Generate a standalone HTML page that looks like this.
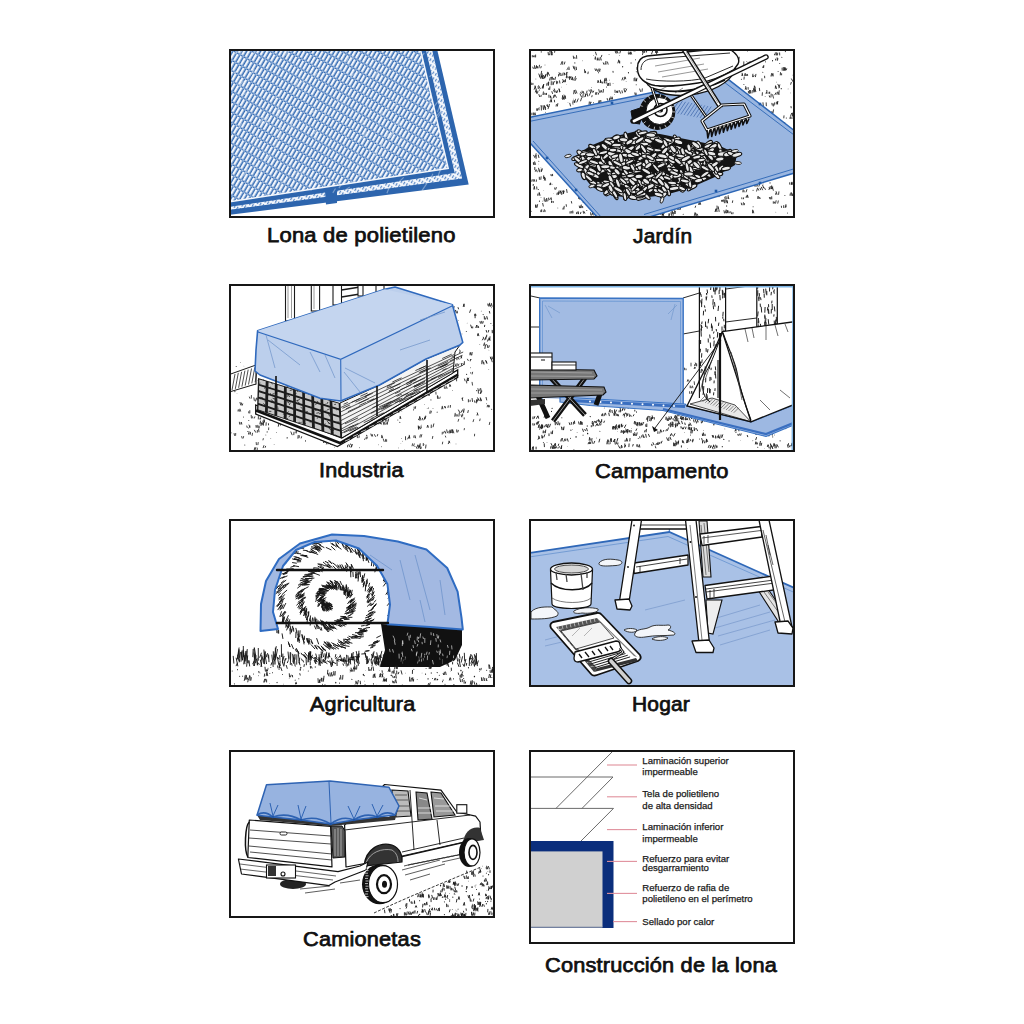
<!DOCTYPE html>
<html><head><meta charset="utf-8">
<style>
html,body{margin:0;padding:0;background:#fff;width:1024px;height:1024px;overflow:hidden;position:relative}
.lbl{position:absolute;font-family:"Liberation Sans",sans-serif;font-weight:normal;font-size:20.5px;color:#101010;white-space:nowrap;line-height:21px;transform-origin:0 0;-webkit-text-stroke:0.75px #101010;letter-spacing:0.2px}
.dt{position:absolute;font-family:"Liberation Sans",sans-serif;font-size:9.6px;color:#1a1a1a;white-space:nowrap;line-height:9.6px;-webkit-text-stroke:0.25px #1a1a1a}
svg{position:absolute;left:0;top:0}
</style></head><body>
<svg width="1024" height="1024" viewBox="0 0 1024 1024">
<defs>
<pattern id="tex1" width="4" height="9" patternUnits="userSpaceOnUse" patternTransform="rotate(30)">
<rect width="4" height="9" fill="#3169b2"/>
<rect x="0" y="0" width="2.45" height="7.7" fill="#f0f4fb"/>
<rect x="2.45" y="7.7" width="1.55" height="1.3" fill="#b5cbe8"/>
</pattern>
<pattern id="tex1b" width="3" height="5" patternUnits="userSpaceOnUse" patternTransform="rotate(30)">
<rect width="3" height="5" fill="#f4f7fc"/>
<rect x="0" y="0" width="1.2" height="3" fill="#5b89c6"/>
</pattern>

<clipPath id="c1"><rect x="230" y="50" width="264" height="167"/></clipPath>
<clipPath id="c2"><rect x="530" y="50" width="264" height="167"/></clipPath>
<clipPath id="c3"><rect x="230" y="285" width="264" height="166"/></clipPath>
<clipPath id="c4"><rect x="530" y="285" width="264" height="166"/></clipPath>
<clipPath id="c5"><rect x="230" y="520" width="264" height="166"/></clipPath>
<clipPath id="c6"><rect x="530" y="520" width="264" height="166"/></clipPath>
<clipPath id="c7"><rect x="230" y="751" width="264" height="166"/></clipPath>
<clipPath id="c8"><rect x="530" y="751" width="264" height="192"/></clipPath>
</defs>
<g clip-path="url(#c1)">
<path d="M220,40 L434.9,40 L468.7,184.5 L220,216.1 Z" fill="#2d65ae"/>
<path d="M220,40 L429.8,40 L462.1,178.4 L220,211.2 Z" fill="url(#tex1b)"/>
<path d="M220,40 L423.6,40 L454.7,173.1 L220,208.3 Z" fill="#2d65ae"/>
<path d="M220,40 L419.0,40 L449.1,169.0 L220,203.9 Z" fill="#f4f7fc"/>
<path d="M220,40 L417.5,40 L447.3,167.8 L220,202.4 Z" fill="url(#tex1)"/>
<polygon points="325,191 337,190 337,203 326,204.5" fill="#2d65ae"/>
<path d="M259.9,173.2l4.3,-6.7M335.1,116.3l4.0,-4.1M251.5,56.1l4.5,-5.8M390.6,52.3l3.3,-4.4M279.6,187.2l4.7,-7.8M237.3,129.4l4.8,-6.1M277.1,112.4l2.1,-6.9M323.1,122.9l2.7,-6.8M277.5,117.7l2.9,-7.9M406.2,131.6l3.9,-7.1M438.4,175.0l2.4,-6.3M382.1,153.7l4.8,-5.9M404.6,147.9l2.9,-5.1M415.6,173.0l3.5,-5.1M239.2,86.7l4.4,-5.9M268.0,130.5l4.1,-4.6M309.9,114.8l3.5,-4.1M340.4,108.2l3.5,-7.9M241.0,152.6l4.9,-5.0M313.9,76.4l3.5,-3.1M392.3,129.2l4.6,-6.8M338.9,188.2l3.7,-5.7M288.0,130.4l4.9,-8.0M395.0,169.3l4.7,-4.3M400.3,126.2l3.7,-5.9M243.7,176.4l3.7,-7.0M337.0,121.3l3.1,-6.3M344.0,141.2l3.8,-5.7M237.8,84.8l2.5,-5.1M411.1,166.2l4.4,-3.9M285.1,172.4l4.0,-7.6M235.5,54.1l4.3,-6.8M254.8,141.3l3.0,-7.7M265.2,127.4l2.5,-6.6M380.0,117.0l3.0,-5.6M236.9,107.3l3.3,-7.1M254.6,180.7l3.5,-7.0M358.0,168.8l2.1,-7.9M262.5,154.8l2.5,-4.5M373.1,129.9l2.7,-3.1M397.9,125.9l2.7,-4.8M314.1,134.3l3.0,-4.8M244.2,94.7l4.9,-3.6M295.7,174.8l2.9,-3.3M386.7,111.5l2.8,-8.0M414.8,57.4l4.5,-3.2M350.6,76.5l4.6,-3.1M378.4,124.8l3.1,-6.3M274.8,148.4l3.3,-7.0M253.7,147.2l2.9,-5.5M299.7,176.6l4.7,-7.9M273.8,98.9l5.0,-4.1M302.5,82.5l4.0,-3.8M425.9,101.2l4.6,-4.6M332.8,192.9l2.7,-4.4M249.6,76.3l4.7,-6.9M389.9,137.8l4.5,-6.2M302.8,93.6l4.6,-5.0M430.5,178.9l2.4,-5.2M253.7,57.6l2.2,-3.7M395.9,170.5l3.0,-4.9M394.6,106.1l3.7,-6.9M249.0,90.1l4.7,-5.2M424.4,117.5l2.8,-4.1M404.2,53.8l4.0,-7.5M255.9,178.6l2.1,-6.8M437.5,112.2l2.3,-7.2M282.2,158.4l2.3,-3.4M310.7,190.7l4.7,-6.5M284.7,120.2l2.3,-4.7M240.2,53.5l4.9,-6.5M356.1,116.3l2.9,-7.7M422.0,190.7l4.9,-7.4M276.8,140.3l4.9,-5.3M375.1,146.6l2.8,-5.3M295.9,87.2l2.2,-6.6M436.5,116.1l4.0,-4.8M427.7,107.8l2.9,-6.4M297.9,173.1l4.7,-6.5M301.5,129.8l3.7,-5.0M283.0,54.9l2.7,-7.6M346.7,62.1l2.2,-4.8M292.5,165.3l3.5,-3.7M264.1,123.7l4.4,-7.6M429.4,76.8l4.3,-3.1M402.9,97.7l2.3,-5.4M423.2,94.0l4.7,-7.3M421.4,56.5l2.9,-3.5M399.2,181.7l4.5,-4.3M375.4,77.5l3.3,-7.2M380.7,147.5l2.8,-7.7M432.4,167.6l3.6,-5.3M409.1,116.8l3.2,-6.3M285.7,55.5l3.9,-5.9M350.7,60.9l3.1,-7.3M258.0,89.1l4.5,-6.0M315.4,139.6l2.7,-8.0M342.0,123.6l3.9,-5.8M374.8,156.6l2.7,-5.5M331.6,84.2l3.2,-5.2M420.6,183.2l2.8,-4.8M242.0,62.2l3.5,-3.6M265.2,161.5l4.6,-6.4M376.1,173.4l3.1,-4.5M385.2,137.0l4.6,-3.5M431.7,133.7l2.5,-6.7M277.3,133.4l4.3,-7.7M373.8,154.6l3.0,-5.4M266.3,156.4l2.1,-3.1M400.1,141.9l2.8,-3.4M431.6,71.9l4.3,-3.8M369.2,152.2l3.3,-3.4M434.0,106.7l4.4,-5.8M266.3,98.5l2.4,-3.5M431.6,69.0l3.8,-6.0M256.6,94.3l2.7,-4.3M232.8,79.1l3.3,-7.9M362.5,138.6l4.5,-7.0M291.2,129.6l2.8,-5.1M284.2,149.7l4.4,-4.0M434.5,130.0l3.5,-3.7M392.0,133.6l3.1,-6.6M254.5,167.5l2.4,-4.3M345.4,190.0l4.3,-3.1M260.4,123.6l3.7,-6.4M336.6,103.0l3.6,-8.0M324.0,116.3l2.9,-6.0M394.9,149.7l3.5,-4.8M310.5,81.2l2.0,-6.6M356.4,178.1l4.5,-5.4M437.3,118.0l4.5,-6.0M386.9,193.2l2.9,-7.1M361.0,127.9l3.1,-8.0M312.9,112.9l3.2,-3.7M353.6,156.9l4.7,-4.3M334.5,158.6l3.9,-4.8M363.0,110.2l3.9,-4.8M426.9,163.9l4.5,-4.2M401.6,138.6l3.0,-6.7M379.3,177.0l3.6,-7.2" stroke="#ffffff" stroke-opacity="0.35" stroke-width="1.2" fill="none"/>
</g>
<g clip-path="url(#c2)">
<path d="M781.5,207.4l-0.1,-1.2M742.9,191.9l0.2,-2.2M744.1,191.9l-0.1,-1.3M746.1,191.9l0.8,-2.3M601.3,56.9l0.5,-1.6M574.1,80.3l-0.1,-1.0M575.4,80.3l0.7,-1.9M578.6,198.4l0.7,-2.4M580.2,198.4l-0.3,-2.6M581.4,198.4l-0.7,-2.8M582.3,198.4l-0.1,-2.4M589.1,104.6l0.2,-2.7M590.6,104.6l-0.3,-1.9M533.2,185.5l0.1,-1.1M754.7,91.4l-0.9,-2.8M755.8,91.4l-0.8,-2.4M596.4,54.9l-0.9,-2.8M536.5,93.2l0.0,-2.5M537.5,93.2l0.4,-2.1M785.4,51.7l-0.0,-1.6M543.0,94.6l0.4,-2.7M544.0,94.6l0.2,-1.4M546.0,94.6l-0.0,-1.2M546.3,94.6l0.1,-1.3M665.9,74.7l0.1,-1.5M666.8,74.7l0.0,-1.0M667.7,74.7l-0.4,-1.1M664.2,213.3l-0.6,-2.9M532.3,56.9l0.0,-1.3M533.7,56.9l-0.4,-1.1M534.9,56.9l-0.4,-1.1M535.6,56.9l0.0,-1.9M642.5,54.5l0.8,-2.6M656.7,54.2l-0.3,-2.2M628.5,54.1l-0.2,-1.2M629.7,54.1l-0.8,-2.2M630.5,54.1l-0.0,-1.8M631.6,54.1l-0.6,-2.1M551.1,175.6l-0.1,-1.2M552.6,175.6l-0.1,-1.3M597.6,71.3l0.7,-2.2M599.0,71.3l0.1,-1.0M599.8,71.3l-0.0,-2.4M741.7,204.8l-0.4,-1.7M743.1,204.8l0.3,-2.1M744.3,204.8l0.2,-1.2M549.6,80.1l0.7,-2.5M551.1,80.1l0.4,-2.8M540.8,211.7l0.2,-1.5M541.7,211.7l0.0,-1.9M543.7,211.7l0.6,-2.0M545.0,211.7l0.0,-1.2M762.0,80.8l-0.1,-2.0M754.2,88.1l0.2,-1.8M755.4,88.1l-0.8,-2.1M717.4,196.7l-0.9,-2.5M719.0,196.7l0.2,-2.5M762.8,67.6l0.5,-1.5M763.6,67.6l0.2,-2.0M665.5,79.6l0.5,-2.9M666.9,79.6l0.1,-2.8M773.3,203.2l0.0,-1.5M774.3,203.2l0.2,-1.1M775.6,203.2l0.5,-2.5M777.8,203.2l0.5,-2.3M566.3,77.8l0.4,-3.0M567.1,77.8l-0.0,-1.6M568.8,77.8l0.3,-1.0M569.9,77.8l0.2,-1.4M598.6,102.7l0.5,-2.2M599.5,102.7l0.4,-1.7M601.0,102.7l-0.2,-2.3M591.8,96.8l0.3,-1.2M698.6,204.4l0.4,-1.3M699.5,204.4l0.6,-2.4M700.6,204.4l-0.3,-1.2M550.0,101.9l0.4,-1.3M551.0,101.9l0.5,-1.9M551.7,101.9l-0.8,-2.8M554.6,101.9l-0.2,-1.7M698.1,75.8l-0.0,-1.4M699.0,75.8l-0.3,-2.5M700.0,75.8l-0.5,-1.7M543.3,206.1l-0.6,-2.7M717.2,209.0l-0.2,-3.0M718.6,209.0l-0.3,-2.2M672.1,213.5l-0.1,-2.7M673.0,213.5l-0.6,-1.9M675.2,213.5l-0.8,-2.9M674.7,213.5l0.7,-2.3M533.3,68.5l-0.5,-1.4M534.8,68.5l-0.3,-2.9M535.7,68.5l0.5,-1.9M547.9,74.0l0.0,-1.3M583.3,202.6l0.6,-2.3M584.2,202.6l-0.5,-1.9M585.0,202.6l-0.2,-1.2M573.7,68.4l-0.5,-2.2M574.8,68.4l-0.1,-1.6M731.5,213.8l-0.5,-1.8M732.9,213.8l0.1,-1.2M541.2,73.8l0.4,-2.5M543.5,178.4l0.2,-2.7M544.8,178.4l-0.4,-1.3M673.6,81.8l0.8,-2.8M607.5,85.5l-0.4,-2.4M608.6,85.5l-0.1,-2.1M610.1,85.5l-0.1,-2.4M597.7,82.5l0.3,-1.9M598.8,82.5l-0.5,-1.6M600.5,82.5l-0.0,-2.3M600.4,82.5l0.1,-2.3M775.7,194.4l0.2,-1.2M777.0,194.4l-0.9,-2.8M778.6,194.4l0.3,-2.6M681.4,86.0l-0.2,-2.2M682.8,86.0l0.6,-2.1M771.0,76.0l0.7,-2.6M772.0,76.0l0.7,-2.1M773.2,76.0l-0.2,-2.2M599.5,92.2l-0.7,-2.6M600.5,92.2l0.6,-1.7M601.9,92.2l-0.5,-1.4M603.2,92.2l0.2,-2.8M531.9,114.9l0.0,-1.8M533.4,114.9l0.0,-2.0M534.7,114.9l0.3,-2.1M535.5,114.9l-0.5,-1.4M564.9,74.4l-0.5,-1.4M566.2,74.4l0.3,-1.6M566.7,74.4l0.3,-2.1M716.3,56.6l0.6,-1.9M717.6,56.6l0.5,-1.6M718.5,56.6l0.2,-1.2M741.9,198.8l-0.1,-1.0M743.5,198.8l0.1,-1.0M573.6,58.4l-0.3,-2.3M575.0,58.4l-0.2,-1.1M576.7,58.4l-0.2,-2.8M548.7,89.5l0.2,-1.2M549.7,89.5l0.2,-2.7M668.7,215.4l0.4,-1.8M669.5,215.4l0.2,-1.2M671.6,215.4l-0.6,-2.8M673.1,215.4l0.2,-2.9M660.8,214.5l-0.2,-1.3M662.2,214.5l-0.1,-1.3M662.7,214.5l-0.1,-3.0M775.0,55.0l0.3,-2.1M776.5,55.0l-0.2,-2.4M777.5,55.0l0.2,-1.9M779.7,55.0l-0.1,-2.1M782.2,70.3l-0.1,-2.2M783.5,70.3l-0.2,-2.9M784.4,70.3l0.3,-2.5M785.0,70.3l-0.3,-2.6M789.8,184.3l-0.2,-1.5M791.4,184.3l0.2,-1.6M791.5,184.3l-0.2,-1.5M792.5,184.3l-0.4,-2.1M533.8,189.1l0.4,-2.2M534.7,189.1l-0.3,-2.6M536.9,189.1l-0.2,-2.2M647.5,66.6l-0.2,-1.7M716.3,52.6l0.5,-1.9M717.5,52.6l0.3,-2.7M718.1,52.6l0.1,-1.4M720.0,52.6l0.4,-1.6M752.5,212.9l0.1,-2.8M753.7,212.9l-0.5,-2.2M635.3,94.9l-0.5,-2.0M636.2,94.9l-0.2,-1.9M773.3,190.3l-0.7,-2.5M715.4,51.2l0.2,-1.9M536.7,110.3l0.1,-1.6M562.9,209.1l0.3,-1.2M563.9,209.1l0.3,-2.8M769.9,198.9l-0.5,-1.5M770.8,198.9l-0.1,-1.4M771.8,198.9l-0.1,-2.2M541.3,106.7l-0.2,-1.3M571.7,203.1l-0.3,-1.6M549.8,184.7l0.5,-1.6M550.6,184.7l0.1,-1.4M535.6,156.4l0.5,-2.7M724.4,212.9l-0.3,-1.9M725.2,212.9l0.7,-2.1M726.5,212.9l0.7,-2.5M752.6,76.7l0.3,-2.5M753.6,76.7l0.4,-1.2M755.5,76.7l0.4,-2.4M790.1,195.4l0.1,-1.4M791.3,195.4l-0.1,-2.9M792.5,195.4l0.6,-2.0M792.8,195.4l0.3,-1.2M780.3,74.9l0.2,-2.3M781.6,74.9l0.0,-1.2M693.2,83.8l-0.3,-2.1M637.4,68.6l-0.3,-1.1M638.5,68.6l0.3,-1.2M542.4,78.6l0.7,-2.8M543.4,78.6l-0.4,-1.3M642.7,52.2l-0.3,-1.0M644.2,52.2l-0.4,-1.8M644.6,52.2l0.6,-2.6M646.4,52.2l0.6,-2.6M783.8,207.2l-0.1,-1.6M785.4,207.2l0.5,-2.6M785.9,207.2l0.3,-1.3M549.9,52.3l-0.1,-2.8M551.0,52.3l0.0,-2.7M551.8,52.3l-0.5,-2.2M554.6,52.3l0.4,-2.6M764.7,77.8l-0.1,-1.6M579.7,199.2l-0.6,-1.8M583.5,213.2l-0.3,-2.0M584.8,213.2l-0.5,-1.4M544.4,180.2l0.6,-2.0M545.5,180.2l-0.9,-2.7M648.1,85.3l-0.1,-2.9M649.1,85.3l-0.9,-2.6M650.3,85.3l-0.3,-1.8M709.6,73.2l0.4,-1.1M710.4,73.2l0.3,-1.1M711.2,73.2l-0.5,-2.0M551.2,54.8l-0.2,-1.3M699.5,54.3l-0.8,-2.7M700.7,54.3l0.3,-2.3M702.6,54.3l0.4,-1.4M539.6,96.6l-0.7,-2.1M540.9,96.6l0.3,-1.4M744.0,79.2l0.2,-2.2M584.8,72.7l-0.3,-3.0M585.6,72.7l-0.1,-1.4M590.9,215.0l-0.3,-2.3M591.8,215.0l1.0,-2.7M593.3,215.0l-0.5,-1.6M694.4,215.4l0.6,-2.7M696.0,215.4l0.1,-1.4M696.2,215.4l-0.7,-2.2M697.7,215.4l-0.4,-1.2M566.4,206.3l-0.2,-1.7M616.3,51.3l-0.2,-1.0M589.3,91.0l-0.3,-1.0M695.2,207.4l0.4,-1.3M748.0,64.3l0.1,-2.0M749.4,64.3l0.5,-2.5M749.8,64.3l0.3,-1.6M709.3,56.0l0.7,-2.2M651.6,53.9l0.9,-2.5M617.9,62.9l0.8,-2.4M619.5,62.9l-0.8,-2.8M619.7,62.9l-0.0,-1.6M687.1,75.1l0.1,-1.7M688.3,75.1l-0.1,-2.7M690.0,75.1l-0.3,-2.3M562.2,98.5l0.5,-2.9M563.5,98.5l-0.6,-2.6M564.2,98.5l0.5,-2.7M565.6,98.5l-0.2,-2.4M546.6,85.2l0.5,-2.0M548.0,85.2l0.4,-3.0M548.5,85.2l0.2,-3.0M640.5,91.4l-0.8,-2.4M642.0,91.4l0.3,-2.6M730.2,53.7l0.0,-1.8M731.0,53.7l0.5,-2.0M732.0,53.7l0.4,-1.9M563.6,81.8l-0.8,-2.3M564.6,81.8l0.3,-1.5M565.4,81.8l0.1,-2.2M680.1,74.2l-0.7,-2.3M681.1,74.2l0.1,-1.4M682.5,74.2l0.2,-1.1M595.5,94.3l0.3,-1.7M596.5,94.3l0.4,-1.9M598.3,94.3l0.2,-1.0M724.4,202.8l-0.2,-2.9M726.0,202.8l-0.1,-2.1M727.6,202.8l-0.3,-1.0M727.4,202.8l-0.2,-2.2M746.1,197.4l0.4,-1.5M747.1,197.4l0.3,-1.7M748.1,197.4l-0.6,-2.2M743.8,64.8l0.0,-3.0M709.7,64.3l0.1,-1.8M710.9,64.3l1.0,-2.7M711.9,64.3l0.5,-2.0M713.6,64.3l0.3,-1.8M552.8,79.5l-0.4,-2.4M553.8,79.5l-0.1,-1.1M555.0,79.5l0.5,-2.3M633.8,51.1l-0.9,-2.6M635.1,51.1l0.3,-1.3M536.7,67.9l-0.2,-2.3M537.5,67.9l-0.1,-1.4M538.9,67.9l0.6,-2.7M540.8,67.9l0.4,-1.4M769.5,189.1l-0.3,-1.5M697.2,59.3l0.8,-2.6M695.8,68.0l-0.2,-2.0M696.8,68.0l-0.5,-2.7M698.4,68.0l-0.0,-2.0M669.8,81.2l0.0,-2.2M671.1,81.2l-0.2,-1.3M539.4,179.4l-0.1,-2.2M540.8,179.4l0.3,-2.6M721.6,201.3l0.0,-1.0M722.5,201.3l0.1,-1.1M723.7,201.3l0.1,-1.4M726.3,201.3l-0.4,-1.8M732.4,202.5l0.3,-1.7M595.5,70.5l-0.5,-1.6M596.9,70.5l-0.4,-1.5M587.9,73.7l0.3,-1.7M604.4,80.8l0.5,-2.0M605.4,80.8l-0.3,-2.1M606.7,80.8l-0.5,-2.6M644.7,73.8l-0.1,-2.3M645.7,73.8l-0.5,-1.9M647.8,73.8l0.1,-2.0M715.1,211.5l1.0,-2.8M715.9,211.5l-0.0,-2.0M717.1,211.5l-0.5,-2.3M719.1,211.5l-0.2,-1.7M615.1,92.4l-0.1,-2.2M616.4,92.4l0.3,-1.2M617.7,92.4l0.2,-1.4M617.6,92.4l-0.4,-1.1M613.1,72.3l-0.1,-1.0M568.0,69.5l-0.3,-1.4M569.2,69.5l-0.3,-2.5M570.0,213.1l0.1,-1.5M571.2,213.1l0.2,-1.5M572.8,213.1l-0.1,-2.1M667.4,56.3l-0.4,-1.1M668.4,56.3l-0.0,-1.0M665.7,88.3l0.4,-1.9M548.4,54.8l-0.3,-2.5M549.4,54.8l0.1,-1.0M551.6,54.8l0.5,-2.2M552.3,54.8l-0.7,-2.5M746.6,75.5l0.3,-1.0M747.6,75.5l-0.4,-1.2M651.2,78.6l-0.5,-2.5M579.6,207.7l-0.3,-1.7M580.5,207.7l0.7,-2.7M581.2,207.7l-0.0,-1.7M582.7,207.7l-0.1,-1.3M655.5,52.5l0.2,-2.4M656.9,52.5l-0.7,-2.7M657.7,52.5l-0.7,-2.6M727.2,212.8l0.6,-1.7M728.2,212.8l-0.3,-2.0M729.8,212.8l0.2,-1.1M754.7,186.2l-0.8,-2.4M755.9,186.2l-0.0,-1.0M757.1,186.2l0.2,-1.0M758.9,186.2l0.8,-2.3M741.9,75.6l0.4,-1.4M742.7,75.6l-0.6,-2.4M744.9,75.6l0.1,-1.5M745.2,75.6l0.0,-2.1M597.3,60.1l0.3,-1.0M598.2,60.1l0.1,-1.2M599.7,60.1l0.6,-2.7M601.2,60.1l-0.2,-1.3M551.6,202.6l-0.1,-1.6M553.2,202.6l0.1,-1.1M762.2,95.4l0.2,-2.7M721.5,68.2l0.2,-2.4M722.6,68.2l0.8,-2.4M723.8,68.2l-0.3,-1.4M725.0,68.2l0.3,-2.1M783.8,117.9l0.2,-2.1M615.8,53.0l-0.7,-2.2M616.8,53.0l0.4,-2.1M617.9,53.0l-0.3,-1.0M619.9,53.0l0.5,-1.7M672.4,61.3l-0.1,-2.8M601.9,83.0l-0.3,-1.1M602.7,83.0l0.1,-1.0M604.4,83.0l0.3,-2.2M606.0,83.0l0.3,-1.1M790.7,84.3l0.6,-1.9M678.0,72.2l0.8,-2.3M679.6,72.2l0.4,-1.7M785.5,69.9l-0.1,-1.9M786.3,69.9l0.4,-1.2M668.4,83.2l-0.6,-2.8M669.4,83.2l0.4,-2.5M671.1,83.2l0.5,-2.0M775.6,60.1l-0.1,-1.0M777.2,60.1l-0.1,-2.3M777.6,60.1l0.2,-1.7M695.0,70.5l0.3,-1.8M696.0,70.5l-0.0,-2.8M698.1,70.5l0.1,-2.5M697.7,70.5l-0.3,-1.0M531.6,84.5l-0.7,-1.9M532.9,84.5l-0.0,-1.2M693.6,60.3l-0.1,-1.5M695.1,60.3l-0.6,-2.5M695.7,60.3l-0.0,-1.8M576.5,213.7l0.3,-1.4M578.1,213.7l-0.0,-2.1M578.4,213.7l-0.2,-1.2M580.5,213.7l0.4,-1.4M757.8,198.6l0.0,-2.0M759.0,198.6l-0.4,-1.9M760.1,198.6l-0.4,-1.2M749.1,64.4l0.9,-2.5M750.0,64.4l0.3,-1.6M570.5,106.0l-0.7,-2.7M634.1,80.8l0.0,-2.3M635.3,80.8l-0.4,-3.0M636.4,80.8l0.5,-2.5M636.6,80.8l-0.2,-1.5M766.1,93.4l0.3,-1.0M767.0,93.4l-0.2,-3.0M769.0,93.4l0.1,-1.2M769.7,93.4l0.0,-1.2M562.7,99.5l0.2,-1.2M564.1,99.5l-0.4,-1.8M773.3,106.1l-0.1,-2.2M769.8,188.7l0.4,-2.2M771.0,188.7l0.6,-2.9M771.4,188.7l0.7,-2.1M772.3,188.7l0.4,-1.5M595.1,59.2l-0.1,-1.2M595.9,59.2l-0.5,-2.4M597.5,59.2l0.3,-1.4M791.2,107.8l-0.2,-1.3M790.0,118.6l0.2,-1.4M791.1,118.6l-0.1,-1.6M793.1,118.6l0.1,-2.4M793.7,118.6l0.4,-2.2M531.8,181.3l0.3,-1.6M533.3,181.3l-0.1,-1.4M534.7,181.3l-0.6,-1.9M536.4,181.3l-0.0,-1.4M535.4,92.0l0.8,-2.6M590.8,92.1l0.1,-2.4M592.3,92.1l-0.7,-2.1M593.3,92.1l0.3,-1.0M681.7,60.7l0.5,-2.2M682.6,60.7l0.5,-2.1M684.5,60.7l0.4,-1.7M745.3,89.3l0.3,-1.4M746.4,89.3l-0.7,-2.8M748.2,89.3l-0.1,-1.8M677.8,209.6l0.2,-1.4M679.0,209.6l-0.4,-2.0M680.1,209.6l0.5,-1.4M763.6,187.9l-1.0,-2.8M554.9,189.2l-0.2,-1.3M555.8,189.2l0.5,-1.7M737.9,59.1l-0.7,-2.1M738.9,59.1l0.3,-1.9M662.2,215.8l0.4,-1.9M663.7,215.8l-0.5,-2.6M654.8,67.7l0.4,-1.2M556.1,106.1l0.3,-1.6M557.4,106.1l0.4,-2.5M651.8,88.2l0.5,-2.0M603.7,64.2l-0.4,-1.4M605.0,64.2l0.2,-1.2M606.0,64.2l-0.1,-2.8M608.1,64.2l-0.6,-2.2M549.0,97.4l-0.1,-2.3M550.6,97.4l-0.2,-1.4M537.7,195.3l0.2,-1.4M539.1,195.3l0.1,-2.8M540.0,195.3l-0.5,-1.9M533.5,164.4l-0.1,-1.7M534.3,164.4l-0.3,-1.8M535.5,164.4l-0.8,-2.6M697.3,58.2l-0.2,-1.2M698.1,58.2l0.2,-2.5M699.2,58.2l-0.7,-2.2M641.6,70.0l-0.8,-2.6M642.6,70.0l0.4,-1.2M658.5,68.4l0.3,-1.7M659.3,68.4l-0.1,-3.0M660.4,68.4l0.5,-1.9M663.0,68.4l0.1,-1.9M534.8,169.7l-0.0,-2.3M725.1,198.7l-0.3,-1.5M726.3,198.7l-0.4,-2.3M728.0,198.7l0.2,-3.0M728.8,198.7l-0.4,-1.2M535.5,207.3l0.0,-2.2M536.4,207.3l-0.4,-2.3M537.1,207.3l0.5,-2.7" stroke="#1a1a1a" stroke-width="0.85" fill="none" stroke-linecap="round"/>
<path d="M790.6,116.1l1.0,-2.8M792.5,115.9l-0.0,-2.8M581.3,93.6l-0.6,-1.4M582.4,92.8l-0.3,-1.7M583.9,93.8l-0.5,-2.2M586.7,92.6l0.3,-1.6M551.2,98.3l-0.6,-2.0M553.1,98.0l1.4,-2.7M554.1,97.0l-0.1,-1.6M556.3,97.3l-1.3,-2.5M557.0,194.7l0.1,-1.5M558.4,194.6l0.6,-2.5M561.4,194.4l-0.8,-3.0M562.9,193.9l1.2,-2.6M756.6,191.1l0.9,-3.0M758.7,190.2l-0.7,-1.5M760.5,189.7l-0.4,-1.5M762.5,189.8l-1.1,-2.6M765.4,189.5l-0.9,-1.6M774.9,94.7l0.9,-1.8M776.9,94.3l0.5,-2.2M778.3,94.3l-0.1,-1.7M778.9,93.3l0.3,-2.6M540.6,78.4l-1.1,-2.4M541.9,78.0l-0.7,-2.3M544.7,78.1l1.0,-2.5M544.5,77.7l-0.9,-2.2M544.7,77.5l0.9,-2.6M535.4,171.3l0.4,-1.2M537.2,171.8l-0.6,-1.8M539.1,171.1l-0.5,-2.9M541.5,171.2l0.5,-1.7M539.7,171.8l0.1,-2.0M541.4,171.4l0.7,-2.9M560.9,64.5l1.1,-2.9M562.7,64.3l0.0,-2.4M564.4,64.0l0.5,-2.0M544.3,201.0l-0.1,-3.2M545.4,201.5l1.1,-2.0M546.6,201.3l-0.8,-1.6M547.8,200.9l0.7,-2.9M551.4,199.6l-0.2,-1.8M549.7,199.7l0.7,-1.5M769.6,97.0l-0.3,-1.2M770.9,97.1l0.3,-3.0M773.2,97.1l-0.5,-2.4M575.1,70.1l-0.5,-1.4M576.5,69.6l-0.3,-2.5M535.0,157.8l-1.3,-2.5M536.2,158.3l-0.1,-2.8M538.9,157.6l-0.6,-2.6M558.5,193.8l0.6,-2.9M559.8,193.1l1.0,-2.4M561.3,193.3l1.1,-2.3M563.7,192.8l-0.0,-2.2M563.4,193.5l-0.2,-2.3M567.1,192.5l-0.5,-3.0" stroke="#1a1a1a" stroke-width="0.85" fill="none" stroke-linecap="round"/>
<path d="M682.7,214.2a0.5,0.5 0 1,0 1.0,0a0.5,0.5 0 1,0 -1.0,0M725.7,210.1a0.5,0.5 0 1,0 0.9,0a0.5,0.5 0 1,0 -0.9,0M787.1,213.0a0.5,0.5 0 1,0 1.0,0a0.5,0.5 0 1,0 -1.0,0M746.9,51.6a0.4,0.4 0 1,0 0.8,0a0.4,0.4 0 1,0 -0.8,0M652.6,90.2a0.5,0.5 0 1,0 1.1,0a0.5,0.5 0 1,0 -1.1,0M537.8,189.5a0.5,0.5 0 1,0 1.1,0a0.5,0.5 0 1,0 -1.1,0M619.1,55.4a0.4,0.4 0 1,0 0.8,0a0.4,0.4 0 1,0 -0.8,0M557.4,208.0a0.4,0.4 0 1,0 0.9,0a0.4,0.4 0 1,0 -0.9,0M586.3,210.4a0.5,0.5 0 1,0 1.0,0a0.5,0.5 0 1,0 -1.0,0M762.8,187.2a0.5,0.5 0 1,0 1.1,0a0.5,0.5 0 1,0 -1.1,0M635.7,84.8a0.5,0.5 0 1,0 1.0,0a0.5,0.5 0 1,0 -1.0,0M624.5,88.5a0.5,0.5 0 1,0 1.1,0a0.5,0.5 0 1,0 -1.1,0M787.7,88.9a0.4,0.4 0 1,0 0.8,0a0.4,0.4 0 1,0 -0.8,0M666.2,69.6a0.5,0.5 0 1,0 0.9,0a0.5,0.5 0 1,0 -0.9,0M777.6,71.5a0.5,0.5 0 1,0 1.0,0a0.5,0.5 0 1,0 -1.0,0M790.4,92.9a0.3,0.3 0 1,0 0.7,0a0.3,0.3 0 1,0 -0.7,0M682.4,54.8a0.3,0.3 0 1,0 0.6,0a0.3,0.3 0 1,0 -0.6,0M553.5,193.7a0.3,0.3 0 1,0 0.6,0a0.3,0.3 0 1,0 -0.6,0M628.0,72.7a0.5,0.5 0 1,0 0.9,0a0.5,0.5 0 1,0 -0.9,0M784.2,122.6a0.5,0.5 0 1,0 1.0,0a0.5,0.5 0 1,0 -1.0,0M772.1,60.7a0.5,0.5 0 1,0 0.9,0a0.5,0.5 0 1,0 -0.9,0M775.5,212.2a0.3,0.3 0 1,0 0.7,0a0.3,0.3 0 1,0 -0.7,0M563.6,94.7a0.3,0.3 0 1,0 0.7,0a0.3,0.3 0 1,0 -0.7,0M572.5,104.1a0.5,0.5 0 1,0 1.0,0a0.5,0.5 0 1,0 -1.0,0M778.8,94.1a0.4,0.4 0 1,0 0.7,0a0.4,0.4 0 1,0 -0.7,0M582.1,60.8a0.4,0.4 0 1,0 0.8,0a0.4,0.4 0 1,0 -0.8,0M635.8,71.8a0.5,0.5 0 1,0 1.0,0a0.5,0.5 0 1,0 -1.0,0M600.2,69.4a0.4,0.4 0 1,0 0.8,0a0.4,0.4 0 1,0 -0.8,0M612.6,83.6a0.4,0.4 0 1,0 0.9,0a0.4,0.4 0 1,0 -0.9,0M752.7,190.3a0.4,0.4 0 1,0 0.7,0a0.4,0.4 0 1,0 -0.7,0M698.8,61.7a0.5,0.5 0 1,0 1.0,0a0.5,0.5 0 1,0 -1.0,0M762.3,72.2a0.5,0.5 0 1,0 1.0,0a0.5,0.5 0 1,0 -1.0,0M780.8,88.6a0.5,0.5 0 1,0 0.9,0a0.5,0.5 0 1,0 -0.9,0M757.8,58.0a0.5,0.5 0 1,0 0.9,0a0.5,0.5 0 1,0 -0.9,0M764.7,96.5a0.4,0.4 0 1,0 0.8,0a0.4,0.4 0 1,0 -0.8,0M790.7,193.6a0.5,0.5 0 1,0 0.9,0a0.5,0.5 0 1,0 -0.9,0M538.9,90.0a0.5,0.5 0 1,0 1.1,0a0.5,0.5 0 1,0 -1.1,0M608.6,54.5a0.4,0.4 0 1,0 0.9,0a0.4,0.4 0 1,0 -0.9,0M551.6,184.2a0.4,0.4 0 1,0 0.9,0a0.4,0.4 0 1,0 -0.9,0M561.2,87.1a0.3,0.3 0 1,0 0.6,0a0.3,0.3 0 1,0 -0.6,0M573.1,99.1a0.4,0.4 0 1,0 0.8,0a0.4,0.4 0 1,0 -0.8,0M635.0,59.8a0.5,0.5 0 1,0 1.1,0a0.5,0.5 0 1,0 -1.1,0M715.4,79.4a0.5,0.5 0 1,0 1.0,0a0.5,0.5 0 1,0 -1.0,0M773.1,97.9a0.4,0.4 0 1,0 0.7,0a0.4,0.4 0 1,0 -0.7,0M534.4,164.2a0.3,0.3 0 1,0 0.6,0a0.3,0.3 0 1,0 -0.6,0M535.5,79.0a0.4,0.4 0 1,0 0.8,0a0.4,0.4 0 1,0 -0.8,0M785.8,118.0a0.5,0.5 0 1,0 1.1,0a0.5,0.5 0 1,0 -1.1,0M690.1,51.6a0.3,0.3 0 1,0 0.6,0a0.3,0.3 0 1,0 -0.6,0M573.0,212.0a0.3,0.3 0 1,0 0.7,0a0.3,0.3 0 1,0 -0.7,0M538.8,107.3a0.4,0.4 0 1,0 0.8,0a0.4,0.4 0 1,0 -0.8,0M567.5,72.3a0.3,0.3 0 1,0 0.7,0a0.3,0.3 0 1,0 -0.7,0M530.9,211.2a0.4,0.4 0 1,0 0.9,0a0.4,0.4 0 1,0 -0.9,0M792.1,75.1a0.3,0.3 0 1,0 0.6,0a0.3,0.3 0 1,0 -0.6,0M598.6,92.8a0.4,0.4 0 1,0 0.8,0a0.4,0.4 0 1,0 -0.8,0M591.0,87.4a0.4,0.4 0 1,0 0.8,0a0.4,0.4 0 1,0 -0.8,0M593.0,55.4a0.3,0.3 0 1,0 0.7,0a0.3,0.3 0 1,0 -0.7,0M590.5,102.3a0.5,0.5 0 1,0 0.9,0a0.5,0.5 0 1,0 -0.9,0M678.1,72.9a0.4,0.4 0 1,0 0.8,0a0.4,0.4 0 1,0 -0.8,0M625.7,81.3a0.4,0.4 0 1,0 0.8,0a0.4,0.4 0 1,0 -0.8,0M768.1,189.4a0.4,0.4 0 1,0 0.9,0a0.4,0.4 0 1,0 -0.9,0M657.5,87.7a0.4,0.4 0 1,0 0.7,0a0.4,0.4 0 1,0 -0.7,0M636.2,69.0a0.4,0.4 0 1,0 0.9,0a0.4,0.4 0 1,0 -0.9,0M539.0,201.1a0.5,0.5 0 1,0 0.9,0a0.5,0.5 0 1,0 -0.9,0M775.9,82.1a0.4,0.4 0 1,0 0.8,0a0.4,0.4 0 1,0 -0.8,0M551.4,201.2a0.5,0.5 0 1,0 1.1,0a0.5,0.5 0 1,0 -1.1,0M713.1,66.2a0.4,0.4 0 1,0 0.7,0a0.4,0.4 0 1,0 -0.7,0M756.6,62.5a0.3,0.3 0 1,0 0.6,0a0.3,0.3 0 1,0 -0.6,0M546.2,198.6a0.5,0.5 0 1,0 0.9,0a0.5,0.5 0 1,0 -0.9,0M743.4,84.5a0.5,0.5 0 1,0 1.0,0a0.5,0.5 0 1,0 -1.0,0M564.0,95.6a0.4,0.4 0 1,0 0.8,0a0.4,0.4 0 1,0 -0.8,0M545.0,112.3a0.4,0.4 0 1,0 0.9,0a0.4,0.4 0 1,0 -0.9,0M741.1,67.3a0.4,0.4 0 1,0 0.8,0a0.4,0.4 0 1,0 -0.8,0M765.2,61.8a0.4,0.4 0 1,0 0.7,0a0.4,0.4 0 1,0 -0.7,0M681.9,83.3a0.4,0.4 0 1,0 0.9,0a0.4,0.4 0 1,0 -0.9,0M657.1,63.8a0.5,0.5 0 1,0 1.0,0a0.5,0.5 0 1,0 -1.0,0M779.4,63.5a0.4,0.4 0 1,0 0.7,0a0.4,0.4 0 1,0 -0.7,0M697.7,81.1a0.4,0.4 0 1,0 0.8,0a0.4,0.4 0 1,0 -0.8,0M538.3,161.3a0.5,0.5 0 1,0 1.0,0a0.5,0.5 0 1,0 -1.0,0M774.0,54.5a0.5,0.5 0 1,0 1.0,0a0.5,0.5 0 1,0 -1.0,0M543.4,190.3a0.3,0.3 0 1,0 0.6,0a0.3,0.3 0 1,0 -0.6,0M679.4,74.9a0.4,0.4 0 1,0 0.9,0a0.4,0.4 0 1,0 -0.9,0M609.2,80.1a0.4,0.4 0 1,0 0.9,0a0.4,0.4 0 1,0 -0.9,0M630.6,63.0a0.5,0.5 0 1,0 0.9,0a0.5,0.5 0 1,0 -0.9,0M566.4,69.7a0.4,0.4 0 1,0 0.9,0a0.4,0.4 0 1,0 -0.9,0M726.2,206.0a0.5,0.5 0 1,0 0.9,0a0.5,0.5 0 1,0 -0.9,0M540.5,167.8a0.4,0.4 0 1,0 0.8,0a0.4,0.4 0 1,0 -0.8,0M538.4,164.0a0.3,0.3 0 1,0 0.6,0a0.3,0.3 0 1,0 -0.6,0M766.9,55.4a0.5,0.5 0 1,0 1.1,0a0.5,0.5 0 1,0 -1.1,0M540.6,197.7a0.4,0.4 0 1,0 0.8,0a0.4,0.4 0 1,0 -0.8,0M723.5,210.6a0.3,0.3 0 1,0 0.7,0a0.3,0.3 0 1,0 -0.7,0M671.3,75.1a0.5,0.5 0 1,0 1.0,0a0.5,0.5 0 1,0 -1.0,0M546.6,105.4a0.4,0.4 0 1,0 0.7,0a0.4,0.4 0 1,0 -0.7,0M763.1,183.9a0.3,0.3 0 1,0 0.7,0a0.3,0.3 0 1,0 -0.7,0M784.4,195.4a0.5,0.5 0 1,0 1.0,0a0.5,0.5 0 1,0 -1.0,0M592.9,102.8a0.5,0.5 0 1,0 1.1,0a0.5,0.5 0 1,0 -1.1,0M741.0,79.3a0.4,0.4 0 1,0 0.7,0a0.4,0.4 0 1,0 -0.7,0M598.1,72.7a0.4,0.4 0 1,0 0.7,0a0.4,0.4 0 1,0 -0.7,0M614.3,94.4a0.4,0.4 0 1,0 0.8,0a0.4,0.4 0 1,0 -0.8,0M574.3,62.9a0.5,0.5 0 1,0 1.1,0a0.5,0.5 0 1,0 -1.1,0M622.2,66.7a0.5,0.5 0 1,0 0.9,0a0.5,0.5 0 1,0 -0.9,0M683.5,57.6a0.5,0.5 0 1,0 0.9,0a0.5,0.5 0 1,0 -0.9,0M770.9,111.7a0.4,0.4 0 1,0 0.8,0a0.4,0.4 0 1,0 -0.8,0M575.2,99.3a0.4,0.4 0 1,0 0.7,0a0.4,0.4 0 1,0 -0.7,0M551.6,175.7a0.4,0.4 0 1,0 0.7,0a0.4,0.4 0 1,0 -0.7,0M746.4,61.5a0.4,0.4 0 1,0 0.8,0a0.4,0.4 0 1,0 -0.8,0M557.5,193.0a0.5,0.5 0 1,0 0.9,0a0.5,0.5 0 1,0 -0.9,0M752.6,206.7a0.5,0.5 0 1,0 1.0,0a0.5,0.5 0 1,0 -1.0,0M542.1,201.1a0.4,0.4 0 1,0 0.8,0a0.4,0.4 0 1,0 -0.8,0M699.2,66.2a0.5,0.5 0 1,0 1.1,0a0.5,0.5 0 1,0 -1.1,0M567.7,102.6a0.3,0.3 0 1,0 0.6,0a0.3,0.3 0 1,0 -0.6,0M783.4,207.2a0.4,0.4 0 1,0 0.7,0a0.4,0.4 0 1,0 -0.7,0M544.6,65.0a0.4,0.4 0 1,0 0.8,0a0.4,0.4 0 1,0 -0.8,0M769.5,182.9a0.5,0.5 0 1,0 1.1,0a0.5,0.5 0 1,0 -1.1,0M605.9,87.0a0.5,0.5 0 1,0 1.0,0a0.5,0.5 0 1,0 -1.0,0M781.3,57.2a0.5,0.5 0 1,0 1.1,0a0.5,0.5 0 1,0 -1.1,0M565.9,84.8a0.3,0.3 0 1,0 0.6,0a0.3,0.3 0 1,0 -0.6,0M663.2,61.5a0.5,0.5 0 1,0 1.0,0a0.5,0.5 0 1,0 -1.0,0M667.3,54.6a0.3,0.3 0 1,0 0.7,0a0.3,0.3 0 1,0 -0.7,0M693.3,82.9a0.5,0.5 0 1,0 1.0,0a0.5,0.5 0 1,0 -1.0,0M540.8,51.9a0.5,0.5 0 1,0 0.9,0a0.5,0.5 0 1,0 -0.9,0" fill="#222"/>
<polygon points="529.0,117.5 726.0,77.6 800.0,135.0 800.0,171.3 646.0,218.0 598.0,218.0 529.0,141.8" fill="#9ab6e0"/>
<path d="M572.8,103.1l0.4,-2.4M574.3,102.5l0.4,-1.7M574.8,102.4l0.3,-2.0M576.9,102.0l1.3,-3.1M580.6,100.9l1.0,-3.0M792.9,81.5l-1.4,-2.6M795.1,81.1l0.2,-2.2M797.1,81.0l0.9,-1.7M620.6,93.3l-1.3,-2.8M622.4,92.8l-0.4,-2.0M624.8,92.0l-0.8,-3.0M625.5,91.6l1.1,-2.5M537.4,110.4l0.4,-1.7M539.0,109.9l-0.1,-1.7M541.4,110.1l-0.1,-3.2M543.4,109.3l-0.4,-3.5M545.6,109.6l-0.4,-2.7M543.8,109.4l0.5,-3.2M548.1,108.7l0.5,-2.1M569.7,79.6l-0.4,-2.6M571.7,79.7l-1.2,-2.4M572.5,79.2l-0.7,-2.4M572.8,79.9l-0.2,-2.4M574.9,78.5l0.6,-1.9M772.2,113.3l-0.1,-1.5M772.9,113.2l0.6,-3.4M622.0,80.0l0.8,-2.3M623.9,80.0l0.9,-2.6M625.7,78.8l-0.6,-1.8M558.5,76.1l0.1,-1.6M560.1,75.5l-1.0,-2.8M561.2,75.6l-0.5,-2.3M564.2,75.1l0.3,-1.6M562.7,75.2l0.4,-2.2M607.5,100.1l-0.3,-1.6M609.3,99.9l0.5,-1.9M609.6,100.3l0.8,-1.8M612.6,98.9l-0.4,-1.9M611.8,99.3l-1.0,-2.3M545.3,107.8l-1.1,-2.4M547.5,106.6l-0.2,-1.9M548.9,106.8l0.5,-2.4M551.2,84.8l0.1,-3.2M553.0,84.1l1.4,-2.6M553.2,84.7l-0.2,-2.9M556.7,83.8l-0.4,-2.7M557.6,83.1l0.0,-1.5M559.9,83.1l-0.4,-2.3M562.5,82.7l0.9,-1.8M775.3,88.3l0.2,-2.3M776.5,88.5l-0.7,-2.3M778.9,87.9l0.9,-3.1M779.3,87.2l-1.4,-2.9M540.2,77.1l-1.4,-3.1M541.6,76.8l-0.6,-2.5M542.6,76.9l-0.6,-3.3M545.3,75.9l0.9,-1.7M547.4,76.2l-0.0,-3.3M549.4,75.3l-1.5,-3.1M581.5,96.9l-1.4,-2.9M582.9,97.2l0.2,-2.7M585.2,96.4l0.5,-2.5M584.9,96.8l1.3,-2.6M587.7,96.1l-0.6,-2.6M589.3,95.4l1.4,-3.2M772.2,105.1l-0.3,-1.8M774.1,105.2l0.4,-2.4M776.2,104.0l0.2,-1.8M777.3,103.9l0.6,-2.4M777.6,104.0l-0.2,-2.3M763.3,106.2l-0.3,-3.5M766.3,105.8l-0.1,-3.0M795.0,107.3l-1.2,-2.4M796.7,107.3l0.9,-2.0M798.1,107.0l1.3,-2.8M798.6,106.6l0.7,-3.4M794.7,115.1l1.1,-3.0M796.0,115.3l-0.4,-3.4M796.9,114.9l0.7,-2.0M534.2,89.3l1.1,-3.1M536.0,89.0l-1.0,-3.0M538.3,88.6l-0.2,-2.0M540.2,88.6l-1.5,-2.9M542.9,87.7l0.8,-3.3M542.2,87.9l1.2,-3.0M543.0,88.4l0.6,-3.4M573.7,93.8l0.4,-3.2M575.5,93.5l-1.1,-3.0M576.9,93.1l-1.2,-3.0M552.5,93.5l-0.6,-1.9M554.5,92.1l-1.0,-2.0M555.3,91.9l-0.9,-3.0M556.9,92.5l0.3,-1.6M556.6,92.6l0.6,-1.7M559.5,91.9l-0.3,-2.9M560.0,91.5l-1.1,-2.4M748.4,93.0l0.0,-1.7M749.7,93.4l-0.2,-2.9M750.4,93.0l-0.0,-2.6M752.0,93.0l0.3,-2.5M755.0,91.8l-0.2,-3.2M753.8,92.1l-0.2,-3.1M759.7,90.7l-0.3,-2.4" stroke="#1a1a1a" stroke-width="0.85" fill="none" stroke-linecap="round"/>
<g stroke="#2d67b6" fill="none" stroke-width="1.5">
<path d="M529,117.5 L726,77.6 L800,135"/>
<path d="M529,121.5 L724,82 L800,139.5" stroke-width="0.9"/>
<path d="M529,141.8 L598,218"/>
<path d="M533,141 L602,218" stroke-width="0.9"/>
<path d="M800,171.3 L646,218"/>
<path d="M800,167 L644,214.5" stroke-width="0.9"/>
</g>
<g fill="#1f5aa8"><rect x="545.7" y="156.7" width="2.6" height="2.6"/><rect x="574.7" y="188.7" width="2.6" height="2.6"/><rect x="714.7" y="189.7" width="2.6" height="2.6"/><rect x="758.7" y="181.7" width="2.6" height="2.6"/><rect x="610.7" y="101.7" width="2.6" height="2.6"/><rect x="658.7" y="91.7" width="2.6" height="2.6"/><rect x="758.7" y="102.7" width="2.6" height="2.6"/></g>
<polygon points="574.0,157.0 590.0,146.0 612.0,137.0 635.0,131.5 660.0,134.0 690.0,140.0 720.0,146.0 737.0,154.0 735.0,165.0 715.0,177.0 690.0,188.0 665.0,195.0 640.0,198.0 613.0,196.0 592.0,187.0 580.0,172.0" fill="#141414"/>
<g fill="#e8e8e8"><ellipse cx="666.2" cy="146.1" rx="4.4" ry="1.6" transform="rotate(9 666.2 146.1)" stroke="#111" stroke-width="1.1"/><ellipse cx="636.8" cy="154.5" rx="4.5" ry="2.0" transform="rotate(-38 636.8 154.5)" stroke="#111" stroke-width="1.1"/><ellipse cx="614.8" cy="193.0" rx="4.2" ry="2.1" transform="rotate(74 614.8 193.0)" stroke="#111" stroke-width="1.1"/><ellipse cx="682.1" cy="158.8" rx="4.3" ry="1.6" transform="rotate(6 682.1 158.8)" stroke="#111" stroke-width="1.1"/><ellipse cx="672.6" cy="153.2" rx="4.6" ry="1.9" transform="rotate(36 672.6 153.2)" stroke="#111" stroke-width="1.1"/><ellipse cx="591.3" cy="168.8" rx="4.0" ry="1.9" transform="rotate(36 591.3 168.8)" stroke="#111" stroke-width="1.1"/><ellipse cx="680.7" cy="188.0" rx="4.9" ry="2.2" transform="rotate(53 680.7 188.0)" stroke="#111" stroke-width="1.1"/><ellipse cx="647.8" cy="151.0" rx="4.0" ry="2.1" transform="rotate(-12 647.8 151.0)" stroke="#111" stroke-width="1.1"/><ellipse cx="598.6" cy="172.9" rx="3.8" ry="2.2" transform="rotate(-40 598.6 172.9)" stroke="#111" stroke-width="1.1"/><ellipse cx="625.2" cy="176.1" rx="4.2" ry="2.1" transform="rotate(-34 625.2 176.1)" stroke="#111" stroke-width="1.1"/><ellipse cx="602.2" cy="163.1" rx="4.5" ry="1.9" transform="rotate(10 602.2 163.1)" stroke="#111" stroke-width="1.1"/><ellipse cx="702.3" cy="178.9" rx="4.6" ry="1.8" transform="rotate(-8 702.3 178.9)" stroke="#111" stroke-width="1.1"/><ellipse cx="592.4" cy="164.7" rx="4.6" ry="2.0" transform="rotate(18 592.4 164.7)" stroke="#111" stroke-width="1.1"/><ellipse cx="648.1" cy="151.1" rx="3.9" ry="1.8" transform="rotate(73 648.1 151.1)" stroke="#111" stroke-width="1.1"/><ellipse cx="652.3" cy="188.7" rx="5.2" ry="1.9" transform="rotate(-41 652.3 188.7)" stroke="#111" stroke-width="1.1"/><ellipse cx="653.1" cy="186.5" rx="4.7" ry="1.7" transform="rotate(-5 653.1 186.5)" stroke="#111" stroke-width="1.1"/><ellipse cx="651.0" cy="164.0" rx="3.9" ry="1.6" transform="rotate(-39 651.0 164.0)" stroke="#111" stroke-width="1.1"/><ellipse cx="589.9" cy="159.7" rx="4.8" ry="1.9" transform="rotate(77 589.9 159.7)" stroke="#111" stroke-width="1.1"/><ellipse cx="678.1" cy="186.5" rx="3.8" ry="2.0" transform="rotate(68 678.1 186.5)" stroke="#111" stroke-width="1.1"/><ellipse cx="610.5" cy="175.0" rx="5.0" ry="2.1" transform="rotate(49 610.5 175.0)" stroke="#111" stroke-width="1.1"/><ellipse cx="691.3" cy="153.9" rx="4.4" ry="1.7" transform="rotate(-19 691.3 153.9)" stroke="#111" stroke-width="1.1"/><ellipse cx="587.5" cy="169.5" rx="4.9" ry="1.7" transform="rotate(-22 587.5 169.5)" stroke="#111" stroke-width="1.1"/><ellipse cx="583.6" cy="175.8" rx="3.9" ry="2.1" transform="rotate(70 583.6 175.8)" stroke="#111" stroke-width="1.1"/><ellipse cx="655.6" cy="176.3" rx="3.9" ry="1.6" transform="rotate(58 655.6 176.3)" stroke="#111" stroke-width="1.1"/><ellipse cx="682.7" cy="157.5" rx="3.9" ry="1.8" transform="rotate(-27 682.7 157.5)" stroke="#111" stroke-width="1.1"/><ellipse cx="644.8" cy="137.6" rx="4.8" ry="1.6" transform="rotate(20 644.8 137.6)" stroke="#111" stroke-width="1.1"/><ellipse cx="622.1" cy="181.3" rx="4.8" ry="1.9" transform="rotate(61 622.1 181.3)" stroke="#111" stroke-width="1.1"/><ellipse cx="650.0" cy="157.2" rx="4.2" ry="2.2" transform="rotate(-31 650.0 157.2)" stroke="#111" stroke-width="1.1"/><ellipse cx="678.2" cy="147.4" rx="4.2" ry="1.6" transform="rotate(18 678.2 147.4)" stroke="#111" stroke-width="1.1"/><ellipse cx="668.3" cy="186.9" rx="4.0" ry="1.7" transform="rotate(63 668.3 186.9)" stroke="#111" stroke-width="1.1"/><ellipse cx="657.5" cy="159.7" rx="3.9" ry="2.1" transform="rotate(52 657.5 159.7)" stroke="#111" stroke-width="1.1"/><ellipse cx="625.4" cy="174.0" rx="4.1" ry="1.7" transform="rotate(3 625.4 174.0)" stroke="#111" stroke-width="1.1"/><ellipse cx="623.6" cy="149.7" rx="4.6" ry="1.9" transform="rotate(29 623.6 149.7)" stroke="#111" stroke-width="1.1"/><ellipse cx="656.3" cy="139.8" rx="5.2" ry="1.8" transform="rotate(39 656.3 139.8)" stroke="#111" stroke-width="1.1"/><ellipse cx="683.6" cy="160.3" rx="4.4" ry="1.8" transform="rotate(-38 683.6 160.3)" stroke="#111" stroke-width="1.1"/><ellipse cx="610.6" cy="156.7" rx="4.3" ry="2.2" transform="rotate(50 610.6 156.7)" stroke="#111" stroke-width="1.1"/><ellipse cx="629.5" cy="190.0" rx="4.0" ry="2.0" transform="rotate(78 629.5 190.0)" stroke="#111" stroke-width="1.1"/><ellipse cx="660.6" cy="185.4" rx="3.9" ry="2.1" transform="rotate(16 660.6 185.4)" stroke="#111" stroke-width="1.1"/><ellipse cx="681.3" cy="180.2" rx="5.2" ry="1.7" transform="rotate(-38 681.3 180.2)" stroke="#111" stroke-width="1.1"/><ellipse cx="618.0" cy="162.9" rx="4.3" ry="2.1" transform="rotate(15 618.0 162.9)" stroke="#111" stroke-width="1.1"/><ellipse cx="636.4" cy="185.3" rx="4.2" ry="1.7" transform="rotate(61 636.4 185.3)" stroke="#111" stroke-width="1.1"/><ellipse cx="650.8" cy="147.6" rx="4.5" ry="1.7" transform="rotate(51 650.8 147.6)" stroke="#111" stroke-width="1.1"/><ellipse cx="583.7" cy="156.5" rx="4.9" ry="2.1" transform="rotate(36 583.7 156.5)" stroke="#111" stroke-width="1.1"/><ellipse cx="638.3" cy="135.0" rx="4.6" ry="1.6" transform="rotate(56 638.3 135.0)" stroke="#111" stroke-width="1.1"/><ellipse cx="640.8" cy="184.7" rx="4.7" ry="2.2" transform="rotate(33 640.8 184.7)" stroke="#111" stroke-width="1.1"/><ellipse cx="648.6" cy="180.6" rx="5.1" ry="2.1" transform="rotate(36 648.6 180.6)" stroke="#111" stroke-width="1.1"/><ellipse cx="711.3" cy="145.5" rx="4.4" ry="2.0" transform="rotate(-15 711.3 145.5)" stroke="#111" stroke-width="1.1"/><ellipse cx="692.7" cy="164.5" rx="5.2" ry="2.0" transform="rotate(-34 692.7 164.5)" stroke="#111" stroke-width="1.1"/><ellipse cx="733.5" cy="154.3" rx="4.2" ry="2.1" transform="rotate(40 733.5 154.3)" stroke="#111" stroke-width="1.1"/><ellipse cx="637.1" cy="170.8" rx="4.9" ry="2.1" transform="rotate(-8 637.1 170.8)" stroke="#111" stroke-width="1.1"/><ellipse cx="646.4" cy="164.5" rx="4.6" ry="1.9" transform="rotate(24 646.4 164.5)" stroke="#111" stroke-width="1.1"/><ellipse cx="660.5" cy="157.0" rx="4.0" ry="2.2" transform="rotate(3 660.5 157.0)" stroke="#111" stroke-width="1.1"/><ellipse cx="638.9" cy="176.3" rx="4.1" ry="2.2" transform="rotate(-2 638.9 176.3)" stroke="#111" stroke-width="1.1"/><ellipse cx="681.7" cy="188.4" rx="4.1" ry="1.7" transform="rotate(24 681.7 188.4)" stroke="#111" stroke-width="1.1"/><ellipse cx="710.2" cy="164.5" rx="4.4" ry="2.1" transform="rotate(-6 710.2 164.5)" stroke="#111" stroke-width="1.1"/><ellipse cx="728.9" cy="153.1" rx="4.3" ry="2.0" transform="rotate(35 728.9 153.1)" stroke="#111" stroke-width="1.1"/><ellipse cx="623.4" cy="192.1" rx="4.5" ry="1.8" transform="rotate(-44 623.4 192.1)" stroke="#111" stroke-width="1.1"/><ellipse cx="585.9" cy="159.6" rx="3.9" ry="1.9" transform="rotate(41 585.9 159.6)" stroke="#111" stroke-width="1.1"/><ellipse cx="632.4" cy="181.8" rx="4.0" ry="2.1" transform="rotate(76 632.4 181.8)" stroke="#111" stroke-width="1.1"/><ellipse cx="661.3" cy="180.0" rx="4.1" ry="2.1" transform="rotate(-20 661.3 180.0)" stroke="#111" stroke-width="1.1"/><ellipse cx="668.0" cy="191.3" rx="4.7" ry="1.8" transform="rotate(69 668.0 191.3)" stroke="#111" stroke-width="1.1"/><ellipse cx="671.4" cy="167.0" rx="4.1" ry="1.8" transform="rotate(15 671.4 167.0)" stroke="#111" stroke-width="1.1"/><ellipse cx="719.5" cy="146.8" rx="4.8" ry="1.7" transform="rotate(65 719.5 146.8)" stroke="#111" stroke-width="1.1"/><ellipse cx="663.1" cy="162.3" rx="5.1" ry="1.7" transform="rotate(26 663.1 162.3)" stroke="#111" stroke-width="1.1"/><ellipse cx="622.8" cy="147.7" rx="4.4" ry="2.2" transform="rotate(14 622.8 147.7)" stroke="#111" stroke-width="1.1"/><ellipse cx="689.8" cy="176.1" rx="5.1" ry="1.9" transform="rotate(66 689.8 176.1)" stroke="#111" stroke-width="1.1"/><ellipse cx="630.1" cy="160.1" rx="4.8" ry="1.6" transform="rotate(-18 630.1 160.1)" stroke="#111" stroke-width="1.1"/><ellipse cx="681.7" cy="173.4" rx="4.1" ry="1.7" transform="rotate(73 681.7 173.4)" stroke="#111" stroke-width="1.1"/><ellipse cx="637.4" cy="154.0" rx="4.7" ry="1.9" transform="rotate(-0 637.4 154.0)" stroke="#111" stroke-width="1.1"/><ellipse cx="674.3" cy="151.3" rx="4.4" ry="1.6" transform="rotate(26 674.3 151.3)" stroke="#111" stroke-width="1.1"/><ellipse cx="626.2" cy="136.9" rx="4.9" ry="1.7" transform="rotate(75 626.2 136.9)" stroke="#111" stroke-width="1.1"/><ellipse cx="608.2" cy="192.8" rx="4.0" ry="2.2" transform="rotate(-33 608.2 192.8)" stroke="#111" stroke-width="1.1"/><ellipse cx="639.1" cy="140.0" rx="5.2" ry="1.7" transform="rotate(35 639.1 140.0)" stroke="#111" stroke-width="1.1"/><ellipse cx="640.4" cy="182.9" rx="4.2" ry="1.7" transform="rotate(59 640.4 182.9)" stroke="#111" stroke-width="1.1"/><ellipse cx="708.3" cy="147.4" rx="4.9" ry="2.0" transform="rotate(42 708.3 147.4)" stroke="#111" stroke-width="1.1"/><ellipse cx="602.7" cy="159.7" rx="4.2" ry="1.6" transform="rotate(64 602.7 159.7)" stroke="#111" stroke-width="1.1"/><ellipse cx="616.3" cy="181.4" rx="5.0" ry="2.1" transform="rotate(-3 616.3 181.4)" stroke="#111" stroke-width="1.1"/><ellipse cx="691.0" cy="147.4" rx="4.8" ry="1.9" transform="rotate(58 691.0 147.4)" stroke="#111" stroke-width="1.1"/><ellipse cx="634.8" cy="191.5" rx="4.3" ry="2.0" transform="rotate(26 634.8 191.5)" stroke="#111" stroke-width="1.1"/><ellipse cx="605.4" cy="183.4" rx="4.5" ry="2.0" transform="rotate(11 605.4 183.4)" stroke="#111" stroke-width="1.1"/><ellipse cx="672.7" cy="185.0" rx="4.9" ry="1.8" transform="rotate(31 672.7 185.0)" stroke="#111" stroke-width="1.1"/><ellipse cx="627.1" cy="196.5" rx="4.2" ry="1.6" transform="rotate(-39 627.1 196.5)" stroke="#111" stroke-width="1.1"/><ellipse cx="696.5" cy="176.7" rx="4.5" ry="2.2" transform="rotate(15 696.5 176.7)" stroke="#111" stroke-width="1.1"/><ellipse cx="684.1" cy="152.9" rx="4.9" ry="1.9" transform="rotate(63 684.1 152.9)" stroke="#111" stroke-width="1.1"/><ellipse cx="631.6" cy="173.8" rx="4.3" ry="1.8" transform="rotate(23 631.6 173.8)" stroke="#111" stroke-width="1.1"/><ellipse cx="597.5" cy="151.7" rx="5.0" ry="1.7" transform="rotate(34 597.5 151.7)" stroke="#111" stroke-width="1.1"/><ellipse cx="691.7" cy="168.9" rx="4.1" ry="1.7" transform="rotate(29 691.7 168.9)" stroke="#111" stroke-width="1.1"/><ellipse cx="608.9" cy="139.7" rx="4.0" ry="1.7" transform="rotate(0 608.9 139.7)" stroke="#111" stroke-width="1.1"/><ellipse cx="683.3" cy="151.4" rx="5.0" ry="1.9" transform="rotate(-12 683.3 151.4)" stroke="#111" stroke-width="1.1"/><ellipse cx="674.9" cy="153.6" rx="4.0" ry="1.6" transform="rotate(-49 674.9 153.6)" stroke="#111" stroke-width="1.1"/><ellipse cx="667.7" cy="155.7" rx="3.9" ry="1.9" transform="rotate(69 667.7 155.7)" stroke="#111" stroke-width="1.1"/><ellipse cx="629.4" cy="194.0" rx="4.9" ry="2.2" transform="rotate(52 629.4 194.0)" stroke="#111" stroke-width="1.1"/><ellipse cx="702.6" cy="161.0" rx="5.1" ry="1.6" transform="rotate(-33 702.6 161.0)" stroke="#111" stroke-width="1.1"/><ellipse cx="606.4" cy="155.8" rx="4.6" ry="1.8" transform="rotate(-44 606.4 155.8)" stroke="#111" stroke-width="1.1"/><ellipse cx="615.2" cy="195.1" rx="4.9" ry="1.8" transform="rotate(63 615.2 195.1)" stroke="#111" stroke-width="1.1"/><ellipse cx="657.3" cy="178.3" rx="4.6" ry="1.7" transform="rotate(69 657.3 178.3)" stroke="#111" stroke-width="1.1"/><ellipse cx="604.0" cy="170.2" rx="4.7" ry="1.8" transform="rotate(-29 604.0 170.2)" stroke="#111" stroke-width="1.1"/><ellipse cx="727.0" cy="152.7" rx="5.1" ry="2.1" transform="rotate(-30 727.0 152.7)" stroke="#111" stroke-width="1.1"/><ellipse cx="630.7" cy="160.4" rx="4.6" ry="1.8" transform="rotate(-0 630.7 160.4)" stroke="#111" stroke-width="1.1"/><ellipse cx="626.4" cy="172.9" rx="4.5" ry="1.7" transform="rotate(51 626.4 172.9)" stroke="#111" stroke-width="1.1"/><ellipse cx="658.5" cy="183.3" rx="4.7" ry="2.2" transform="rotate(-32 658.5 183.3)" stroke="#111" stroke-width="1.1"/><ellipse cx="603.4" cy="152.6" rx="4.6" ry="1.7" transform="rotate(-12 603.4 152.6)" stroke="#111" stroke-width="1.1"/><ellipse cx="712.9" cy="154.2" rx="4.6" ry="2.1" transform="rotate(48 712.9 154.2)" stroke="#111" stroke-width="1.1"/><ellipse cx="641.3" cy="193.6" rx="4.7" ry="1.8" transform="rotate(47 641.3 193.6)" stroke="#111" stroke-width="1.1"/><ellipse cx="648.3" cy="156.1" rx="3.9" ry="1.7" transform="rotate(69 648.3 156.1)" stroke="#111" stroke-width="1.1"/><ellipse cx="675.9" cy="139.9" rx="5.1" ry="2.0" transform="rotate(70 675.9 139.9)" stroke="#111" stroke-width="1.1"/><ellipse cx="688.8" cy="162.6" rx="4.1" ry="2.1" transform="rotate(-35 688.8 162.6)" stroke="#111" stroke-width="1.1"/><ellipse cx="581.6" cy="169.4" rx="5.1" ry="1.9" transform="rotate(-17 581.6 169.4)" stroke="#111" stroke-width="1.1"/><ellipse cx="719.8" cy="168.8" rx="5.2" ry="1.7" transform="rotate(-42 719.8 168.8)" stroke="#111" stroke-width="1.1"/><ellipse cx="642.5" cy="196.4" rx="3.8" ry="2.2" transform="rotate(-2 642.5 196.4)" stroke="#111" stroke-width="1.1"/><ellipse cx="615.7" cy="173.8" rx="4.3" ry="2.1" transform="rotate(-3 615.7 173.8)" stroke="#111" stroke-width="1.1"/><ellipse cx="691.1" cy="170.1" rx="4.5" ry="1.9" transform="rotate(68 691.1 170.1)" stroke="#111" stroke-width="1.1"/><ellipse cx="665.2" cy="186.5" rx="4.5" ry="2.0" transform="rotate(18 665.2 186.5)" stroke="#111" stroke-width="1.1"/><ellipse cx="604.8" cy="146.9" rx="4.5" ry="2.0" transform="rotate(42 604.8 146.9)" stroke="#111" stroke-width="1.1"/><ellipse cx="598.8" cy="167.9" rx="4.1" ry="2.0" transform="rotate(71 598.8 167.9)" stroke="#111" stroke-width="1.1"/><ellipse cx="693.9" cy="178.0" rx="4.5" ry="2.0" transform="rotate(60 693.9 178.0)" stroke="#111" stroke-width="1.1"/><ellipse cx="669.5" cy="179.3" rx="4.2" ry="1.9" transform="rotate(61 669.5 179.3)" stroke="#111" stroke-width="1.1"/><ellipse cx="699.1" cy="148.6" rx="4.9" ry="1.9" transform="rotate(17 699.1 148.6)" stroke="#111" stroke-width="1.1"/><ellipse cx="710.2" cy="168.2" rx="4.7" ry="2.1" transform="rotate(43 710.2 168.2)" stroke="#111" stroke-width="1.1"/><ellipse cx="673.1" cy="149.5" rx="4.6" ry="1.7" transform="rotate(-22 673.1 149.5)" stroke="#111" stroke-width="1.1"/><ellipse cx="664.7" cy="190.3" rx="4.9" ry="1.9" transform="rotate(58 664.7 190.3)" stroke="#111" stroke-width="1.1"/><ellipse cx="643.4" cy="155.9" rx="3.9" ry="1.7" transform="rotate(-25 643.4 155.9)" stroke="#111" stroke-width="1.1"/><ellipse cx="719.9" cy="159.7" rx="4.5" ry="2.2" transform="rotate(-44 719.9 159.7)" stroke="#111" stroke-width="1.1"/><ellipse cx="617.1" cy="171.7" rx="3.9" ry="2.1" transform="rotate(49 617.1 171.7)" stroke="#111" stroke-width="1.1"/><ellipse cx="630.9" cy="180.8" rx="4.6" ry="1.7" transform="rotate(62 630.9 180.8)" stroke="#111" stroke-width="1.1"/><ellipse cx="699.8" cy="156.0" rx="4.8" ry="2.1" transform="rotate(44 699.8 156.0)" stroke="#111" stroke-width="1.1"/><ellipse cx="638.9" cy="192.1" rx="5.1" ry="1.9" transform="rotate(-2 638.9 192.1)" stroke="#111" stroke-width="1.1"/><ellipse cx="630.2" cy="149.1" rx="4.9" ry="2.1" transform="rotate(-36 630.2 149.1)" stroke="#111" stroke-width="1.1"/><ellipse cx="671.1" cy="150.4" rx="4.7" ry="2.2" transform="rotate(44 671.1 150.4)" stroke="#111" stroke-width="1.1"/><ellipse cx="582.7" cy="160.0" rx="4.3" ry="1.6" transform="rotate(34 582.7 160.0)" stroke="#111" stroke-width="1.1"/><ellipse cx="635.4" cy="188.0" rx="5.1" ry="2.1" transform="rotate(28 635.4 188.0)" stroke="#111" stroke-width="1.1"/><ellipse cx="641.1" cy="158.0" rx="3.8" ry="1.7" transform="rotate(-34 641.1 158.0)" stroke="#111" stroke-width="1.1"/><ellipse cx="606.8" cy="181.9" rx="4.1" ry="1.7" transform="rotate(14 606.8 181.9)" stroke="#111" stroke-width="1.1"/><ellipse cx="606.3" cy="168.7" rx="4.0" ry="2.2" transform="rotate(37 606.3 168.7)" stroke="#111" stroke-width="1.1"/><ellipse cx="657.3" cy="173.6" rx="4.2" ry="1.6" transform="rotate(-21 657.3 173.6)" stroke="#111" stroke-width="1.1"/><ellipse cx="587.7" cy="167.7" rx="4.7" ry="2.2" transform="rotate(69 587.7 167.7)" stroke="#111" stroke-width="1.1"/><ellipse cx="670.2" cy="165.4" rx="4.0" ry="2.1" transform="rotate(-35 670.2 165.4)" stroke="#111" stroke-width="1.1"/><ellipse cx="689.5" cy="185.0" rx="4.6" ry="2.0" transform="rotate(17 689.5 185.0)" stroke="#111" stroke-width="1.1"/><ellipse cx="585.8" cy="168.2" rx="4.6" ry="2.0" transform="rotate(-45 585.8 168.2)" stroke="#111" stroke-width="1.1"/><ellipse cx="726.5" cy="152.4" rx="4.1" ry="1.6" transform="rotate(-1 726.5 152.4)" stroke="#111" stroke-width="1.1"/><ellipse cx="645.6" cy="166.1" rx="5.1" ry="2.1" transform="rotate(40 645.6 166.1)" stroke="#111" stroke-width="1.1"/><ellipse cx="670.8" cy="162.1" rx="4.3" ry="1.7" transform="rotate(69 670.8 162.1)" stroke="#111" stroke-width="1.1"/><ellipse cx="611.2" cy="145.5" rx="4.2" ry="1.7" transform="rotate(-14 611.2 145.5)" stroke="#111" stroke-width="1.1"/><ellipse cx="664.4" cy="159.8" rx="4.1" ry="2.1" transform="rotate(9 664.4 159.8)" stroke="#111" stroke-width="1.1"/><ellipse cx="709.6" cy="169.6" rx="4.4" ry="1.8" transform="rotate(0 709.6 169.6)" stroke="#111" stroke-width="1.1"/><ellipse cx="682.9" cy="175.7" rx="3.9" ry="1.9" transform="rotate(31 682.9 175.7)" stroke="#111" stroke-width="1.1"/><ellipse cx="697.1" cy="168.2" rx="4.8" ry="1.7" transform="rotate(4 697.1 168.2)" stroke="#111" stroke-width="1.1"/><ellipse cx="677.5" cy="159.7" rx="5.0" ry="2.0" transform="rotate(25 677.5 159.7)" stroke="#111" stroke-width="1.1"/><ellipse cx="614.8" cy="158.9" rx="4.4" ry="1.9" transform="rotate(-45 614.8 158.9)" stroke="#111" stroke-width="1.1"/><ellipse cx="633.1" cy="197.3" rx="4.2" ry="2.1" transform="rotate(10 633.1 197.3)" stroke="#111" stroke-width="1.1"/><ellipse cx="710.0" cy="156.4" rx="4.8" ry="2.0" transform="rotate(52 710.0 156.4)" stroke="#111" stroke-width="1.1"/><ellipse cx="596.2" cy="147.9" rx="4.8" ry="2.0" transform="rotate(-29 596.2 147.9)" stroke="#111" stroke-width="1.1"/><ellipse cx="645.1" cy="169.5" rx="3.9" ry="1.7" transform="rotate(42 645.1 169.5)" stroke="#111" stroke-width="1.1"/><ellipse cx="620.7" cy="156.1" rx="4.5" ry="2.0" transform="rotate(75 620.7 156.1)" stroke="#111" stroke-width="1.1"/><ellipse cx="619.2" cy="167.9" rx="4.0" ry="1.8" transform="rotate(41 619.2 167.9)" stroke="#111" stroke-width="1.1"/><ellipse cx="619.3" cy="138.0" rx="4.6" ry="2.0" transform="rotate(28 619.3 138.0)" stroke="#111" stroke-width="1.1"/><ellipse cx="592.3" cy="146.8" rx="3.9" ry="1.8" transform="rotate(24 592.3 146.8)" stroke="#111" stroke-width="1.1"/><ellipse cx="616.3" cy="179.5" rx="4.0" ry="2.2" transform="rotate(55 616.3 179.5)" stroke="#111" stroke-width="1.1"/><ellipse cx="718.5" cy="174.0" rx="4.3" ry="1.9" transform="rotate(-3 718.5 174.0)" stroke="#111" stroke-width="1.1"/><ellipse cx="672.1" cy="183.0" rx="4.5" ry="1.7" transform="rotate(6 672.1 183.0)" stroke="#111" stroke-width="1.1"/><ellipse cx="679.2" cy="152.7" rx="4.1" ry="1.6" transform="rotate(70 679.2 152.7)" stroke="#111" stroke-width="1.1"/><ellipse cx="726.0" cy="168.4" rx="4.5" ry="2.0" transform="rotate(-11 726.0 168.4)" stroke="#111" stroke-width="1.1"/><ellipse cx="592.9" cy="182.4" rx="4.0" ry="1.9" transform="rotate(25 592.9 182.4)" stroke="#111" stroke-width="1.1"/><ellipse cx="676.1" cy="139.2" rx="4.4" ry="1.7" transform="rotate(-16 676.1 139.2)" stroke="#111" stroke-width="1.1"/><ellipse cx="633.0" cy="189.2" rx="5.1" ry="1.6" transform="rotate(-40 633.0 189.2)" stroke="#111" stroke-width="1.1"/><ellipse cx="652.0" cy="133.7" rx="4.7" ry="2.0" transform="rotate(-15 652.0 133.7)" stroke="#111" stroke-width="1.1"/><ellipse cx="653.4" cy="186.7" rx="4.1" ry="1.6" transform="rotate(16 653.4 186.7)" stroke="#111" stroke-width="1.1"/><ellipse cx="621.6" cy="183.4" rx="4.2" ry="1.9" transform="rotate(-31 621.6 183.4)" stroke="#111" stroke-width="1.1"/><ellipse cx="607.1" cy="191.6" rx="4.1" ry="1.9" transform="rotate(-43 607.1 191.6)" stroke="#111" stroke-width="1.1"/><ellipse cx="672.2" cy="149.3" rx="4.3" ry="2.1" transform="rotate(-47 672.2 149.3)" stroke="#111" stroke-width="1.1"/><ellipse cx="660.2" cy="176.9" rx="5.2" ry="1.7" transform="rotate(77 660.2 176.9)" stroke="#111" stroke-width="1.1"/><ellipse cx="629.3" cy="176.5" rx="3.8" ry="2.1" transform="rotate(-42 629.3 176.5)" stroke="#111" stroke-width="1.1"/><ellipse cx="643.8" cy="139.1" rx="3.8" ry="2.2" transform="rotate(31 643.8 139.1)" stroke="#111" stroke-width="1.1"/><ellipse cx="633.9" cy="139.5" rx="4.7" ry="2.1" transform="rotate(-32 633.9 139.5)" stroke="#111" stroke-width="1.1"/><ellipse cx="620.3" cy="180.4" rx="5.0" ry="1.7" transform="rotate(-37 620.3 180.4)" stroke="#111" stroke-width="1.1"/><ellipse cx="650.2" cy="187.0" rx="4.1" ry="1.6" transform="rotate(5 650.2 187.0)" stroke="#111" stroke-width="1.1"/><ellipse cx="705.0" cy="160.7" rx="4.3" ry="1.7" transform="rotate(7 705.0 160.7)" stroke="#111" stroke-width="1.1"/><ellipse cx="660.7" cy="171.9" rx="4.8" ry="1.8" transform="rotate(9 660.7 171.9)" stroke="#111" stroke-width="1.1"/><ellipse cx="592.7" cy="170.7" rx="4.6" ry="1.9" transform="rotate(30 592.7 170.7)" stroke="#111" stroke-width="1.1"/><ellipse cx="660.2" cy="174.2" rx="4.0" ry="2.2" transform="rotate(28 660.2 174.2)" stroke="#111" stroke-width="1.1"/><ellipse cx="626.4" cy="182.4" rx="5.1" ry="2.0" transform="rotate(-33 626.4 182.4)" stroke="#111" stroke-width="1.1"/><ellipse cx="708.5" cy="143.8" rx="4.6" ry="2.1" transform="rotate(-37 708.5 143.8)" stroke="#111" stroke-width="1.1"/><ellipse cx="708.8" cy="145.7" rx="5.1" ry="1.8" transform="rotate(-20 708.8 145.7)" stroke="#111" stroke-width="1.1"/><ellipse cx="611.7" cy="144.3" rx="5.1" ry="2.1" transform="rotate(-1 611.7 144.3)" stroke="#111" stroke-width="1.1"/><ellipse cx="707.8" cy="174.5" rx="3.9" ry="1.7" transform="rotate(39 707.8 174.5)" stroke="#111" stroke-width="1.1"/><ellipse cx="693.5" cy="153.6" rx="4.0" ry="2.0" transform="rotate(44 693.5 153.6)" stroke="#111" stroke-width="1.1"/><ellipse cx="591.3" cy="162.6" rx="4.9" ry="1.9" transform="rotate(18 591.3 162.6)" stroke="#111" stroke-width="1.1"/><ellipse cx="698.6" cy="154.6" rx="4.3" ry="1.8" transform="rotate(54 698.6 154.6)" stroke="#111" stroke-width="1.1"/><ellipse cx="576.0" cy="158.0" rx="4.5" ry="1.8" transform="rotate(-23 576.0 158.0)" stroke="#111" stroke-width="1.1"/><ellipse cx="704.6" cy="158.3" rx="4.1" ry="1.8" transform="rotate(63 704.6 158.3)" stroke="#111" stroke-width="1.1"/><ellipse cx="701.6" cy="154.5" rx="4.4" ry="1.7" transform="rotate(-19 701.6 154.5)" stroke="#111" stroke-width="1.1"/><ellipse cx="664.8" cy="150.7" rx="4.3" ry="2.0" transform="rotate(-49 664.8 150.7)" stroke="#111" stroke-width="1.1"/><ellipse cx="636.0" cy="166.3" rx="4.6" ry="1.8" transform="rotate(22 636.0 166.3)" stroke="#111" stroke-width="1.1"/><ellipse cx="622.4" cy="151.5" rx="4.1" ry="1.6" transform="rotate(-24 622.4 151.5)" stroke="#111" stroke-width="1.1"/><ellipse cx="613.1" cy="176.8" rx="4.4" ry="2.1" transform="rotate(-10 613.1 176.8)" stroke="#111" stroke-width="1.1"/><ellipse cx="659.1" cy="138.9" rx="4.7" ry="1.9" transform="rotate(44 659.1 138.9)" stroke="#111" stroke-width="1.1"/><ellipse cx="596.5" cy="156.5" rx="4.3" ry="2.0" transform="rotate(10 596.5 156.5)" stroke="#111" stroke-width="1.1"/><ellipse cx="659.7" cy="181.7" rx="4.5" ry="2.2" transform="rotate(-30 659.7 181.7)" stroke="#111" stroke-width="1.1"/><ellipse cx="591.3" cy="154.5" rx="4.8" ry="2.1" transform="rotate(70 591.3 154.5)" stroke="#111" stroke-width="1.1"/><ellipse cx="663.8" cy="194.5" rx="4.0" ry="1.6" transform="rotate(-28 663.8 194.5)" stroke="#111" stroke-width="1.1"/><ellipse cx="620.7" cy="167.2" rx="5.2" ry="1.7" transform="rotate(-2 620.7 167.2)" stroke="#111" stroke-width="1.1"/><ellipse cx="699.0" cy="162.2" rx="4.5" ry="1.6" transform="rotate(-5 699.0 162.2)" stroke="#111" stroke-width="1.1"/><ellipse cx="679.2" cy="177.4" rx="5.1" ry="1.7" transform="rotate(78 679.2 177.4)" stroke="#111" stroke-width="1.1"/><ellipse cx="722.4" cy="155.7" rx="3.9" ry="1.9" transform="rotate(-2 722.4 155.7)" stroke="#111" stroke-width="1.1"/><ellipse cx="667.9" cy="176.5" rx="3.9" ry="1.8" transform="rotate(39 667.9 176.5)" stroke="#111" stroke-width="1.1"/><ellipse cx="679.5" cy="159.2" rx="4.4" ry="1.8" transform="rotate(-5 679.5 159.2)" stroke="#111" stroke-width="1.1"/><ellipse cx="696.2" cy="156.4" rx="4.1" ry="1.9" transform="rotate(27 696.2 156.4)" stroke="#111" stroke-width="1.1"/><ellipse cx="607.9" cy="168.9" rx="4.9" ry="1.7" transform="rotate(52 607.9 168.9)" stroke="#111" stroke-width="1.1"/><ellipse cx="580.5" cy="153.2" rx="4.1" ry="2.2" transform="rotate(38 580.5 153.2)" stroke="#111" stroke-width="1.1"/><ellipse cx="692.4" cy="154.6" rx="3.8" ry="1.7" transform="rotate(-3 692.4 154.6)" stroke="#111" stroke-width="1.1"/><ellipse cx="626.7" cy="179.4" rx="4.7" ry="1.6" transform="rotate(-5 626.7 179.4)" stroke="#111" stroke-width="1.1"/><ellipse cx="657.4" cy="191.5" rx="4.6" ry="1.9" transform="rotate(29 657.4 191.5)" stroke="#111" stroke-width="1.1"/><ellipse cx="655.4" cy="178.5" rx="4.0" ry="1.9" transform="rotate(45 655.4 178.5)" stroke="#111" stroke-width="1.1"/><ellipse cx="632.6" cy="167.6" rx="4.0" ry="1.8" transform="rotate(59 632.6 167.6)" stroke="#111" stroke-width="1.1"/><ellipse cx="626.2" cy="159.8" rx="5.0" ry="1.7" transform="rotate(-14 626.2 159.8)" stroke="#111" stroke-width="1.1"/><ellipse cx="671.8" cy="176.6" rx="5.1" ry="2.0" transform="rotate(-42 671.8 176.6)" stroke="#111" stroke-width="1.1"/><ellipse cx="616.2" cy="190.0" rx="4.8" ry="2.1" transform="rotate(-31 616.2 190.0)" stroke="#111" stroke-width="1.1"/><ellipse cx="634.9" cy="186.2" rx="5.1" ry="2.2" transform="rotate(-21 634.9 186.2)" stroke="#111" stroke-width="1.1"/><ellipse cx="641.4" cy="197.8" rx="5.0" ry="1.9" transform="rotate(-19 641.4 197.8)" stroke="#111" stroke-width="1.1"/><ellipse cx="704.9" cy="174.3" rx="4.9" ry="1.8" transform="rotate(-35 704.9 174.3)" stroke="#111" stroke-width="1.1"/><ellipse cx="622.1" cy="164.6" rx="4.2" ry="2.1" transform="rotate(-29 622.1 164.6)" stroke="#111" stroke-width="1.1"/><ellipse cx="641.9" cy="142.4" rx="3.9" ry="2.1" transform="rotate(-28 641.9 142.4)" stroke="#111" stroke-width="1.1"/><ellipse cx="721.5" cy="152.6" rx="4.0" ry="1.8" transform="rotate(57 721.5 152.6)" stroke="#111" stroke-width="1.1"/><ellipse cx="639.3" cy="139.7" rx="4.2" ry="1.6" transform="rotate(-14 639.3 139.7)" stroke="#111" stroke-width="1.1"/><ellipse cx="619.3" cy="158.3" rx="4.4" ry="1.7" transform="rotate(-36 619.3 158.3)" stroke="#111" stroke-width="1.1"/><ellipse cx="691.3" cy="187.3" rx="5.1" ry="1.6" transform="rotate(-42 691.3 187.3)" stroke="#111" stroke-width="1.1"/><ellipse cx="661.2" cy="172.8" rx="4.7" ry="2.0" transform="rotate(21 661.2 172.8)" stroke="#111" stroke-width="1.1"/><ellipse cx="722.4" cy="154.0" rx="5.1" ry="2.2" transform="rotate(-6 722.4 154.0)" stroke="#111" stroke-width="1.1"/><ellipse cx="635.3" cy="153.6" rx="3.9" ry="2.0" transform="rotate(-42 635.3 153.6)" stroke="#111" stroke-width="1.1"/><ellipse cx="626.4" cy="167.8" rx="4.2" ry="2.2" transform="rotate(6 626.4 167.8)" stroke="#111" stroke-width="1.1"/><ellipse cx="627.7" cy="187.3" rx="4.2" ry="1.7" transform="rotate(36 627.7 187.3)" stroke="#111" stroke-width="1.1"/><ellipse cx="645.9" cy="153.6" rx="4.7" ry="1.8" transform="rotate(12 645.9 153.6)" stroke="#111" stroke-width="1.1"/><ellipse cx="682.3" cy="162.4" rx="4.6" ry="2.1" transform="rotate(31 682.3 162.4)" stroke="#111" stroke-width="1.1"/><ellipse cx="675.3" cy="150.7" rx="4.3" ry="1.8" transform="rotate(46 675.3 150.7)" stroke="#111" stroke-width="1.1"/><ellipse cx="625.3" cy="149.8" rx="4.2" ry="2.0" transform="rotate(66 625.3 149.8)" stroke="#111" stroke-width="1.1"/><ellipse cx="713.9" cy="145.4" rx="5.1" ry="2.0" transform="rotate(-43 713.9 145.4)" stroke="#111" stroke-width="1.1"/><ellipse cx="686.4" cy="177.2" rx="4.0" ry="1.9" transform="rotate(42 686.4 177.2)" stroke="#111" stroke-width="1.1"/><ellipse cx="617.5" cy="163.5" rx="5.1" ry="1.7" transform="rotate(27 617.5 163.5)" stroke="#111" stroke-width="1.1"/><ellipse cx="640.5" cy="132.7" rx="4.0" ry="1.9" transform="rotate(35 640.5 132.7)" stroke="#111" stroke-width="1.1"/><ellipse cx="673.8" cy="170.5" rx="4.9" ry="2.0" transform="rotate(7 673.8 170.5)" stroke="#111" stroke-width="1.1"/><ellipse cx="646.8" cy="196.2" rx="4.4" ry="1.7" transform="rotate(46 646.8 196.2)" stroke="#111" stroke-width="1.1"/><ellipse cx="716.1" cy="174.8" rx="5.0" ry="1.8" transform="rotate(46 716.1 174.8)" stroke="#111" stroke-width="1.1"/><ellipse cx="706.1" cy="152.2" rx="4.7" ry="2.0" transform="rotate(17 706.1 152.2)" stroke="#111" stroke-width="1.1"/><ellipse cx="715.8" cy="170.4" rx="3.9" ry="1.8" transform="rotate(80 715.8 170.4)" stroke="#111" stroke-width="1.1"/><ellipse cx="639.0" cy="144.9" rx="5.2" ry="1.8" transform="rotate(-35 639.0 144.9)" stroke="#111" stroke-width="1.1"/><ellipse cx="612.3" cy="154.4" rx="5.2" ry="2.2" transform="rotate(19 612.3 154.4)" stroke="#111" stroke-width="1.1"/><ellipse cx="670.8" cy="171.0" rx="4.3" ry="1.9" transform="rotate(40 670.8 171.0)" stroke="#111" stroke-width="1.1"/><ellipse cx="639.7" cy="196.0" rx="3.9" ry="1.9" transform="rotate(8 639.7 196.0)" stroke="#111" stroke-width="1.1"/><ellipse cx="716.4" cy="168.1" rx="4.3" ry="1.7" transform="rotate(64 716.4 168.1)" stroke="#111" stroke-width="1.1"/><ellipse cx="631.1" cy="190.7" rx="5.2" ry="2.1" transform="rotate(24 631.1 190.7)" stroke="#111" stroke-width="1.1"/><ellipse cx="600.1" cy="185.1" rx="4.7" ry="1.9" transform="rotate(51 600.1 185.1)" stroke="#111" stroke-width="1.1"/><ellipse cx="600.9" cy="185.5" rx="4.8" ry="1.7" transform="rotate(2 600.9 185.5)" stroke="#111" stroke-width="1.1"/><ellipse cx="627.7" cy="162.4" rx="3.8" ry="1.9" transform="rotate(76 627.7 162.4)" stroke="#111" stroke-width="1.1"/><ellipse cx="644.0" cy="144.2" rx="5.0" ry="1.9" transform="rotate(-7 644.0 144.2)" stroke="#111" stroke-width="1.1"/><ellipse cx="682.9" cy="151.5" rx="3.9" ry="2.0" transform="rotate(75 682.9 151.5)" stroke="#111" stroke-width="1.1"/><ellipse cx="630.7" cy="155.3" rx="3.8" ry="2.0" transform="rotate(-36 630.7 155.3)" stroke="#111" stroke-width="1.1"/><ellipse cx="626.1" cy="155.3" rx="4.9" ry="1.9" transform="rotate(10 626.1 155.3)" stroke="#111" stroke-width="1.1"/><ellipse cx="687.0" cy="173.9" rx="3.8" ry="1.9" transform="rotate(59 687.0 173.9)" stroke="#111" stroke-width="1.1"/><ellipse cx="632.8" cy="179.7" rx="5.1" ry="2.0" transform="rotate(42 632.8 179.7)" stroke="#111" stroke-width="1.1"/><ellipse cx="680.1" cy="163.5" rx="3.9" ry="1.9" transform="rotate(46 680.1 163.5)" stroke="#111" stroke-width="1.1"/><ellipse cx="579.1" cy="165.6" rx="5.1" ry="1.8" transform="rotate(26 579.1 165.6)" stroke="#111" stroke-width="1.1"/><ellipse cx="656.1" cy="181.6" rx="4.5" ry="2.2" transform="rotate(17 656.1 181.6)" stroke="#111" stroke-width="1.1"/><ellipse cx="652.8" cy="149.8" rx="5.1" ry="1.8" transform="rotate(44 652.8 149.8)" stroke="#111" stroke-width="1.1"/><ellipse cx="586.7" cy="152.6" rx="4.9" ry="2.0" transform="rotate(10 586.7 152.6)" stroke="#111" stroke-width="1.1"/><ellipse cx="611.7" cy="179.2" rx="4.0" ry="1.7" transform="rotate(57 611.7 179.2)" stroke="#111" stroke-width="1.1"/><ellipse cx="628.0" cy="191.9" rx="4.1" ry="1.7" transform="rotate(60 628.0 191.9)" stroke="#111" stroke-width="1.1"/><ellipse cx="616.5" cy="148.3" rx="4.0" ry="1.8" transform="rotate(7 616.5 148.3)" stroke="#111" stroke-width="1.1"/><ellipse cx="622.9" cy="141.3" rx="4.8" ry="2.1" transform="rotate(74 622.9 141.3)" stroke="#111" stroke-width="1.1"/><ellipse cx="657.2" cy="150.2" rx="4.1" ry="2.1" transform="rotate(-7 657.2 150.2)" stroke="#111" stroke-width="1.1"/><ellipse cx="713.2" cy="146.5" rx="4.5" ry="2.1" transform="rotate(-32 713.2 146.5)" stroke="#111" stroke-width="1.1"/><ellipse cx="703.3" cy="165.6" rx="5.0" ry="2.0" transform="rotate(72 703.3 165.6)" stroke="#111" stroke-width="1.1"/><ellipse cx="633.4" cy="182.4" rx="3.8" ry="1.8" transform="rotate(42 633.4 182.4)" stroke="#111" stroke-width="1.1"/><ellipse cx="629.1" cy="152.1" rx="5.1" ry="2.2" transform="rotate(34 629.1 152.1)" stroke="#111" stroke-width="1.1"/><ellipse cx="638.5" cy="147.3" rx="4.2" ry="1.9" transform="rotate(-43 638.5 147.3)" stroke="#111" stroke-width="1.1"/><ellipse cx="661.1" cy="191.6" rx="4.4" ry="1.6" transform="rotate(32 661.1 191.6)" stroke="#111" stroke-width="1.1"/><ellipse cx="643.5" cy="148.9" rx="4.8" ry="1.8" transform="rotate(58 643.5 148.9)" stroke="#111" stroke-width="1.1"/><ellipse cx="599.7" cy="189.1" rx="3.8" ry="1.7" transform="rotate(26 599.7 189.1)" stroke="#111" stroke-width="1.1"/><ellipse cx="696.8" cy="157.1" rx="4.3" ry="1.8" transform="rotate(-15 696.8 157.1)" stroke="#111" stroke-width="1.1"/><ellipse cx="703.2" cy="161.0" rx="4.8" ry="1.9" transform="rotate(66 703.2 161.0)" stroke="#111" stroke-width="1.1"/><ellipse cx="699.6" cy="162.1" rx="3.9" ry="1.8" transform="rotate(-6 699.6 162.1)" stroke="#111" stroke-width="1.1"/><ellipse cx="638.9" cy="168.8" rx="3.9" ry="1.8" transform="rotate(1 638.9 168.8)" stroke="#111" stroke-width="1.1"/><ellipse cx="661.1" cy="177.6" rx="3.9" ry="2.0" transform="rotate(32 661.1 177.6)" stroke="#111" stroke-width="1.1"/><ellipse cx="652.0" cy="160.3" rx="4.5" ry="2.1" transform="rotate(-5 652.0 160.3)" stroke="#111" stroke-width="1.1"/><ellipse cx="677.3" cy="175.8" rx="4.6" ry="2.0" transform="rotate(-15 677.3 175.8)" stroke="#111" stroke-width="1.1"/><ellipse cx="610.4" cy="191.4" rx="4.3" ry="1.7" transform="rotate(55 610.4 191.4)" stroke="#111" stroke-width="1.1"/><ellipse cx="586.3" cy="172.1" rx="4.7" ry="1.7" transform="rotate(63 586.3 172.1)" stroke="#111" stroke-width="1.1"/><ellipse cx="593.8" cy="162.2" rx="5.0" ry="1.7" transform="rotate(19 593.8 162.2)" stroke="#111" stroke-width="1.1"/><ellipse cx="650.3" cy="185.0" rx="4.0" ry="2.0" transform="rotate(-29 650.3 185.0)" stroke="#111" stroke-width="1.1"/><ellipse cx="585.5" cy="159.6" rx="4.1" ry="2.0" transform="rotate(38 585.5 159.6)" stroke="#111" stroke-width="1.1"/><ellipse cx="594.7" cy="175.5" rx="4.9" ry="2.0" transform="rotate(26 594.7 175.5)" stroke="#111" stroke-width="1.1"/><ellipse cx="693.3" cy="177.9" rx="4.9" ry="1.6" transform="rotate(19 693.3 177.9)" stroke="#111" stroke-width="1.1"/><ellipse cx="660.6" cy="182.5" rx="4.5" ry="1.8" transform="rotate(11 660.6 182.5)" stroke="#111" stroke-width="1.1"/><ellipse cx="610.7" cy="179.1" rx="4.5" ry="2.0" transform="rotate(67 610.7 179.1)" stroke="#111" stroke-width="1.1"/><ellipse cx="711.0" cy="150.5" rx="3.9" ry="2.0" transform="rotate(-31 711.0 150.5)" stroke="#111" stroke-width="1.1"/><ellipse cx="647.2" cy="162.8" rx="4.0" ry="2.1" transform="rotate(67 647.2 162.8)" stroke="#111" stroke-width="1.1"/><ellipse cx="666.2" cy="185.4" rx="4.7" ry="2.1" transform="rotate(52 666.2 185.4)" stroke="#111" stroke-width="1.1"/><ellipse cx="650.6" cy="173.7" rx="4.7" ry="2.0" transform="rotate(27 650.6 173.7)" stroke="#111" stroke-width="1.1"/><ellipse cx="623.1" cy="140.2" rx="4.5" ry="2.0" transform="rotate(69 623.1 140.2)" stroke="#111" stroke-width="1.1"/><ellipse cx="616.4" cy="137.5" rx="3.9" ry="2.2" transform="rotate(-17 616.4 137.5)" stroke="#111" stroke-width="1.1"/><ellipse cx="654.4" cy="181.1" rx="4.7" ry="1.7" transform="rotate(33 654.4 181.1)" stroke="#111" stroke-width="1.1"/><ellipse cx="589.5" cy="157.8" rx="4.2" ry="2.0" transform="rotate(-40 589.5 157.8)" stroke="#111" stroke-width="1.1"/><ellipse cx="588.8" cy="178.1" rx="4.6" ry="1.6" transform="rotate(42 588.8 178.1)" stroke="#111" stroke-width="1.1"/><ellipse cx="647.8" cy="181.6" rx="4.9" ry="1.8" transform="rotate(-45 647.8 181.6)" stroke="#111" stroke-width="1.1"/><ellipse cx="632.2" cy="182.0" rx="4.5" ry="2.1" transform="rotate(52 632.2 182.0)" stroke="#111" stroke-width="1.1"/><ellipse cx="670.9" cy="142.0" rx="4.8" ry="2.0" transform="rotate(-37 670.9 142.0)" stroke="#111" stroke-width="1.1"/><ellipse cx="621.1" cy="140.2" rx="4.1" ry="2.0" transform="rotate(-11 621.1 140.2)" stroke="#111" stroke-width="1.1"/><ellipse cx="695.6" cy="145.9" rx="3.9" ry="1.8" transform="rotate(-29 695.6 145.9)" stroke="#111" stroke-width="1.1"/><ellipse cx="634.1" cy="187.7" rx="4.3" ry="1.6" transform="rotate(-50 634.1 187.7)" stroke="#111" stroke-width="1.1"/><ellipse cx="656.0" cy="167.9" rx="5.0" ry="1.6" transform="rotate(50 656.0 167.9)" stroke="#111" stroke-width="1.1"/><ellipse cx="671.6" cy="160.7" rx="4.2" ry="2.1" transform="rotate(37 671.6 160.7)" stroke="#111" stroke-width="1.1"/><ellipse cx="649.8" cy="176.2" rx="4.8" ry="1.9" transform="rotate(-20 649.8 176.2)" stroke="#111" stroke-width="1.1"/><ellipse cx="611.7" cy="185.1" rx="3.9" ry="2.2" transform="rotate(56 611.7 185.1)" stroke="#111" stroke-width="1.1"/><ellipse cx="623.6" cy="139.8" rx="4.3" ry="2.1" transform="rotate(8 623.6 139.8)" stroke="#111" stroke-width="1.1"/><ellipse cx="680.3" cy="156.0" rx="4.5" ry="1.7" transform="rotate(11 680.3 156.0)" stroke="#111" stroke-width="1.1"/><ellipse cx="661.2" cy="165.4" rx="4.4" ry="1.7" transform="rotate(-25 661.2 165.4)" stroke="#111" stroke-width="1.1"/><ellipse cx="616.4" cy="145.1" rx="5.1" ry="1.8" transform="rotate(-0 616.4 145.1)" stroke="#111" stroke-width="1.1"/><ellipse cx="634.0" cy="179.1" rx="3.8" ry="1.8" transform="rotate(34 634.0 179.1)" stroke="#111" stroke-width="1.1"/><ellipse cx="657.5" cy="150.2" rx="3.9" ry="1.6" transform="rotate(5 657.5 150.2)" stroke="#111" stroke-width="1.1"/><ellipse cx="664.8" cy="145.0" rx="5.1" ry="2.0" transform="rotate(-44 664.8 145.0)" stroke="#111" stroke-width="1.1"/><ellipse cx="634.8" cy="142.3" rx="5.0" ry="2.2" transform="rotate(-3 634.8 142.3)" stroke="#111" stroke-width="1.1"/><ellipse cx="697.9" cy="164.9" rx="5.2" ry="1.9" transform="rotate(-20 697.9 164.9)" stroke="#111" stroke-width="1.1"/><ellipse cx="610.4" cy="142.8" rx="4.5" ry="2.1" transform="rotate(-23 610.4 142.8)" stroke="#111" stroke-width="1.1"/><ellipse cx="651.1" cy="134.4" rx="5.0" ry="1.7" transform="rotate(2 651.1 134.4)" stroke="#111" stroke-width="1.1"/><ellipse cx="701.2" cy="160.1" rx="4.2" ry="1.6" transform="rotate(-10 701.2 160.1)" stroke="#111" stroke-width="1.1"/><ellipse cx="688.6" cy="173.9" rx="4.8" ry="2.1" transform="rotate(-0 688.6 173.9)" stroke="#111" stroke-width="1.1"/><ellipse cx="631.3" cy="155.5" rx="4.2" ry="2.1" transform="rotate(1 631.3 155.5)" stroke="#111" stroke-width="1.1"/><ellipse cx="649.1" cy="137.7" rx="4.7" ry="2.0" transform="rotate(41 649.1 137.7)" stroke="#111" stroke-width="1.1"/><ellipse cx="693.2" cy="186.5" rx="3.9" ry="2.0" transform="rotate(-25 693.2 186.5)" stroke="#111" stroke-width="1.1"/><ellipse cx="645.9" cy="156.2" rx="4.4" ry="1.9" transform="rotate(4 645.9 156.2)" stroke="#111" stroke-width="1.1"/><ellipse cx="674.0" cy="173.1" rx="4.6" ry="1.7" transform="rotate(20 674.0 173.1)" stroke="#111" stroke-width="1.1"/><ellipse cx="629.4" cy="142.1" rx="3.9" ry="2.0" transform="rotate(-32 629.4 142.1)" stroke="#111" stroke-width="1.1"/><ellipse cx="674.1" cy="188.4" rx="5.0" ry="1.9" transform="rotate(-9 674.1 188.4)" stroke="#111" stroke-width="1.1"/><ellipse cx="639.0" cy="165.3" rx="5.1" ry="2.1" transform="rotate(77 639.0 165.3)" stroke="#111" stroke-width="1.1"/><ellipse cx="608.0" cy="142.5" rx="4.5" ry="1.7" transform="rotate(28 608.0 142.5)" stroke="#111" stroke-width="1.1"/><ellipse cx="630.6" cy="175.7" rx="3.9" ry="1.8" transform="rotate(-6 630.6 175.7)" stroke="#111" stroke-width="1.1"/><ellipse cx="678.6" cy="142.1" rx="4.4" ry="2.2" transform="rotate(16 678.6 142.1)" stroke="#111" stroke-width="1.1"/><ellipse cx="690.4" cy="148.0" rx="4.6" ry="2.0" transform="rotate(-42 690.4 148.0)" stroke="#111" stroke-width="1.1"/><ellipse cx="611.3" cy="149.4" rx="4.4" ry="1.8" transform="rotate(7 611.3 149.4)" stroke="#111" stroke-width="1.1"/><ellipse cx="727.4" cy="154.4" rx="3.9" ry="2.2" transform="rotate(-16 727.4 154.4)" stroke="#111" stroke-width="1.1"/><ellipse cx="689.8" cy="183.2" rx="4.8" ry="1.7" transform="rotate(78 689.8 183.2)" stroke="#111" stroke-width="1.1"/><ellipse cx="706.5" cy="167.8" rx="3.9" ry="1.9" transform="rotate(25 706.5 167.8)" stroke="#111" stroke-width="1.1"/><ellipse cx="687.2" cy="167.1" rx="4.7" ry="1.8" transform="rotate(78 687.2 167.1)" stroke="#111" stroke-width="1.1"/><ellipse cx="644.9" cy="181.2" rx="4.3" ry="2.1" transform="rotate(-37 644.9 181.2)" stroke="#111" stroke-width="1.1"/><ellipse cx="667.7" cy="140.0" rx="4.6" ry="1.7" transform="rotate(20 667.7 140.0)" stroke="#111" stroke-width="1.1"/><ellipse cx="624.7" cy="194.7" rx="4.1" ry="1.6" transform="rotate(71 624.7 194.7)" stroke="#111" stroke-width="1.1"/><ellipse cx="648.3" cy="140.7" rx="4.2" ry="2.1" transform="rotate(21 648.3 140.7)" stroke="#111" stroke-width="1.1"/><ellipse cx="695.4" cy="145.5" rx="4.1" ry="1.7" transform="rotate(-3 695.4 145.5)" stroke="#111" stroke-width="1.1"/><ellipse cx="590.4" cy="173.7" rx="4.0" ry="1.8" transform="rotate(24 590.4 173.7)" stroke="#111" stroke-width="1.1"/><ellipse cx="663.6" cy="195.1" rx="3.9" ry="1.9" transform="rotate(-40 663.6 195.1)" stroke="#111" stroke-width="1.1"/><ellipse cx="699.1" cy="164.9" rx="4.3" ry="1.7" transform="rotate(72 699.1 164.9)" stroke="#111" stroke-width="1.1"/><ellipse cx="638.7" cy="164.2" rx="3.9" ry="1.8" transform="rotate(-24 638.7 164.2)" stroke="#111" stroke-width="1.1"/><ellipse cx="629.7" cy="161.9" rx="4.4" ry="1.6" transform="rotate(-24 629.7 161.9)" stroke="#111" stroke-width="1.1"/><ellipse cx="616.9" cy="150.4" rx="4.8" ry="1.7" transform="rotate(12 616.9 150.4)" stroke="#111" stroke-width="1.1"/><ellipse cx="613.3" cy="191.1" rx="4.2" ry="2.0" transform="rotate(43 613.3 191.1)" stroke="#111" stroke-width="1.1"/><ellipse cx="617.9" cy="183.1" rx="4.7" ry="1.9" transform="rotate(71 617.9 183.1)" stroke="#111" stroke-width="1.1"/><ellipse cx="577.9" cy="160.1" rx="4.9" ry="1.8" transform="rotate(40 577.9 160.1)" stroke="#111" stroke-width="1.1"/><ellipse cx="621.2" cy="193.2" rx="5.0" ry="2.0" transform="rotate(33 621.2 193.2)" stroke="#111" stroke-width="1.1"/><ellipse cx="659.7" cy="159.8" rx="4.4" ry="1.7" transform="rotate(2 659.7 159.8)" stroke="#111" stroke-width="1.1"/><ellipse cx="719.8" cy="159.1" rx="4.3" ry="2.0" transform="rotate(-9 719.8 159.1)" stroke="#111" stroke-width="1.1"/><ellipse cx="610.7" cy="164.7" rx="4.6" ry="2.1" transform="rotate(66 610.7 164.7)" stroke="#111" stroke-width="1.1"/><ellipse cx="653.6" cy="155.6" rx="4.0" ry="2.0" transform="rotate(-43 653.6 155.6)" stroke="#111" stroke-width="1.1"/><ellipse cx="615.0" cy="156.2" rx="4.0" ry="1.8" transform="rotate(-17 615.0 156.2)" stroke="#111" stroke-width="1.1"/><ellipse cx="584.0" cy="160.1" rx="4.7" ry="1.9" transform="rotate(61 584.0 160.1)" stroke="#111" stroke-width="1.1"/><ellipse cx="731.8" cy="154.1" rx="4.9" ry="1.9" transform="rotate(26 731.8 154.1)" stroke="#111" stroke-width="1.1"/><ellipse cx="614.7" cy="193.7" rx="4.9" ry="1.7" transform="rotate(59 614.7 193.7)" stroke="#111" stroke-width="1.1"/><ellipse cx="688.4" cy="152.1" rx="4.7" ry="1.9" transform="rotate(31 688.4 152.1)" stroke="#111" stroke-width="1.1"/><ellipse cx="685.9" cy="158.6" rx="5.1" ry="2.0" transform="rotate(-27 685.9 158.6)" stroke="#111" stroke-width="1.1"/><ellipse cx="714.6" cy="164.5" rx="4.3" ry="1.9" transform="rotate(-32 714.6 164.5)" stroke="#111" stroke-width="1.1"/><ellipse cx="696.5" cy="165.1" rx="4.5" ry="2.1" transform="rotate(44 696.5 165.1)" stroke="#111" stroke-width="1.1"/><ellipse cx="658.6" cy="175.4" rx="4.9" ry="1.6" transform="rotate(-46 658.6 175.4)" stroke="#111" stroke-width="1.1"/><ellipse cx="610.6" cy="188.4" rx="4.1" ry="2.0" transform="rotate(66 610.6 188.4)" stroke="#111" stroke-width="1.1"/><ellipse cx="673.1" cy="148.9" rx="4.3" ry="2.2" transform="rotate(53 673.1 148.9)" stroke="#111" stroke-width="1.1"/><ellipse cx="618.1" cy="189.7" rx="5.0" ry="1.8" transform="rotate(30 618.1 189.7)" stroke="#111" stroke-width="1.1"/><ellipse cx="595.0" cy="152.1" rx="4.1" ry="1.7" transform="rotate(64 595.0 152.1)" stroke="#111" stroke-width="1.1"/><ellipse cx="584.5" cy="153.8" rx="4.5" ry="1.8" transform="rotate(-14 584.5 153.8)" stroke="#111" stroke-width="1.1"/><ellipse cx="648.4" cy="165.7" rx="4.1" ry="2.0" transform="rotate(-39 648.4 165.7)" stroke="#111" stroke-width="1.1"/><ellipse cx="711.4" cy="153.5" rx="4.6" ry="2.1" transform="rotate(13 711.4 153.5)" stroke="#111" stroke-width="1.1"/><ellipse cx="667.3" cy="178.0" rx="4.1" ry="1.7" transform="rotate(22 667.3 178.0)" stroke="#111" stroke-width="1.1"/><ellipse cx="665.4" cy="143.2" rx="4.1" ry="1.9" transform="rotate(62 665.4 143.2)" stroke="#111" stroke-width="1.1"/><ellipse cx="705.9" cy="152.5" rx="3.8" ry="1.6" transform="rotate(63 705.9 152.5)" stroke="#111" stroke-width="1.1"/><ellipse cx="590.1" cy="154.7" rx="4.5" ry="1.9" transform="rotate(4 590.1 154.7)" stroke="#111" stroke-width="1.1"/><ellipse cx="662.4" cy="156.1" rx="5.0" ry="2.1" transform="rotate(14 662.4 156.1)" stroke="#111" stroke-width="1.1"/><ellipse cx="638.7" cy="195.6" rx="3.9" ry="1.6" transform="rotate(3 638.7 195.6)" stroke="#111" stroke-width="1.1"/><ellipse cx="641.2" cy="194.1" rx="4.9" ry="2.0" transform="rotate(-5 641.2 194.1)" stroke="#111" stroke-width="1.1"/><ellipse cx="639.6" cy="140.1" rx="5.1" ry="2.0" transform="rotate(-34 639.6 140.1)" stroke="#111" stroke-width="1.1"/><ellipse cx="613.0" cy="150.1" rx="3.8" ry="1.9" transform="rotate(-0 613.0 150.1)" stroke="#111" stroke-width="1.1"/><ellipse cx="654.3" cy="138.3" rx="4.2" ry="2.0" transform="rotate(-4 654.3 138.3)" stroke="#111" stroke-width="1.1"/><ellipse cx="650.3" cy="186.4" rx="4.3" ry="2.2" transform="rotate(-27 650.3 186.4)" stroke="#111" stroke-width="1.1"/><ellipse cx="736.8" cy="154.8" rx="5.1" ry="2.1" transform="rotate(-16 736.8 154.8)" stroke="#111" stroke-width="1.1"/><ellipse cx="624.9" cy="196.4" rx="4.1" ry="1.7" transform="rotate(80 624.9 196.4)" stroke="#111" stroke-width="1.1"/><ellipse cx="711.0" cy="167.5" rx="4.8" ry="1.9" transform="rotate(50 711.0 167.5)" stroke="#111" stroke-width="1.1"/><ellipse cx="583.1" cy="162.0" rx="4.9" ry="1.6" transform="rotate(-20 583.1 162.0)" stroke="#111" stroke-width="1.1"/><ellipse cx="620.9" cy="158.0" rx="4.9" ry="2.1" transform="rotate(79 620.9 158.0)" stroke="#111" stroke-width="1.1"/><ellipse cx="652.5" cy="133.8" rx="4.3" ry="2.1" transform="rotate(-4 652.5 133.8)" stroke="#111" stroke-width="1.1"/><ellipse cx="660.8" cy="182.1" rx="4.6" ry="2.0" transform="rotate(49 660.8 182.1)" stroke="#111" stroke-width="1.1"/><ellipse cx="650.7" cy="135.1" rx="4.9" ry="2.1" transform="rotate(4 650.7 135.1)" stroke="#111" stroke-width="1.1"/><ellipse cx="611.2" cy="167.4" rx="4.4" ry="1.7" transform="rotate(8 611.2 167.4)" stroke="#111" stroke-width="1.1"/><ellipse cx="605.3" cy="166.7" rx="4.7" ry="2.0" transform="rotate(-2 605.3 166.7)" stroke="#111" stroke-width="1.1"/><ellipse cx="650.1" cy="157.7" rx="4.5" ry="1.8" transform="rotate(29 650.1 157.7)" stroke="#111" stroke-width="1.1"/><ellipse cx="684.8" cy="180.9" rx="4.5" ry="1.8" transform="rotate(11 684.8 180.9)" stroke="#111" stroke-width="1.1"/><ellipse cx="646.2" cy="171.2" rx="5.1" ry="1.9" transform="rotate(32 646.2 171.2)" stroke="#111" stroke-width="1.1"/><ellipse cx="699.1" cy="144.6" rx="3.9" ry="1.8" transform="rotate(62 699.1 144.6)" stroke="#111" stroke-width="1.1"/><ellipse cx="695.8" cy="145.0" rx="4.9" ry="2.1" transform="rotate(39 695.8 145.0)" stroke="#111" stroke-width="1.1"/><ellipse cx="689.0" cy="147.6" rx="3.8" ry="2.0" transform="rotate(77 689.0 147.6)" stroke="#111" stroke-width="1.1"/><ellipse cx="658.9" cy="140.8" rx="4.6" ry="2.0" transform="rotate(21 658.9 140.8)" stroke="#111" stroke-width="1.1"/><ellipse cx="698.6" cy="180.5" rx="4.1" ry="2.0" transform="rotate(-12 698.6 180.5)" stroke="#111" stroke-width="1.1"/><ellipse cx="671.9" cy="157.9" rx="3.9" ry="1.9" transform="rotate(29 671.9 157.9)" stroke="#111" stroke-width="1.1"/><ellipse cx="644.1" cy="189.9" rx="4.7" ry="1.7" transform="rotate(-46 644.1 189.9)" stroke="#111" stroke-width="1.1"/><ellipse cx="705.1" cy="168.3" rx="4.5" ry="1.7" transform="rotate(28 705.1 168.3)" stroke="#111" stroke-width="1.1"/><ellipse cx="605.8" cy="185.1" rx="4.3" ry="1.9" transform="rotate(-25 605.8 185.1)" stroke="#111" stroke-width="1.1"/><ellipse cx="635.2" cy="154.2" rx="4.5" ry="1.8" transform="rotate(17 635.2 154.2)" stroke="#111" stroke-width="1.1"/><ellipse cx="640.0" cy="192.6" rx="4.3" ry="1.6" transform="rotate(-29 640.0 192.6)" stroke="#111" stroke-width="1.1"/><ellipse cx="623.2" cy="181.1" rx="4.6" ry="1.6" transform="rotate(42 623.2 181.1)" stroke="#111" stroke-width="1.1"/><ellipse cx="650.2" cy="149.0" rx="4.1" ry="1.7" transform="rotate(22 650.2 149.0)" stroke="#111" stroke-width="1.1"/><ellipse cx="658.6" cy="194.6" rx="4.6" ry="2.0" transform="rotate(15 658.6 194.6)" stroke="#111" stroke-width="1.1"/><ellipse cx="646.1" cy="181.3" rx="3.9" ry="2.2" transform="rotate(34 646.1 181.3)" stroke="#111" stroke-width="1.1"/><ellipse cx="677.8" cy="161.2" rx="4.3" ry="1.9" transform="rotate(42 677.8 161.2)" stroke="#111" stroke-width="1.1"/><ellipse cx="642.7" cy="132.9" rx="4.7" ry="1.7" transform="rotate(-12 642.7 132.9)" stroke="#111" stroke-width="1.1"/><ellipse cx="568" cy="156" rx="3.4" ry="1.5" transform="rotate(-15 568 156)" stroke="#111" stroke-width="0.8"/><ellipse cx="735" cy="151" rx="3.4" ry="1.5" transform="rotate(-10 735 151)" stroke="#111" stroke-width="0.8"/><ellipse cx="738" cy="163" rx="3.4" ry="1.5" transform="rotate(5 738 163)" stroke="#111" stroke-width="0.8"/><ellipse cx="662" cy="200" rx="3.4" ry="1.5" transform="rotate(-70 662 200)" stroke="#111" stroke-width="0.8"/><ellipse cx="592" cy="186" rx="3.4" ry="1.5" transform="rotate(-20 592 186)" stroke="#111" stroke-width="0.8"/></g>
<g stroke="#3a63a8" stroke-width="0.7">
<line x1="668.0" y1="112.0" x2="676.0" y2="100.0"/>
<line x1="671.2" y1="112.6" x2="679.2" y2="100.6"/>
<line x1="674.4" y1="113.2" x2="682.4" y2="101.2"/>
<line x1="677.6" y1="113.8" x2="685.6" y2="101.8"/>
<line x1="680.8" y1="114.4" x2="688.8" y2="102.4"/>
<line x1="684.0" y1="115.0" x2="692.0" y2="103.0"/>
<line x1="687.2" y1="115.6" x2="695.2" y2="103.6"/>
<line x1="690.4" y1="116.2" x2="698.4" y2="104.2"/>
<line x1="693.6" y1="116.8" x2="701.6" y2="104.8"/>
<line x1="696.8" y1="117.4" x2="704.8" y2="105.4"/>
<line x1="700.0" y1="118.0" x2="708.0" y2="106.0"/>
<line x1="703.2" y1="118.6" x2="711.2" y2="106.6"/>
</g>
<path d="M645,80 C650,92 668,97 690,95 C712,92 728,84 736,70 L734,66 C720,76 690,86 660,86 Z" fill="#fff" stroke="#111" stroke-width="1.4"/>
<path d="M652,88 C670,94 700,92 725,80" stroke="#111" stroke-width="1.8" fill="none"/>
<path d="M660,90 L668,86 M675,93 L683,88 M690,92 L698,87 M705,89 L712,84" stroke="#444" stroke-width="0.6"/>
<path stroke="#111" stroke-width="1.4" fill="#fff" stroke-linejoin="round" d="M637.5,69.5 C637,61 641,57 647,56 L706,50 L731,50 C738,55 740,60 738,64 L734,69.5 C720,78 705,82 698,83 C680,86 664,86.5 655,85.5 C645,84 638,78 637.5,69.5Z"/>
<path d="M641,70 C641,63 645,60 650,59 L730,53 M646,79 C660,82 690,82 705,78 L733,66" stroke="#111" stroke-width="0.9" fill="none"/>
<path d="M655,66 L700,58 M658,72 L704,64 M662,77 L708,69" stroke="#333" stroke-width="0.5" fill="none"/>
<circle cx="657.3" cy="111.9" r="18" fill="#111"/>
<circle cx="659.5" cy="111" r="13.5" fill="#fff" stroke="#111" stroke-width="1"/>
<circle cx="660.5" cy="110" r="6.5" fill="#fff" stroke="#111" stroke-width="1.6"/>
<circle cx="660.5" cy="110" r="2.5" fill="#111"/>
<path d="M675.3,111.9L672.3,111.9M674.2,118.1L671.4,117.0M671.1,123.5L668.8,121.6M666.3,127.5L664.8,124.9M660.4,129.6L659.8,126.7M654.1,129.6L654.6,126.7M648.2,127.4L649.7,124.8M643.4,123.4L645.7,121.5M640.3,117.9L643.2,116.9M639.3,111.7L642.3,111.8M640.4,105.6L643.3,106.6M643.6,100.2L645.9,102.1M648.5,96.2L649.9,98.8M654.4,94.1L654.9,97.1M660.7,94.2L660.1,97.2M666.5,96.4L665.0,99.0M671.3,100.5L668.9,102.4M674.3,106.0L671.5,107.0" stroke="#fff" stroke-width="0.7"/>
<path d="M646,106 L631,111 L633,123 L640,124" fill="#111" stroke="#111" stroke-width="1"/>
<path d="M652,88 L660,112 M691,95 L707,118" stroke="#111" stroke-width="3" fill="none"/>
<path d="M652,88 L660,112 M691,95 L707,118" stroke="#fff" stroke-width="1" fill="none"/>
<path d="M633,121 L766,57" stroke="#111" stroke-width="5.5" stroke-linecap="round"/>
<path d="M634,121 L766,57" stroke="#fff" stroke-width="2.8" stroke-linecap="round"/>
<path d="M683,48 L721,108" stroke="#111" stroke-width="5"/>
<path d="M683,48 L721,108" stroke="#fff" stroke-width="2.2"/>
<path d="M686,52 L718,103" stroke="#555" stroke-width="0.5"/>
<path d="M702,121 L722,105 L744,104 L750,116 L707,130 Z" fill="none" stroke="#111" stroke-width="3.2" stroke-linejoin="round"/>
<path d="M702,121 L722,105 L744,104 L750,116 L707,130 Z" fill="none" stroke="#fff" stroke-width="1.2" stroke-linejoin="round"/>
<path d="M707.0,130.0l0.8,8.0l2.2,-8.0M710.9,128.8l0.8,7.7l2.2,-7.7M714.8,127.7l0.8,7.4l2.2,-7.4M718.7,126.5l0.8,7.1l2.2,-7.1M722.6,125.4l0.8,6.8l2.2,-6.8M726.5,124.2l0.8,6.5l2.2,-6.5M730.4,123.1l0.8,6.2l2.2,-6.2M734.3,122.0l0.8,5.9l2.2,-5.9M738.2,120.8l0.8,5.6l2.2,-5.6M742.1,119.7l0.8,5.3l2.2,-5.3M746.0,118.5l0.8,5.0l2.2,-5.0" stroke="#111" stroke-width="1.6" fill="#fff" stroke-linejoin="round"/>
</g>
<g clip-path="url(#c3)">
<path d="M234.5,435.4l-0.4,-1.9M235.6,435.4l0.1,-2.0M456.6,380.9l0.0,-2.6M429.7,413.2l0.5,-2.3M430.8,413.2l0.6,-2.0M437.5,398.4l-0.1,-2.4M438.4,398.4l-0.7,-2.5M439.8,398.4l0.4,-1.3M384.1,441.4l-0.9,-2.5M385.4,441.4l0.3,-2.1M386.6,441.4l0.0,-1.6M258.3,419.0l0.1,-2.5M259.9,419.0l0.3,-1.1M260.5,419.0l0.2,-1.1M432.4,438.5l0.4,-2.1M472.5,385.1l-0.4,-2.8M242.1,438.1l-0.4,-1.6M243.2,438.1l0.4,-1.6M458.1,421.3l0.6,-2.0M487.2,406.9l0.3,-1.6M488.5,406.9l-0.1,-1.6M489.3,406.9l0.1,-1.2M323.5,442.6l0.4,-2.2M325.0,442.6l0.1,-1.1M326.0,442.6l-0.0,-1.5M238.1,411.2l0.0,-1.2M239.4,411.2l-0.2,-1.5M240.6,411.2l-0.6,-2.1M479.7,420.7l0.4,-1.7M462.8,400.6l-0.8,-2.3M381.6,437.7l0.2,-2.4M382.6,437.7l-0.4,-1.6M472.2,374.0l0.4,-1.8M489.3,424.6l0.5,-2.3M248.8,413.0l-0.2,-1.2M249.8,413.0l0.0,-2.4M462.5,398.7l0.2,-1.0M477.0,415.1l0.4,-1.2M478.0,415.1l-0.7,-2.3M263.0,439.9l0.3,-1.3M442.2,434.1l0.1,-1.9M445.7,437.1l-0.3,-1.0M239.6,424.1l-0.2,-1.9M240.9,424.1l0.2,-1.6M241.8,424.1l-0.4,-1.6M436.0,394.2l-0.1,-2.1M249.8,398.2l-0.4,-1.2M251.3,398.2l0.1,-2.7M262.8,422.1l0.6,-2.1M264.1,422.1l0.4,-2.2M264.4,422.1l0.1,-1.2M268.6,429.7l0.1,-1.9M254.3,449.7l0.3,-1.9M255.1,449.7l0.7,-2.2M257.2,449.7l0.1,-1.6M428.4,395.4l0.6,-2.0M429.4,395.4l-0.2,-2.7M474.5,435.9l0.1,-1.7M473.1,421.7l0.6,-2.1M256.1,427.3l-0.1,-1.9M257.1,427.3l-0.2,-1.3M258.1,427.3l-0.3,-2.0M412.1,445.8l0.5,-2.1M413.6,445.8l0.7,-1.9M357.4,437.7l-0.0,-2.8M358.9,437.7l0.4,-1.8M419.8,437.1l0.6,-2.3M421.1,437.1l0.7,-2.5M464.2,429.8l0.2,-1.3M466.7,383.0l-0.1,-1.6M449.5,386.3l0.3,-1.8M450.6,386.3l-0.1,-1.0M251.4,418.0l-0.2,-2.7M252.8,418.0l-0.2,-1.2M254.5,418.0l0.3,-1.2M256.4,444.7l-0.2,-2.2M257.9,444.7l0.3,-2.2M478.4,390.5l-0.5,-1.9M479.8,390.5l0.2,-1.6M481.1,390.5l-0.4,-2.0M464.2,419.0l0.0,-1.2M400.0,418.5l0.2,-2.0M400.8,418.5l-0.4,-1.5M418.5,427.9l-0.2,-2.0M419.5,427.9l-0.5,-1.4M421.3,427.9l-0.3,-1.8M365.9,438.8l0.4,-1.8M366.8,438.8l0.6,-1.8M385.6,421.3l0.4,-2.4M387.0,421.3l-0.1,-1.3M388.2,421.3l0.4,-2.4M296.5,430.3l-0.1,-2.5M444.4,388.4l-0.0,-1.6M445.7,388.4l0.6,-2.2M447.0,388.4l-0.2,-1.0M259.2,428.0l0.0,-1.9M240.7,405.0l-0.7,-2.6M241.9,405.0l-0.5,-2.1M242.4,405.0l0.3,-1.1M252.1,435.5l0.4,-2.3M442.4,443.9l0.3,-1.8M414.2,408.4l-0.0,-1.4M415.4,408.4l0.2,-1.8" stroke="#1a1a1a" stroke-width="0.8" fill="none" stroke-linecap="round"/>
<path d="M474.8,315.5l-0.0,-1.3M475.9,315.5l-0.3,-1.4M489.8,313.1l-0.4,-1.7M487.6,347.4l0.1,-2.0M488.7,347.4l0.6,-1.6M483.7,345.4l0.8,-2.5M485.0,345.4l-0.1,-1.1M488.0,305.3l-0.1,-1.4M489.5,305.3l0.1,-2.1M480.4,323.2l-0.4,-1.7M481.8,323.2l-0.1,-1.9M482.8,323.2l0.4,-1.6M470.0,354.9l-0.0,-1.8M471.2,354.9l-0.8,-2.3M471.8,354.9l0.3,-2.5M459.7,352.7l0.5,-1.8M488.9,306.3l-0.1,-1.6M490.5,306.3l0.2,-1.4M492.1,306.3l-0.7,-2.8M484.4,319.1l-0.1,-2.6M485.6,319.1l0.2,-1.1M487.5,319.1l-0.7,-2.6M463.3,306.5l0.6,-2.4M464.2,306.5l-0.1,-2.2M477.7,335.7l0.0,-1.4M478.8,335.7l-0.7,-2.3M456.3,312.9l-0.8,-2.6M457.4,312.9l-0.3,-1.8M469.7,312.4l0.9,-2.6M486.6,332.1l-0.4,-1.7M488.2,332.1l0.5,-1.7M484.5,326.6l0.2,-1.3M490.8,358.8l-0.4,-1.7M492.0,358.8l0.0,-1.9M492.9,358.8l0.4,-1.7M475.1,317.8l0.0,-2.9M458.5,308.9l-0.4,-1.3M471.6,327.9l-0.9,-2.8M472.7,327.9l-0.0,-1.0M484.9,348.5l0.5,-2.9M475.9,327.6l0.7,-2.2M477.1,327.6l-0.1,-2.2M478.6,327.6l-0.3,-1.3M492.3,332.8l-0.1,-2.5M493.5,332.8l-0.2,-1.5M453.7,308.4l0.4,-1.8M486.6,336.7l0.1,-1.6" stroke="#1a1a1a" stroke-width="0.9" fill="none" stroke-linecap="round"/>
<path d="M263.3,417.8a0.5,0.5 0 1,0 1.1,0a0.5,0.5 0 1,0 -1.1,0M401.9,441.2a0.4,0.4 0 1,0 0.8,0a0.4,0.4 0 1,0 -0.8,0M239.9,362.6a0.4,0.4 0 1,0 0.8,0a0.4,0.4 0 1,0 -0.8,0M466.0,374.3a0.6,0.6 0 1,0 1.2,0a0.6,0.6 0 1,0 -1.2,0M423.9,404.7a0.3,0.3 0 1,0 0.7,0a0.3,0.3 0 1,0 -0.7,0M450.1,432.1a0.6,0.6 0 1,0 1.2,0a0.6,0.6 0 1,0 -1.2,0M485.9,403.8a0.4,0.4 0 1,0 0.9,0a0.4,0.4 0 1,0 -0.9,0M488.4,369.3a0.4,0.4 0 1,0 0.8,0a0.4,0.4 0 1,0 -0.8,0M476.1,390.6a0.6,0.6 0 1,0 1.2,0a0.6,0.6 0 1,0 -1.2,0M247.3,381.9a0.6,0.6 0 1,0 1.1,0a0.6,0.6 0 1,0 -1.1,0M257.8,427.0a0.4,0.4 0 1,0 0.9,0a0.4,0.4 0 1,0 -0.9,0M454.3,366.4a0.4,0.4 0 1,0 0.8,0a0.4,0.4 0 1,0 -0.8,0M455.6,443.9a0.4,0.4 0 1,0 0.8,0a0.4,0.4 0 1,0 -0.8,0M432.6,408.5a0.4,0.4 0 1,0 0.8,0a0.4,0.4 0 1,0 -0.8,0M486.4,344.6a0.4,0.4 0 1,0 0.7,0a0.4,0.4 0 1,0 -0.7,0M491.4,409.3a0.4,0.4 0 1,0 0.7,0a0.4,0.4 0 1,0 -0.7,0M491.2,307.7a0.4,0.4 0 1,0 0.9,0a0.4,0.4 0 1,0 -0.9,0M250.3,377.1a0.3,0.3 0 1,0 0.6,0a0.3,0.3 0 1,0 -0.6,0M230.7,432.8a0.4,0.4 0 1,0 0.7,0a0.4,0.4 0 1,0 -0.7,0M238.0,410.0a0.4,0.4 0 1,0 0.8,0a0.4,0.4 0 1,0 -0.8,0M419.6,420.1a0.4,0.4 0 1,0 0.7,0a0.4,0.4 0 1,0 -0.7,0M364.1,439.2a0.4,0.4 0 1,0 0.7,0a0.4,0.4 0 1,0 -0.7,0M276.1,432.4a0.4,0.4 0 1,0 0.9,0a0.4,0.4 0 1,0 -0.9,0M359.0,447.8a0.4,0.4 0 1,0 0.9,0a0.4,0.4 0 1,0 -0.9,0M479.4,344.7a0.4,0.4 0 1,0 0.8,0a0.4,0.4 0 1,0 -0.8,0M398.2,411.8a0.6,0.6 0 1,0 1.1,0a0.6,0.6 0 1,0 -1.1,0M247.3,431.6a0.5,0.5 0 1,0 1.0,0a0.5,0.5 0 1,0 -1.0,0M461.6,333.9a0.4,0.4 0 1,0 0.8,0a0.4,0.4 0 1,0 -0.8,0M400.6,443.7a0.3,0.3 0 1,0 0.6,0a0.3,0.3 0 1,0 -0.6,0M366.3,435.4a0.5,0.5 0 1,0 0.9,0a0.5,0.5 0 1,0 -0.9,0M277.6,423.1a0.5,0.5 0 1,0 1.1,0a0.5,0.5 0 1,0 -1.1,0M471.2,359.4a0.4,0.4 0 1,0 0.8,0a0.4,0.4 0 1,0 -0.8,0M350.1,444.1a0.4,0.4 0 1,0 0.7,0a0.4,0.4 0 1,0 -0.7,0M419.5,428.7a0.5,0.5 0 1,0 1.0,0a0.5,0.5 0 1,0 -1.0,0M350.2,439.2a0.5,0.5 0 1,0 0.9,0a0.5,0.5 0 1,0 -0.9,0M295.2,432.0a0.5,0.5 0 1,0 1.0,0a0.5,0.5 0 1,0 -1.0,0M244.3,444.9a0.5,0.5 0 1,0 1.0,0a0.5,0.5 0 1,0 -1.0,0M251.2,380.4a0.4,0.4 0 1,0 0.9,0a0.4,0.4 0 1,0 -0.9,0M270.4,438.3a0.4,0.4 0 1,0 0.8,0a0.4,0.4 0 1,0 -0.8,0M414.4,446.3a0.5,0.5 0 1,0 1.0,0a0.5,0.5 0 1,0 -1.0,0M401.2,438.6a0.4,0.4 0 1,0 0.9,0a0.4,0.4 0 1,0 -0.9,0M280.0,425.1a0.5,0.5 0 1,0 1.0,0a0.5,0.5 0 1,0 -1.0,0M470.3,372.9a0.5,0.5 0 1,0 0.9,0a0.5,0.5 0 1,0 -0.9,0M478.8,400.0a0.4,0.4 0 1,0 0.7,0a0.4,0.4 0 1,0 -0.7,0M458.2,320.3a0.3,0.3 0 1,0 0.7,0a0.3,0.3 0 1,0 -0.7,0M488.6,350.1a0.3,0.3 0 1,0 0.7,0a0.3,0.3 0 1,0 -0.7,0M241.6,373.6a0.6,0.6 0 1,0 1.2,0a0.6,0.6 0 1,0 -1.2,0M265.4,435.0a0.4,0.4 0 1,0 0.9,0a0.4,0.4 0 1,0 -0.9,0M381.0,446.7a0.4,0.4 0 1,0 0.9,0a0.4,0.4 0 1,0 -0.9,0M466.8,323.1a0.3,0.3 0 1,0 0.6,0a0.3,0.3 0 1,0 -0.6,0M378.3,444.8a0.4,0.4 0 1,0 0.8,0a0.4,0.4 0 1,0 -0.8,0M480.8,311.1a0.4,0.4 0 1,0 0.9,0a0.4,0.4 0 1,0 -0.9,0M420.9,425.1a0.4,0.4 0 1,0 0.8,0a0.4,0.4 0 1,0 -0.8,0M233.5,380.3a0.6,0.6 0 1,0 1.2,0a0.6,0.6 0 1,0 -1.2,0M334.3,447.2a0.3,0.3 0 1,0 0.7,0a0.3,0.3 0 1,0 -0.7,0M398.3,447.9a0.4,0.4 0 1,0 0.8,0a0.4,0.4 0 1,0 -0.8,0M465.8,331.4a0.5,0.5 0 1,0 1.0,0a0.5,0.5 0 1,0 -1.0,0M397.5,420.0a0.4,0.4 0 1,0 0.7,0a0.4,0.4 0 1,0 -0.7,0M304.9,440.9a0.6,0.6 0 1,0 1.2,0a0.6,0.6 0 1,0 -1.2,0M248.3,420.4a0.5,0.5 0 1,0 1.0,0a0.5,0.5 0 1,0 -1.0,0M236.7,393.2a0.3,0.3 0 1,0 0.6,0a0.3,0.3 0 1,0 -0.6,0M426.8,408.4a0.3,0.3 0 1,0 0.7,0a0.3,0.3 0 1,0 -0.7,0M273.7,444.3a0.4,0.4 0 1,0 0.8,0a0.4,0.4 0 1,0 -0.8,0M320.6,440.7a0.4,0.4 0 1,0 0.8,0a0.4,0.4 0 1,0 -0.8,0M436.8,412.2a0.4,0.4 0 1,0 0.7,0a0.4,0.4 0 1,0 -0.7,0M427.9,408.0a0.5,0.5 0 1,0 1.0,0a0.5,0.5 0 1,0 -1.0,0M404.5,449.7a0.3,0.3 0 1,0 0.6,0a0.3,0.3 0 1,0 -0.6,0M469.9,367.8a0.4,0.4 0 1,0 0.9,0a0.4,0.4 0 1,0 -0.9,0M266.6,431.9a0.5,0.5 0 1,0 1.1,0a0.5,0.5 0 1,0 -1.1,0M452.0,390.7a0.4,0.4 0 1,0 0.8,0a0.4,0.4 0 1,0 -0.8,0M236.2,385.0a0.5,0.5 0 1,0 1.0,0a0.5,0.5 0 1,0 -1.0,0M482.6,314.6a0.5,0.5 0 1,0 1.1,0a0.5,0.5 0 1,0 -1.1,0M286.7,437.8a0.5,0.5 0 1,0 0.9,0a0.5,0.5 0 1,0 -0.9,0M490.4,323.6a0.5,0.5 0 1,0 1.0,0a0.5,0.5 0 1,0 -1.0,0M238.1,382.5a0.5,0.5 0 1,0 1.0,0a0.5,0.5 0 1,0 -1.0,0M458.9,350.1a0.5,0.5 0 1,0 1.0,0a0.5,0.5 0 1,0 -1.0,0M254.6,383.8a0.5,0.5 0 1,0 1.1,0a0.5,0.5 0 1,0 -1.1,0M399.5,422.4a0.4,0.4 0 1,0 0.7,0a0.4,0.4 0 1,0 -0.7,0M417.9,419.2a0.5,0.5 0 1,0 1.1,0a0.5,0.5 0 1,0 -1.1,0M243.0,416.9a0.5,0.5 0 1,0 1.0,0a0.5,0.5 0 1,0 -1.0,0M248.4,433.8a0.5,0.5 0 1,0 0.9,0a0.5,0.5 0 1,0 -0.9,0M235.7,366.4a0.5,0.5 0 1,0 1.0,0a0.5,0.5 0 1,0 -1.0,0M492.2,325.3a0.3,0.3 0 1,0 0.6,0a0.3,0.3 0 1,0 -0.6,0M413.0,409.8a0.6,0.6 0 1,0 1.2,0a0.6,0.6 0 1,0 -1.2,0M423.7,444.3a0.4,0.4 0 1,0 0.8,0a0.4,0.4 0 1,0 -0.8,0M234.3,391.6a0.6,0.6 0 1,0 1.2,0a0.6,0.6 0 1,0 -1.2,0M401.5,411.2a0.3,0.3 0 1,0 0.7,0a0.3,0.3 0 1,0 -0.7,0M430.6,399.9a0.4,0.4 0 1,0 0.7,0a0.4,0.4 0 1,0 -0.7,0M243.6,366.0a0.3,0.3 0 1,0 0.7,0a0.3,0.3 0 1,0 -0.7,0M463.6,408.5a0.4,0.4 0 1,0 0.8,0a0.4,0.4 0 1,0 -0.8,0" fill="#222"/>
<path d="M347.6,446.9l0.1,-1.6M349.8,446.8l-0.9,-2.2M351.6,446.7l0.4,-2.2M351.1,447.2l1.0,-2.6M326.5,444.0l0.6,-1.6M328.1,443.9l0.7,-2.7M330.5,444.1l0.3,-1.3M454.8,416.3l0.4,-3.0M456.1,416.1l-0.2,-1.4M457.3,416.0l-0.2,-1.4M458.9,416.2l0.4,-3.0M462.6,416.0l0.1,-2.1M461.7,416.9l-0.6,-2.1M255.6,432.2l-1.1,-2.0M257.3,432.3l0.1,-1.8M259.0,431.8l-0.4,-2.7M278.3,426.3l0.5,-2.7M280.3,424.7l-0.2,-1.7M427.1,427.4l0.5,-1.9M428.4,427.2l-0.6,-1.6M431.2,427.7l0.1,-2.7M433.1,426.8l0.7,-2.9M292.1,434.8l-1.2,-2.9M293.8,434.7l0.2,-2.5M296.2,433.1l0.3,-2.8M259.9,423.9l0.6,-2.9M261.5,423.9l-0.5,-1.1M262.5,424.0l0.7,-1.3M385.2,419.5l1.4,-2.6M417.0,448.5l-0.6,-1.6M418.7,448.2l-0.5,-2.6M420.4,448.5l-0.8,-2.3M420.9,448.7l0.3,-1.6M425.6,448.1l0.4,-3.1M478.4,393.2l-0.1,-2.4M480.2,393.6l0.9,-2.7M480.8,393.4l1.0,-2.2M482.4,339.9l0.6,-1.2M484.1,339.2l-0.8,-2.0M484.9,339.9l0.9,-2.4M485.9,339.0l-0.0,-2.0M489.8,339.4l0.2,-2.7M489.1,340.0l0.1,-1.3M417.9,446.8l-0.3,-1.7M419.5,446.9l-0.2,-2.0M420.0,446.8l0.2,-3.1M423.3,445.6l0.0,-2.1M248.9,433.8l0.1,-2.1M250.4,434.2l-0.0,-1.9M456.9,359.8l0.1,-1.9M459.0,359.2l-0.6,-1.4M460.9,358.1l0.6,-1.2M461.6,357.9l-0.4,-2.1M380.0,423.7l-0.6,-2.8M381.4,424.1l-0.6,-1.2M383.6,423.4l-0.8,-2.1M385.2,424.3l-0.5,-2.1M387.0,424.2l-0.3,-1.3M387.3,424.0l0.3,-1.7M297.9,438.2l0.3,-2.8M299.0,437.8l0.4,-2.0M301.2,438.0l0.4,-1.3M257.1,399.9l0.0,-1.8M254.3,400.4l-0.4,-2.6M255.5,401.1l0.9,-2.9M455.3,366.3l0.7,-2.4M456.7,366.3l0.6,-2.4M458.2,365.7l0.7,-1.6M461.6,365.4l-0.3,-2.0M463.5,364.7l-0.6,-1.2M464.3,364.5l0.1,-2.9M324.5,441.5l-0.6,-1.2M450.1,432.9l-0.3,-2.7M451.8,432.6l0.8,-2.8M452.5,432.9l-0.8,-3.0M453.8,432.9l-1.1,-2.9M457.8,432.0l0.5,-1.7M456.8,432.0l-0.1,-2.2M448.3,443.7l1.1,-2.5M449.8,442.8l-0.9,-1.6M468.4,401.9l-0.0,-2.3M470.1,401.5l0.1,-1.3M472.5,401.5l-0.4,-3.1M475.0,402.5l-0.5,-1.7M476.6,402.9l0.2,-2.8M378.7,423.9l0.4,-3.0M380.7,423.7l0.5,-2.2M383.9,424.7l0.0,-1.7M487.5,341.2l0.5,-1.6M488.9,339.9l0.3,-1.7M490.1,340.3l-1.1,-2.2M459.8,412.6l-1.3,-2.6M461.0,412.4l0.9,-1.8M463.3,411.7l-0.5,-2.0M463.6,412.5l0.5,-3.1M467.8,412.6l0.5,-2.1M443.5,433.1l0.9,-1.9M445.6,433.2l-0.3,-1.4M447.4,432.7l-0.7,-2.9M449.0,433.0l0.0,-1.7M450.6,432.3l0.3,-2.2M481.8,363.8l0.1,-3.0M483.3,363.2l-0.6,-2.6M484.0,364.2l-0.3,-1.8M486.6,363.0l-1.0,-2.5M486.9,363.2l-0.6,-2.1M492.2,361.8l-0.9,-2.9M465.1,380.9l-0.6,-1.9M467.0,380.7l0.3,-1.9M467.3,380.8l1.4,-2.7M468.5,380.6l-1.0,-2.6M419.1,419.7l0.7,-3.0M421.0,419.8l-1.3,-2.9M423.0,420.0l-0.6,-1.7M424.9,418.8l0.2,-1.6M424.5,419.3l1.3,-2.5M424.5,418.7l1.0,-2.7M418.5,429.2l-0.1,-2.3M420.4,428.5l-0.7,-1.4M270.1,420.3l-0.0,-2.3M441.8,408.9l0.5,-2.6M442.9,408.8l-0.4,-1.7M445.5,407.7l-0.5,-1.3M445.1,407.9l-0.5,-1.3M450.3,407.3l0.1,-1.9M448.0,407.5l0.3,-1.6M247.2,427.5l-0.4,-1.5M248.8,428.1l1.1,-2.0M250.0,427.1l-1.0,-2.1M260.9,425.4l0.4,-2.6M262.0,425.1l0.3,-1.3M263.5,425.2l-0.1,-3.2M266.0,425.3l0.2,-2.6M268.5,424.9l-0.0,-1.2M371.5,436.0l-0.6,-2.0M372.6,436.1l-0.4,-1.6M375.4,436.4l-0.9,-1.8M377.3,435.9l0.4,-1.4M468.2,360.5l-0.7,-1.3M470.3,360.9l0.2,-1.5M476.3,401.4l0.3,-1.6M477.3,401.3l0.7,-2.2M479.1,400.6l-1.5,-2.8M480.8,400.9l-0.5,-3.1M481.5,400.5l-0.7,-1.8M486.7,400.0l-0.6,-2.6M405.6,439.8l-0.1,-3.1M407.7,438.9l0.9,-1.9M409.1,438.2l0.1,-1.5M409.8,438.1l-0.5,-2.8M414.0,437.6l-0.1,-1.6M415.6,437.9l-0.6,-2.3M263.2,447.7l0.7,-2.1M265.2,447.4l0.4,-1.1" stroke="#1a1a1a" stroke-width="0.85" fill="none" stroke-linecap="round"/>
<rect x="285.5" y="280" width="9" height="41" fill="#fff" stroke="#1a1a1a" stroke-width="1.1"/>
<path d="M288,282 L288,318 M291.5,282 L291.5,318" stroke="#555" stroke-width="0.6"/>
<rect x="311.3" y="280" width="8.3" height="31" fill="#fff" stroke="#1a1a1a" stroke-width="1.1"/>
<path d="M314,282 L314,309" stroke="#555" stroke-width="0.6"/>
<rect x="333" y="280" width="8.5" height="25" fill="#fff" stroke="#1a1a1a" stroke-width="1.1"/>
<path d="M341.5,290 L360,287 M341.5,297 L360,294" stroke="#1a1a1a" stroke-width="1.6"/>
<rect x="358" y="280" width="5" height="16" fill="#fff" stroke="#1a1a1a" stroke-width="1.1"/>
<rect x="376" y="280" width="8" height="12" fill="#fff" stroke="#1a1a1a" stroke-width="1.1"/>
<polygon points="229,374.6 256,365 256,384 229,392" fill="#fff" stroke="#1a1a1a" stroke-width="1.1"/>
<path d="M232.0,390.0l3,-16M235.3,388.9l3,-16M238.6,387.8l3,-16M241.9,386.7l3,-16M245.2,385.6l3,-16M248.5,384.5l3,-16M251.8,383.4l3,-16M255.1,382.3l3,-16" stroke="#222" stroke-width="0.8"/>
<polygon points="255.7,405.0 341.7,438.0 457.7,370.0 457.7,377.3 337.4,446.5 255.7,414.0" fill="#fff" stroke="#111" stroke-width="1.3"/>
<path d="M256,410.5 L340,443 L458,374.5" stroke="#111" stroke-width="2.6" fill="none"/>
<path d="M345.0,441.0l5,-2M353.0,436.4l5,-2M361.0,431.8l5,-2M369.0,427.2l5,-2M377.0,422.6l5,-2M385.0,418.0l5,-2M393.0,413.4l5,-2M401.0,408.8l5,-2M409.0,404.2l5,-2M417.0,399.6l5,-2M425.0,395.0l5,-2M433.0,390.4l5,-2M441.0,385.8l5,-2M449.0,381.2l5,-2" stroke="#ddd" stroke-width="0.8"/>
<polygon points="258.0,378.0 340.0,403.0 341.7,438.0 257.0,410.0" fill="#1c1c1c"/>
<g fill="#c8c8c8"><polygon points="259.3,379.4 265.7,381.3 265.6,385.8 259.2,383.9"/><polygon points="259.1,385.8 265.6,387.8 265.5,392.3 259.0,390.3"/><polygon points="259.0,392.2 265.4,394.2 265.3,398.8 258.8,396.7"/><polygon points="258.8,398.6 265.3,400.7 265.2,405.2 258.6,403.1"/><polygon points="258.6,405.0 265.1,407.2 265.0,411.7 258.4,409.5"/><polygon points="268.5,382.2 274.8,384.1 274.8,388.7 268.4,386.7"/><polygon points="268.3,388.6 274.8,390.6 274.7,395.2 268.2,393.2"/><polygon points="268.2,395.1 274.7,397.2 274.6,401.7 268.1,399.7"/><polygon points="268.1,401.6 274.6,403.7 274.5,408.3 268.0,406.1"/><polygon points="267.9,408.1 274.5,410.2 274.4,414.8 267.8,412.6"/><polygon points="277.6,385.0 284.0,386.9 283.9,391.5 277.5,389.5"/><polygon points="277.5,391.5 283.9,393.5 283.9,398.1 277.5,396.1"/><polygon points="277.4,398.0 283.9,400.1 283.9,404.7 277.4,402.6"/><polygon points="277.4,404.6 283.9,406.7 283.9,411.3 277.3,409.2"/><polygon points="277.3,411.1 283.8,413.3 283.8,417.9 277.2,415.7"/><polygon points="286.7,387.7 293.1,389.7 293.1,394.4 286.7,392.4"/><polygon points="286.7,394.4 293.1,396.3 293.1,401.0 286.7,399.0"/><polygon points="286.7,401.0 293.1,403.0 293.2,407.7 286.7,405.6"/><polygon points="286.7,407.6 293.2,409.7 293.2,414.3 286.7,412.2"/><polygon points="286.7,414.2 293.2,416.3 293.2,421.0 286.6,418.8"/><polygon points="295.8,390.5 302.2,392.5 302.3,397.2 295.9,395.2"/><polygon points="295.9,397.2 302.3,399.2 302.4,403.9 295.9,401.9"/><polygon points="295.9,403.9 302.4,405.9 302.4,410.6 296.0,408.6"/><polygon points="296.0,410.6 302.5,412.7 302.5,417.4 296.0,415.2"/><polygon points="296.0,417.2 302.6,419.4 302.6,424.1 296.0,421.9"/><polygon points="304.9,393.3 311.3,395.3 311.4,400.0 305.0,398.0"/><polygon points="305.0,400.1 311.5,402.1 311.6,406.8 305.1,404.8"/><polygon points="305.2,406.8 311.6,408.8 311.7,413.6 305.2,411.5"/><polygon points="305.3,413.5 311.8,415.6 311.9,420.4 305.3,418.3"/><polygon points="305.4,420.3 311.9,422.4 312.0,427.2 305.5,425.0"/><polygon points="314.1,396.1 320.4,398.1 320.6,402.9 314.2,400.9"/><polygon points="314.2,402.9 320.7,404.9 320.8,409.7 314.3,407.7"/><polygon points="314.4,409.7 320.9,411.8 321.0,416.6 314.5,414.5"/><polygon points="314.6,416.5 321.1,418.6 321.2,423.4 314.7,421.3"/><polygon points="314.7,423.3 321.3,425.5 321.4,430.3 314.9,428.1"/><polygon points="323.2,398.9 329.6,400.8 329.8,405.7 323.3,403.7"/><polygon points="323.4,405.8 329.8,407.8 330.0,412.6 323.6,410.6"/><polygon points="323.6,412.6 330.1,414.7 330.3,419.5 323.8,417.5"/><polygon points="323.9,419.5 330.4,421.6 330.6,426.5 324.0,424.3"/><polygon points="324.1,426.4 330.6,428.5 330.8,433.4 324.3,431.2"/><polygon points="332.3,401.7 338.7,403.6 338.9,408.5 332.5,406.5"/><polygon points="332.6,408.6 339.0,410.6 339.2,415.5 332.8,413.5"/><polygon points="332.9,415.6 339.3,417.6 339.6,422.5 333.1,420.4"/><polygon points="333.2,422.5 339.7,424.6 339.9,429.5 333.4,427.4"/><polygon points="333.5,429.5 340.0,431.6 340.2,436.5 333.7,434.3"/></g>
<path d="M328.9,409.6l1.1,-1.2M320.4,409.1l1.0,1.7M293.6,391.1l2.5,0.0M328.6,428.0l2.6,1.9M289.5,414.4l2.0,0.8M275.5,403.8l1.1,1.8M272.3,401.0l2.7,1.6M328.7,414.1l1.1,2.4M282.9,414.1l1.8,-0.3M302.7,409.9l2.6,0.4M271.4,399.5l1.2,1.8M272.2,394.3l2.2,-0.8M332.5,427.9l1.7,-0.4M319.0,413.9l2.3,-0.8M305.0,412.2l2.8,-0.7M323.9,405.4l1.6,-1.3M334.3,404.5l1.6,-0.2M316.8,418.3l1.2,-0.5M317.2,400.9l1.2,1.6M257.9,380.6l1.4,1.7M286.5,400.9l2.1,2.0M261.2,385.2l1.8,0.7M268.6,395.4l2.1,-2.2M285.2,388.3l2.8,-2.4M270.7,401.9l1.5,0.4M285.9,419.2l2.1,-0.7M272.6,398.2l2.5,1.1M316.3,413.2l2.9,-0.5M303.3,423.8l2.6,-0.1M324.1,424.4l1.6,-0.5M320.5,409.7l1.7,0.2M264.0,388.3l3.0,-1.3M324.2,398.4l1.6,0.1M283.5,416.9l2.9,-1.0M268.7,411.3l2.6,0.1M262.8,379.8l2.4,0.9M296.3,400.8l1.6,-0.6M292.4,408.8l1.8,-0.8M276.2,405.2l2.9,-1.6M322.0,419.5l1.5,-1.8M326.8,404.0l1.2,-2.0M325.2,411.4l1.0,-1.1M300.7,406.9l1.3,1.7M315.3,404.7l1.6,-1.2M259.2,398.1l1.5,0.8M327.1,410.0l1.6,-0.7M297.0,391.5l1.8,-0.9M266.5,407.7l2.4,-0.1M263.4,403.3l1.8,1.9M311.2,402.3l2.5,0.5M287.0,413.2l1.7,-1.8M261.0,398.8l1.5,-1.7M261.2,404.1l1.6,1.8M332.4,428.7l1.4,2.2M309.7,422.2l2.8,-0.9M288.8,417.1l1.6,-2.0M260.6,396.8l1.6,2.2M258.5,391.0l2.4,0.5M327.1,421.3l2.7,2.3M329.5,420.4l1.8,0.2M275.9,391.8l2.0,-0.3M289.8,390.5l3.0,-0.8M297.5,401.7l2.1,1.4M335.9,422.5l2.9,-0.7M296.9,401.1l2.9,-1.9M276.1,408.7l1.5,-2.2M288.2,402.6l1.9,-1.3M286.5,396.2l1.4,0.0M276.6,390.0l2.9,1.9M289.2,405.0l1.2,-2.4M300.4,422.5l1.2,-0.2M323.1,398.2l2.2,-1.2M320.7,425.1l2.8,1.4M264.7,401.4l2.1,-1.0M274.3,398.4l1.8,-0.5M336.5,409.9l2.7,-1.8M315.0,410.3l1.8,-0.1M268.8,388.5l1.8,-1.5M328.2,423.0l2.3,1.0M271.3,382.4l1.2,1.9M298.3,422.8l1.6,-0.6M311.8,423.0l1.9,-0.1M287.2,394.8l2.8,2.0M293.8,393.5l2.7,-0.2M319.7,411.0l1.2,1.2M266.0,410.9l1.3,-0.8M258.1,385.1l2.3,-2.0M267.3,382.8l1.0,0.1M276.2,408.2l2.4,0.0M335.6,434.9l1.6,1.4" stroke="#222" stroke-width="0.8"/>
<polygon points="340.0,403.0 379.6,385.0 426.0,359.0 460.0,345.0 455.0,352.0 453.0,373.0 341.7,438.0" fill="#f4f4f4" stroke="#111" stroke-width="1"/>
<path d="M341,407.4L454,354.6M341,411.8L454,357.2M341,416.1L454,359.9M341,420.5L454,362.5M341,424.9L454,365.1M341,429.2L454,367.8M341,433.6L454,370.4" stroke="#222" stroke-width="0.75" fill="none"/>
<path d="M418.7,373.1l11.8,-5.3M345.0,423.8l13.1,-5.9M413.9,387.3l10.6,-4.8M387.0,386.4l7.8,-3.5M375.9,411.1l12.8,-5.8M449.6,361.1l12.9,-5.8M442.2,358.5l9.5,-4.3M351.7,402.2l8.4,-3.8M420.0,372.3l7.2,-3.2M395.2,393.6l5.2,-2.4M360.4,396.2l7.2,-3.2M451.6,357.2l11.6,-5.2M413.6,391.3l12.0,-5.4M347.9,411.7l12.3,-5.6M413.3,391.3l4.3,-1.9M435.0,369.7l11.9,-5.3M406.3,383.2l9.3,-4.2M343.9,432.6l12.7,-5.7M413.7,386.3l11.4,-5.1M390.2,388.3l10.5,-4.7M451.2,370.5l12.0,-5.4M359.4,405.4l6.8,-3.1M404.2,397.5l10.2,-4.6M406.4,384.9l5.8,-2.6M370.7,418.7l13.1,-5.9M414.0,387.0l6.3,-2.8M343.6,404.3l4.2,-1.9M363.8,422.6l9.8,-4.4M365.7,396.0l4.2,-1.9M342.5,408.3l7.4,-3.3M358.5,403.4l10.3,-4.6M355.4,402.2l11.7,-5.3M372.4,407.8l6.8,-3.1M419.0,369.0l6.7,-3.0M437.8,366.1l10.4,-4.7M364.6,396.9l8.2,-3.7M392.3,382.0l9.3,-4.2M388.4,392.3l11.6,-5.2M440.5,367.1l7.0,-3.2M427.3,381.4l9.1,-4.1M409.8,381.1l11.2,-5.1M405.8,395.7l7.0,-3.2M348.5,427.8l9.9,-4.4M430.8,379.3l11.7,-5.3M381.4,409.4l10.2,-4.6M386.6,388.1l5.0,-2.2M366.8,402.0l7.3,-3.3M410.5,395.4l9.6,-4.3M415.4,370.6l11.0,-4.9M400.8,396.4l7.5,-3.4M413.1,383.4l11.8,-5.3M389.6,403.8l12.7,-5.7M400.3,389.8l11.1,-5.0M399.1,402.1l13.3,-6.0M396.7,396.4l5.1,-2.3M442.3,370.4l4.3,-1.9M342.1,430.7l11.8,-5.3M410.1,382.4l6.4,-2.9M395.2,402.8l10.3,-4.6M345.9,408.9l4.8,-2.2M437.9,377.5l13.3,-6.0M389.2,390.7l4.6,-2.1M369.6,401.3l7.9,-3.6M379.0,407.0l12.6,-5.7M383.5,407.0l6.9,-3.1M370.8,413.4l4.9,-2.2M349.4,431.2l8.7,-3.9M386.9,403.9l12.9,-5.8M382.5,407.2l5.3,-2.4M440.5,367.2l7.9,-3.5" stroke="#222" stroke-width="0.8"/>
<polygon points="257.6,330.8 384.8,289.2 395.0,287.0 452.4,304.8 462.8,342.4 460.0,345.0 426.0,359.0 379.6,385.0 340.7,401.0 320.0,398.3 260.0,375.0 255.0,371.0 256.0,350.0" fill="#bccfec" stroke="#2f69bd" stroke-width="1.6" stroke-linejoin="round"/>
<polygon points="257.6,330.8 384.8,289.2 452.4,304.8 340.7,359.3" fill="#c4d5ef"/>
<path d="M258,332 L340.7,359.3 L452,306 M340.7,359.3 L341,401" stroke="#2f69bd" stroke-width="1.1" fill="none"/>
<path d="M266,335 L275,368 M268,340 L300,365 M310,352 L320,372 M325,355 L335,378 M345,368 L375,383 M344,372 L360,392 M400,350 L430,340 M420,320 L445,312" stroke="#6d92c8" stroke-width="0.7" fill="none"/>
<path d="M276,376 L276,394 M377,386 L377,416 M427,360 L427,392" stroke="#111" stroke-width="1.6"/>
</g>
<g clip-path="url(#c4)">
<path d="M634.8,411.1l0.0,-1.0M667.3,420.6l-0.4,-2.6M668.3,420.6l0.1,-1.0M606.9,443.9l0.1,-1.2M608.1,443.9l-0.4,-2.0M609.9,443.9l0.4,-1.1M674.5,417.8l0.6,-2.1M675.8,417.8l-0.1,-2.0M676.6,417.8l-0.4,-1.8M543.1,432.8l0.2,-2.0M544.0,432.8l0.2,-1.3M545.4,432.8l0.3,-2.8M579.1,424.1l-0.5,-2.2M580.2,424.1l0.4,-2.7M580.9,424.1l0.5,-2.1M552.6,448.4l0.8,-2.3M554.1,448.4l0.5,-1.5M555.2,448.4l0.6,-1.7M581.2,424.4l0.1,-1.5M582.3,424.4l-0.2,-2.1M626.7,441.0l-0.1,-2.1M627.5,441.0l-0.8,-2.7M629.8,441.0l0.2,-2.5M689.9,429.1l-0.5,-1.6M691.2,429.1l0.5,-1.5M646.0,426.6l-0.3,-1.8M646.8,426.6l-0.0,-2.7M544.4,446.7l-0.2,-3.0M702.3,440.4l-0.6,-1.9M759.9,445.4l0.2,-1.7M761.2,445.4l0.5,-2.2M702.5,435.6l-0.1,-1.7M703.8,435.6l-0.4,-2.7M705.1,435.6l-0.1,-1.4M755.4,444.0l0.4,-2.1M756.9,444.0l-0.5,-1.4M757.1,444.0l0.3,-1.0M759.9,444.0l0.5,-2.6M675.3,444.4l0.1,-1.3M676.8,444.4l0.4,-2.1M677.9,415.8l-0.3,-1.0M679.0,415.8l-0.4,-2.8M550.6,448.2l0.4,-1.7M552.2,448.2l-0.0,-1.5M553.2,448.2l-0.3,-1.1M554.0,448.2l0.0,-2.8M755.8,439.7l0.7,-2.2M562.0,429.7l-0.6,-2.7M563.2,429.7l-0.2,-2.0M563.6,429.7l0.4,-2.8M612.7,429.1l0.2,-2.6M613.7,429.1l-0.1,-2.0M615.7,429.1l-0.3,-1.4M617.3,429.1l-0.3,-1.0M673.6,445.8l0.0,-2.9M674.6,445.8l-0.2,-2.2M675.7,445.8l0.7,-2.1M644.6,431.9l0.5,-1.5M646.1,431.9l0.3,-2.6M551.2,433.7l-0.1,-1.7M552.4,433.7l0.2,-2.8M625.1,441.4l0.1,-1.3M681.4,447.1l-0.0,-1.3M589.2,440.2l0.4,-2.7M590.2,440.2l-0.0,-1.5M591.7,440.2l0.3,-1.7M669.8,424.8l0.6,-1.9M670.8,424.8l0.1,-1.9M672.3,424.8l-0.1,-2.8M673.1,424.8l-0.2,-2.6M538.3,427.5l1.0,-2.8M539.2,427.5l-0.3,-2.2M541.4,427.5l-0.3,-1.5M541.1,427.5l0.5,-2.7M738.1,435.3l-0.2,-1.0M739.0,435.3l0.4,-1.3M740.7,435.3l0.4,-1.5M690.8,433.0l0.3,-2.4M692.0,433.0l0.4,-2.7M712.8,437.3l-0.5,-1.9M713.7,437.3l-0.6,-1.9M633.5,435.4l-0.1,-1.7M634.3,435.4l0.3,-1.0M635.4,435.4l-0.7,-2.8M636.5,435.4l0.6,-2.6M676.0,425.9l-0.1,-2.8M677.4,425.9l0.4,-2.7M619.1,411.9l0.1,-1.2M620.6,411.9l0.2,-1.6M755.8,434.4l-0.0,-2.6M756.8,434.4l-0.8,-2.5M758.9,434.4l-0.4,-1.6M655.8,447.9l-0.4,-1.3M747.7,436.7l-0.4,-1.3M769.0,436.0l0.5,-1.9" stroke="#1a1a1a" stroke-width="0.9" fill="none" stroke-linecap="round"/>
<path d="M589.6,416.6a0.6,0.6 0 1,0 1.3,0a0.6,0.6 0 1,0 -1.3,0M764.0,448.8a0.3,0.3 0 1,0 0.6,0a0.3,0.3 0 1,0 -0.6,0M595.9,438.0a0.4,0.4 0 1,0 0.8,0a0.4,0.4 0 1,0 -0.8,0M787.9,443.5a0.5,0.5 0 1,0 1.0,0a0.5,0.5 0 1,0 -1.0,0M636.0,412.0a0.5,0.5 0 1,0 0.9,0a0.5,0.5 0 1,0 -0.9,0M547.3,427.5a0.5,0.5 0 1,0 1.0,0a0.5,0.5 0 1,0 -1.0,0M677.3,417.0a0.4,0.4 0 1,0 0.7,0a0.4,0.4 0 1,0 -0.7,0M586.8,426.0a0.5,0.5 0 1,0 0.9,0a0.5,0.5 0 1,0 -0.9,0M768.4,447.7a0.6,0.6 0 1,0 1.2,0a0.6,0.6 0 1,0 -1.2,0M637.9,438.5a0.4,0.4 0 1,0 0.7,0a0.4,0.4 0 1,0 -0.7,0M603.8,408.0a0.4,0.4 0 1,0 0.9,0a0.4,0.4 0 1,0 -0.9,0M690.0,435.1a0.5,0.5 0 1,0 1.0,0a0.5,0.5 0 1,0 -1.0,0M691.0,418.4a0.6,0.6 0 1,0 1.3,0a0.6,0.6 0 1,0 -1.3,0M735.4,432.5a0.5,0.5 0 1,0 1.1,0a0.5,0.5 0 1,0 -1.1,0M587.1,433.5a0.6,0.6 0 1,0 1.1,0a0.6,0.6 0 1,0 -1.1,0M555.2,427.9a0.3,0.3 0 1,0 0.7,0a0.3,0.3 0 1,0 -0.7,0M570.0,438.3a0.5,0.5 0 1,0 1.1,0a0.5,0.5 0 1,0 -1.1,0M790.8,445.4a0.6,0.6 0 1,0 1.1,0a0.6,0.6 0 1,0 -1.1,0M728.5,440.9a0.5,0.5 0 1,0 1.1,0a0.5,0.5 0 1,0 -1.1,0M599.4,431.3a0.5,0.5 0 1,0 1.0,0a0.5,0.5 0 1,0 -1.0,0M723.2,439.4a0.6,0.6 0 1,0 1.2,0a0.6,0.6 0 1,0 -1.2,0M544.4,411.4a0.6,0.6 0 1,0 1.3,0a0.6,0.6 0 1,0 -1.3,0M774.0,435.0a0.4,0.4 0 1,0 0.8,0a0.4,0.4 0 1,0 -0.8,0M771.9,434.8a0.5,0.5 0 1,0 0.9,0a0.5,0.5 0 1,0 -0.9,0M752.4,440.7a0.4,0.4 0 1,0 0.9,0a0.4,0.4 0 1,0 -0.9,0M688.1,426.8a0.4,0.4 0 1,0 0.8,0a0.4,0.4 0 1,0 -0.8,0M643.3,422.7a0.3,0.3 0 1,0 0.6,0a0.3,0.3 0 1,0 -0.6,0M624.4,417.6a0.4,0.4 0 1,0 0.9,0a0.4,0.4 0 1,0 -0.9,0M757.2,447.2a0.5,0.5 0 1,0 1.1,0a0.5,0.5 0 1,0 -1.1,0M631.2,428.6a0.3,0.3 0 1,0 0.7,0a0.3,0.3 0 1,0 -0.7,0M589.5,449.8a0.4,0.4 0 1,0 0.7,0a0.4,0.4 0 1,0 -0.7,0M561.3,417.7a0.5,0.5 0 1,0 1.1,0a0.5,0.5 0 1,0 -1.1,0M614.6,428.9a0.6,0.6 0 1,0 1.3,0a0.6,0.6 0 1,0 -1.3,0M779.5,440.8a0.6,0.6 0 1,0 1.2,0a0.6,0.6 0 1,0 -1.2,0M573.4,449.8a0.5,0.5 0 1,0 1.0,0a0.5,0.5 0 1,0 -1.0,0M713.3,424.6a0.6,0.6 0 1,0 1.1,0a0.6,0.6 0 1,0 -1.1,0M772.4,436.9a0.4,0.4 0 1,0 0.7,0a0.4,0.4 0 1,0 -0.7,0M617.3,431.5a0.3,0.3 0 1,0 0.6,0a0.3,0.3 0 1,0 -0.6,0M551.0,411.4a0.5,0.5 0 1,0 1.1,0a0.5,0.5 0 1,0 -1.1,0M546.6,442.4a0.4,0.4 0 1,0 0.8,0a0.4,0.4 0 1,0 -0.8,0M703.8,421.6a0.4,0.4 0 1,0 0.8,0a0.4,0.4 0 1,0 -0.8,0M684.0,432.6a0.3,0.3 0 1,0 0.7,0a0.3,0.3 0 1,0 -0.7,0M724.4,428.9a0.4,0.4 0 1,0 0.9,0a0.4,0.4 0 1,0 -0.9,0M721.7,446.7a0.6,0.6 0 1,0 1.2,0a0.6,0.6 0 1,0 -1.2,0M703.3,430.3a0.4,0.4 0 1,0 0.8,0a0.4,0.4 0 1,0 -0.8,0M687.1,448.4a0.3,0.3 0 1,0 0.6,0a0.3,0.3 0 1,0 -0.6,0M570.3,430.2a0.6,0.6 0 1,0 1.2,0a0.6,0.6 0 1,0 -1.2,0M660.2,442.1a0.3,0.3 0 1,0 0.7,0a0.3,0.3 0 1,0 -0.7,0M572.3,429.4a0.3,0.3 0 1,0 0.7,0a0.3,0.3 0 1,0 -0.7,0M621.2,447.2a0.5,0.5 0 1,0 1.1,0a0.5,0.5 0 1,0 -1.1,0M543.0,442.5a0.4,0.4 0 1,0 0.7,0a0.4,0.4 0 1,0 -0.7,0M576.7,432.7a0.4,0.4 0 1,0 0.8,0a0.4,0.4 0 1,0 -0.8,0M698.9,439.0a0.5,0.5 0 1,0 1.0,0a0.5,0.5 0 1,0 -1.0,0M567.5,446.3a0.3,0.3 0 1,0 0.6,0a0.3,0.3 0 1,0 -0.6,0M621.2,431.8a0.6,0.6 0 1,0 1.2,0a0.6,0.6 0 1,0 -1.2,0M624.9,413.2a0.5,0.5 0 1,0 1.1,0a0.5,0.5 0 1,0 -1.1,0M740.5,440.3a0.3,0.3 0 1,0 0.6,0a0.3,0.3 0 1,0 -0.6,0M582.7,435.2a0.4,0.4 0 1,0 0.7,0a0.4,0.4 0 1,0 -0.7,0M575.5,436.9a0.6,0.6 0 1,0 1.1,0a0.6,0.6 0 1,0 -1.1,0M551.5,408.3a0.6,0.6 0 1,0 1.2,0a0.6,0.6 0 1,0 -1.2,0" fill="#222"/>
<path d="M699.3,382.9l-0.5,-1.8M700.5,382.9l0.2,-2.3M701.0,382.9l0.3,-2.1M691.0,366.0l0.0,-2.9M694.6,365.8l0.1,-1.2M696.1,365.8l-0.7,-2.8M696.7,365.8l-0.1,-2.1M689.7,393.4l-0.1,-1.7M691.3,393.4l0.6,-1.8M692.2,393.4l-0.7,-2.0M699.5,371.5l0.4,-2.3M700.5,371.5l-0.2,-1.9M701.6,371.5l-0.2,-1.6M687.3,381.3l0.4,-1.5M688.9,381.3l-0.2,-1.2M694.2,368.5l0.4,-1.1M695.0,368.5l0.3,-1.0M694.5,384.5l-0.3,-2.8M690.2,387.8l0.0,-1.9M691.3,387.8l-0.2,-1.1M692.9,387.8l-0.4,-1.7M684.7,369.8l-0.2,-1.7M686.1,369.8l-0.1,-1.0" stroke="#1a1a1a" stroke-width="0.8" fill="none" stroke-linecap="round"/>
<path d="M681.1,428.1l-0.1,-1.5M682.7,429.0l-0.5,-1.3M683.4,428.7l0.7,-1.7M685.5,428.8l0.5,-1.7M689.4,429.5l-0.4,-2.6M688.3,429.1l-0.0,-1.3M670.3,435.9l0.7,-1.7M672.2,435.4l-0.6,-1.7M673.6,436.2l1.3,-2.5M657.9,433.5l0.0,-1.8M659.8,433.1l0.7,-2.7M661.5,432.0l-0.7,-2.2M663.2,431.5l0.5,-1.1M666.0,430.9l0.4,-1.2M667.5,430.4l0.9,-2.5M681.5,419.0l-0.6,-2.4M683.0,419.1l-0.7,-2.1M684.0,419.2l-0.6,-2.0M785.7,428.7l0.4,-1.8M532.9,425.0l0.0,-1.4M534.2,425.2l0.4,-1.4M536.5,424.0l0.5,-1.5M538.0,423.8l0.8,-2.4M537.1,424.4l0.4,-2.4M532.9,418.8l0.1,-1.9M534.2,418.3l0.6,-1.8M536.6,418.4l1.1,-2.3M538.6,418.3l-0.5,-2.0M767.4,446.6l0.4,-1.6M768.5,446.3l-0.1,-1.2M771.5,446.4l-0.9,-1.8M771.2,445.9l-0.7,-2.1M774.8,445.8l-0.3,-1.9M773.6,446.2l0.2,-2.5M735.0,431.0l1.2,-2.3M736.0,431.0l-0.2,-2.5M738.9,430.9l-0.2,-2.0M538.1,439.3l1.0,-2.3M539.6,438.5l-1.0,-2.4M541.9,437.6l0.0,-2.3M543.9,437.1l0.8,-2.3M542.3,438.2l0.4,-1.7M549.0,435.7l-0.0,-1.9M788.1,447.4l-0.6,-2.6M789.6,446.9l-1.1,-2.4M790.9,446.1l1.1,-2.6M792.7,446.0l-0.7,-2.7M599.3,422.1l0.1,-1.4M600.4,422.7l0.7,-1.6M601.6,422.1l0.1,-2.6M603.9,422.5l0.5,-1.4M665.9,419.5l0.2,-2.4M667.7,419.7l0.7,-1.4M669.6,419.4l-0.6,-2.6M670.5,419.3l0.4,-1.3M672.1,419.1l-1.0,-2.6M592.1,423.4l0.3,-2.0M593.7,423.1l0.7,-1.8M596.2,422.7l1.0,-2.4M596.0,422.9l-0.6,-1.4M598.4,421.3l0.2,-1.7M569.9,424.7l-0.7,-1.9M571.3,424.3l0.1,-1.8M573.3,424.2l0.2,-2.0M574.7,423.5l-0.2,-2.4M674.3,420.8l-0.6,-2.0M675.7,421.0l0.8,-2.4M676.5,421.0l-1.0,-2.8M677.6,421.0l0.3,-2.6M690.7,429.9l0.7,-1.3M691.8,430.4l-0.9,-2.6M694.3,430.0l-0.1,-2.4M694.2,430.7l1.0,-1.9M697.5,430.7l-1.0,-2.1M532.2,449.5l0.4,-2.4M533.3,449.7l0.2,-2.9M536.1,449.0l0.0,-1.9M676.5,443.2l-0.8,-2.3M678.2,444.0l-0.0,-2.3M678.5,442.9l0.1,-2.0M682.5,442.4l-0.1,-1.6M683.8,442.9l-0.8,-2.1M686.6,442.7l0.4,-2.4M687.7,442.6l-0.3,-2.8M557.0,448.0l-0.5,-1.2M558.8,447.9l0.5,-1.3M560.7,448.5l1.0,-2.6M561.5,448.6l0.1,-2.7M770.3,449.1l-0.0,-2.6M772.4,448.3l-0.6,-1.8M772.7,448.4l-0.8,-2.4M775.0,447.9l-0.0,-3.0M778.2,447.0l-1.3,-2.5M776.2,447.9l0.1,-2.2M694.1,422.0l-0.6,-2.2M696.1,422.1l-0.9,-2.8M696.6,423.0l0.4,-1.3M698.1,421.9l-0.9,-2.6M702.3,422.3l0.3,-1.8M701.4,422.9l-0.1,-1.2M588.2,443.8l0.5,-1.3M589.4,443.7l0.4,-1.9M590.6,443.6l-0.3,-1.3M593.8,443.4l0.9,-2.1M592.3,443.2l-0.3,-2.3M599.0,442.0l0.7,-2.8M708.4,447.4l0.8,-2.1M710.1,447.9l0.6,-1.1M710.4,447.3l0.6,-1.7M713.5,446.8l-0.0,-1.7M716.5,446.9l-0.7,-1.8M583.4,431.5l-0.8,-2.4M585.4,430.7l-0.6,-1.3M587.3,430.8l-0.7,-2.4M609.2,411.8l0.9,-2.3M610.2,412.2l-0.2,-1.7M612.3,412.7l-0.3,-2.3M615.4,412.4l1.1,-2.3M614.4,412.6l0.2,-2.9M560.8,441.0l0.6,-2.2M562.0,440.9l0.4,-2.5M563.9,441.3l1.0,-2.4M565.7,440.7l0.2,-1.4M568.1,441.2l-0.7,-2.4M634.2,423.5l0.3,-2.0M635.2,424.3l-0.0,-2.6M637.8,424.3l0.1,-1.5M637.8,424.3l-0.7,-1.8M639.9,424.5l-0.5,-2.1M607.1,441.8l0.8,-1.7M608.9,442.1l-0.9,-2.2M610.2,441.5l0.5,-2.9M611.4,441.6l0.1,-2.8M614.5,441.3l0.5,-1.9M613.3,441.7l1.3,-2.4M616.9,441.4l0.9,-2.9M669.0,425.8l-0.4,-1.2M670.4,426.9l0.0,-1.4M673.1,426.3l-0.5,-1.7M672.2,426.6l-0.6,-2.1M675.7,426.8l-0.6,-2.4M675.4,427.2l0.6,-2.4M621.0,432.5l0.4,-2.0M622.6,432.1l0.4,-1.2M624.2,432.4l0.7,-1.7M626.9,431.3l-1.1,-2.3M628.1,431.8l-0.5,-2.4M623.2,415.2l0.4,-1.2M624.4,416.3l0.3,-2.4M627.2,415.6l-1.2,-2.6M626.7,416.2l1.0,-2.5M631.1,416.4l-0.4,-1.2M633.3,415.9l0.6,-1.2M629.5,416.4l-0.4,-2.3M636.7,425.4l-0.9,-2.8M637.8,425.8l-0.0,-2.9M639.9,425.7l-0.1,-2.0M641.2,424.9l-0.2,-1.7M641.0,425.2l0.9,-2.4M642.4,425.0l1.2,-2.5M613.9,415.2l0.1,-1.7M614.9,415.7l-0.7,-2.3M616.4,415.3l-1.0,-2.6M617.8,415.9l-0.8,-1.8M618.5,415.8l-0.5,-1.4M715.6,438.1l-0.1,-2.2M717.1,437.8l0.2,-1.6M718.6,437.7l0.1,-2.7M719.8,438.5l-0.7,-2.0M721.9,437.4l0.8,-2.6M721.0,437.4l0.0,-2.4M612.7,428.1l0.8,-1.7M614.6,428.0l-0.4,-1.5M615.5,427.4l0.9,-2.7M618.8,427.6l0.2,-2.5M621.2,426.1l0.1,-1.8M621.3,426.7l0.4,-2.5M615.3,444.2l-0.5,-2.9M616.8,443.8l-0.4,-1.3M617.8,444.3l0.1,-1.5M792.8,426.1l-1.1,-2.0M601.7,415.7l0.3,-1.3M602.8,415.8l-0.3,-2.0M604.2,415.7l0.1,-1.9M605.9,414.9l-0.4,-1.7M609.3,415.7l-0.5,-2.5M619.7,448.0l-1.2,-2.3M621.0,448.0l0.4,-2.3M622.2,447.1l-0.6,-1.6M624.9,446.7l-0.1,-2.8M624.7,447.2l0.9,-1.9M628.9,446.7l0.2,-2.8M632.7,446.1l0.5,-1.7M647.7,421.3l-0.1,-2.5M649.6,420.5l0.5,-1.5M651.0,420.1l0.7,-1.7M650.9,420.9l0.5,-1.3M654.3,419.1l-0.2,-1.7M688.9,441.7l-0.6,-2.9M690.8,440.8l-0.4,-1.2M692.6,441.9l0.2,-1.9M692.9,440.8l0.2,-1.5M646.5,419.3l1.0,-2.4M647.6,419.1l0.7,-2.8M650.0,418.5l-0.2,-2.1M651.3,418.7l0.4,-1.3M652.6,418.1l-0.4,-2.3M652.3,418.7l0.5,-1.1M680.3,418.7l0.9,-2.1M681.7,419.6l-0.6,-1.3M683.1,419.8l-0.6,-1.2M685.5,419.7l0.2,-2.4M686.2,419.9l0.6,-1.1M690.1,420.2l-1.1,-2.4M687.7,419.8l-0.8,-1.6M620.5,410.5l-0.3,-2.3M622.4,410.3l0.2,-1.2M622.6,410.0l0.9,-2.7M624.6,410.1l0.3,-1.5M628.2,408.3l0.1,-1.7M652.0,445.7l-0.3,-1.4M653.9,444.7l-0.9,-2.0M655.9,444.9l0.5,-1.3M657.3,444.6l0.4,-1.3M659.3,443.8l0.4,-1.3M658.3,444.5l-0.3,-2.2M661.2,443.2l0.8,-2.0M678.7,424.0l0.0,-3.0M679.8,423.9l-0.6,-1.1M682.4,423.7l-0.8,-2.5M685.2,424.6l-0.4,-1.6M640.0,438.0l-0.3,-1.2M641.7,437.0l0.1,-1.3M643.4,437.4l-0.5,-2.7M646.3,437.2l-0.6,-2.9M644.3,437.4l-0.7,-1.4M649.4,436.5l-0.9,-2.2M541.9,425.8l0.2,-1.2M543.0,426.9l-0.8,-1.5M544.6,426.9l0.5,-1.3M547.8,427.1l-1.1,-2.6M546.4,426.7l-0.5,-1.8M547.9,427.0l0.4,-2.7M549.5,426.9l0.9,-2.7M539.7,429.2l1.1,-2.4M541.4,428.8l1.2,-2.6M542.5,428.1l0.1,-2.6M552.1,445.6l-1.0,-2.1M553.8,446.2l1.2,-2.6M555.6,445.6l-0.1,-1.9M558.3,445.5l0.4,-1.4M792.1,445.1l0.5,-2.3M544.2,417.4l0.6,-2.5M546.1,418.1l-0.5,-3.0M547.8,417.8l0.0,-1.4M713.0,448.8l-0.9,-2.1M714.8,448.4l0.1,-2.5M716.8,447.7l0.3,-1.6M555.3,424.8l-0.1,-2.4M557.5,424.8l-1.3,-2.5M558.2,424.3l-0.1,-2.7M559.6,424.9l0.2,-1.8M591.3,426.8l0.0,-1.2M592.9,426.1l0.3,-2.9M593.6,425.5l-1.1,-2.0M595.7,426.0l1.0,-1.8M597.6,425.3l-0.1,-1.4M598.8,425.6l0.8,-2.1M600.7,425.0l0.3,-1.3M615.5,426.9l0.6,-1.3M616.6,427.8l0.4,-1.6M618.9,427.9l0.4,-2.7M618.5,426.8l0.6,-1.8M619.6,427.8l-0.1,-1.6M624.5,427.6l1.3,-2.6M622.1,426.9l0.8,-1.6M623.5,433.5l-0.1,-2.8M624.8,432.7l0.6,-1.5M627.3,432.3l0.8,-2.4M627.4,433.0l-1.0,-2.1M629.4,432.0l0.2,-1.5M631.0,432.4l0.1,-2.0M636.0,430.5l0.7,-1.6M702.5,443.0l0.0,-1.8M704.5,442.9l-0.7,-2.4M706.2,442.1l0.3,-2.7M706.1,442.1l0.4,-2.4M707.6,441.5l-1.0,-2.3M667.7,440.3l-1.0,-2.5M668.8,440.6l0.0,-2.8M671.0,439.5l-0.9,-2.2M637.1,446.7l-0.4,-1.8M638.5,446.9l-0.9,-2.1M639.8,447.1l-0.4,-2.4M688.6,425.7l0.4,-1.5M689.7,425.5l-0.4,-1.2M691.2,425.5l-1.2,-2.5" stroke="#1a1a1a" stroke-width="0.9" fill="none" stroke-linecap="round"/>
<rect x="699.4" y="280" width="26.200000000000045" height="120" fill="#fff" stroke="#111" stroke-width="1.2"/><path d="M722.9,316.6l-0.2,2.0M722.3,289.8l0.2,5.0M715.0,290.1l0.1,4.4M708.2,338.5l0.1,4.0M707.8,379.2l0.3,3.6M724.3,344.3l-0.4,5.3M723.2,311.8l-0.4,4.5M723.9,329.6l0.1,4.0M714.2,340.6l-0.4,5.7M723.8,333.7l0.5,3.1M718.6,305.8l-0.6,5.2M700.6,395.9l-0.0,3.2M722.5,345.7l-0.3,2.5M701.8,353.2l-0.3,4.4M724.6,352.6l0.3,3.1M724.2,380.4l-0.5,5.6M713.6,385.3l-0.4,2.4M700.7,300.3l0.6,3.1M714.0,337.1l-0.5,2.1M715.4,344.4l0.2,3.0M718.9,322.6l-0.5,3.3M723.7,318.7l0.2,2.6M713.6,287.5l0.5,4.5M703.6,310.8l-0.3,4.6M721.5,379.6l-0.4,3.0M724.0,377.8l-0.3,5.8M705.6,374.8l-0.0,3.2M721.6,389.4l0.5,5.8M708.0,349.1l-0.5,3.4M718.8,360.2l0.5,5.5M706.2,390.1l0.4,4.0M700.9,324.5l0.5,2.2M722.2,336.1l0.3,3.3M717.5,352.0l-0.2,4.9M715.5,316.9l0.2,4.5M722.0,326.5l-0.0,4.3M704.3,284.1l0.3,2.3M706.8,325.8l0.5,2.8M722.8,290.5l0.4,4.3M700.9,328.6l0.2,2.3M723.1,353.0l0.6,5.0M719.5,387.2l-0.2,2.8M724.6,342.3l-0.0,5.7M713.5,286.4l0.3,4.9M711.5,323.5l-0.1,4.7M700.5,348.8l-0.4,3.7M707.1,289.5l0.5,3.9M714.8,366.4l-0.0,4.4M706.4,376.9l-0.1,4.9M714.0,331.5l-0.5,2.0M700.6,340.0l-0.0,4.0M704.3,379.1l-0.4,4.1M717.9,375.5l0.3,3.0M716.8,348.4l-0.4,4.1M722.5,342.3l0.3,2.3M702.1,382.3l-0.4,5.5M722.5,376.3l0.5,3.2M702.0,298.7l-0.5,5.4M724.3,324.8l-0.0,3.6M713.2,299.1l-0.3,5.7M715.8,364.6l0.0,5.3M701.0,281.7l-0.4,2.1M715.0,346.5l-0.4,4.1M711.5,377.8l-0.5,4.7M724.5,336.5l0.2,5.3M722.7,334.8l-0.0,5.6M717.1,286.6l-0.5,3.6M705.3,309.3l0.1,2.3M701.0,330.8l0.3,5.8M722.9,293.5l-0.3,4.9M716.7,285.7l0.2,3.7M702.1,321.5l-0.4,2.5M720.1,283.9l-0.5,3.5M705.0,381.6l-0.2,4.0M715.5,286.0l0.2,5.4M711.1,284.8l-0.5,5.2M719.9,295.0l0.3,5.2M721.7,337.0l-0.1,5.1M700.9,383.2l-0.3,2.7M716.2,329.0l0.3,2.4M704.4,305.4l0.5,2.3M708.7,318.9l-0.6,4.4M707.7,378.8l0.0,3.3M701.5,325.3l0.6,2.7M713.2,305.3l0.4,3.9M702.5,399.9l0.2,2.6M717.8,332.0l-0.5,5.6M714.5,302.1l0.5,4.6M724.4,367.2l-0.5,4.5M701.7,301.8l-0.1,5.3M708.5,397.8l-0.2,3.1M718.0,354.6l0.2,3.1M709.7,334.5l0.4,3.8M700.9,294.0l0.4,2.9M710.3,342.5l0.3,5.4M700.5,361.5l0.0,4.7M706.1,348.1l0.1,3.7M721.8,336.1l0.4,4.5M700.4,399.6l-0.3,3.8M706.4,293.0l0.4,2.2M724.6,292.8l-0.4,5.1M709.1,381.2l-0.1,5.8M717.4,359.8l0.2,5.6M712.4,326.3l-0.3,4.8M719.2,290.2l-0.1,4.0M705.5,321.5l0.1,5.5M711.8,295.4l0.3,2.5M706.0,296.6l0.3,3.8M720.1,285.2l-0.3,5.6M713.1,375.5l-0.3,4.1M721.1,372.2l-0.5,5.3M701.3,325.5l0.2,5.2M700.6,292.4l-0.5,2.7M708.4,379.8l0.5,3.2M711.3,370.6l0.4,4.3M706.8,296.4l-0.4,2.9M711.6,361.2l0.5,3.1M711.9,325.1l-0.4,2.1M702.2,359.4l-0.5,3.8M707.5,372.4l-0.2,4.5" stroke="#222" stroke-width="1.0" fill="none"/>
<rect x="756.8" y="280" width="20.5" height="47" fill="#fff" stroke="#111" stroke-width="1.2"/><path d="M769.7,285.8l-0.2,5.7M764.6,282.1l0.2,2.5M775.7,319.5l-0.2,4.8M774.4,289.4l-0.5,2.1M765.1,307.0l-0.3,5.7M776.2,322.6l-0.2,5.5M767.9,306.9l-0.5,3.5M763.6,288.9l0.3,4.1M765.7,288.6l0.6,5.8M771.4,291.9l-0.4,3.4M774.2,320.6l0.4,5.6M771.4,309.1l-0.2,4.4M768.5,309.3l0.4,4.7M773.7,290.8l0.6,2.9M776.1,281.3l0.1,4.1M765.9,318.1l-0.3,4.9M758.0,285.2l-0.4,3.5M774.3,306.4l0.6,5.0M772.2,304.0l0.0,6.0M772.9,286.5l-0.2,2.8M759.2,293.1l0.3,2.8M758.5,318.1l-0.3,5.0M768.5,304.2l0.2,2.9M758.8,296.9l0.1,4.2M774.0,314.3l-0.2,2.3M766.2,322.4l-0.4,5.5M759.2,295.7l-0.3,3.7M764.8,314.6l0.2,4.8M764.8,315.7l0.3,2.4M768.2,319.2l0.6,5.5M776.3,316.9l0.2,4.7M764.8,322.0l0.1,4.6M761.2,306.7l0.5,5.8M758.8,320.6l-0.1,2.9M765.0,320.4l0.1,4.8M766.8,291.0l0.0,4.3M757.8,290.3l-0.1,5.5M768.0,308.7l0.4,4.5M773.8,283.5l-0.4,3.7M760.2,303.6l0.2,3.3M758.4,324.4l-0.5,3.5M764.1,293.5l0.2,4.2M758.2,311.5l-0.6,4.9M772.7,283.9l-0.2,3.6M760.6,323.8l-0.5,3.5M772.0,300.6l-0.3,2.8M760.5,297.3l0.5,2.8" stroke="#222" stroke-width="1.0" fill="none"/>
<path d="M531,296 L540,298 M531,327 L540,327 M683,298 L699.4,293 M683,334 L699.4,331 M725.6,289 L756.8,285 M725.6,322 L756.8,318" stroke="#111" stroke-width="0.9" fill="none"/>
<polygon points="539.7,298.0 683.2,298.5 683.2,405.4 578.0,399.5 539.7,398.0" fill="#a2bbe3"/>
<path d="M539.7,405 L539.7,298 L683.2,298.5 L683.2,405.4" stroke="#3a74c4" stroke-width="1.4" fill="none"/>
<path d="M542.5,400 L542.5,301 L680.5,301.5 L680.5,404" stroke="#5d8fd0" stroke-width="0.7" fill="none"/>
<path d="M545,305 L552,318 M548,306 L560,313 M677,305 L668,314 M675,304 L671,320" stroke="#6c93c9" stroke-width="0.6" fill="none"/>
<polygon points="560.0,397.0 685.0,404.0 687.0,406.0 751.0,422.0 796.0,404.0 796.0,424.0 766.0,436.5 663.0,410.5 590.0,405.5 560.0,402.0" fill="#9db8e2" stroke="#3a74c4" stroke-width="1.2" stroke-linejoin="round"/>
<path d="M570,400.5 L685,406.5" stroke="#3a6fc0" stroke-width="3.2" fill="none"/>
<path d="M663,409 L766,434 L796,422" stroke="#3a6fc0" stroke-width="2.2" fill="none"/>
<g fill="#fff"><circle cx="590.0" cy="401.5" r="1"/><circle cx="600.5" cy="402.1" r="1"/><circle cx="611.0" cy="402.6" r="1"/><circle cx="621.5" cy="403.1" r="1"/><circle cx="632.0" cy="403.7" r="1"/><circle cx="642.5" cy="404.2" r="1"/><circle cx="653.0" cy="404.8" r="1"/><circle cx="663.5" cy="405.4" r="1"/><circle cx="674.0" cy="405.9" r="1"/></g>
<polygon points="722.3,331.6 687,406 751,421.8" fill="#fff"/>
<path d="M709.3,388.1l0.3,4.8M714.2,380.5l-0.2,2.8M707.7,388.1l-0.2,2.1M710.3,389.0l-0.3,4.3M705.2,366.4l0.0,4.2M704.0,371.6l0.3,3.7M706.4,393.4l0.0,2.3M715.1,388.2l-0.2,2.8M706.8,395.7l0.3,2.6M713.8,392.3l-0.3,3.0M703.8,386.1l-0.3,4.6M705.8,378.1l-0.2,4.3M715.5,373.6l0.3,4.9M715.3,366.4l0.4,3.9M702.3,369.3l-0.1,2.0M711.2,367.7l-0.2,2.4M710.9,377.2l0.2,2.9M707.6,389.3l-0.1,3.6M709.4,365.4l-0.0,3.5M710.0,376.9l-0.1,4.2M715.3,371.5l-0.4,3.6M706.9,394.4l0.2,4.5M703.5,391.4l-0.5,3.5M701.4,368.9l-0.5,4.1M715.0,371.3l0.0,2.1" stroke="#222" stroke-width="1"/><path d="M699.4,340 L699.4,398 M718,360 L718,398" stroke="#111" stroke-width="1.1"/>
<polygon points="690,404 751,421.8 735,405 712,398" fill="#e8e8e8" stroke="#222" stroke-width="0.8"/>
<path d="M700.0,401.0l5,-5M702.6,401.9l5,-5M705.2,402.8l5,-5M707.8,403.7l5,-5M710.4,404.6l5,-5M713.0,405.5l5,-5M715.6,406.4l5,-5M718.2,407.3l5,-5M720.8,408.2l5,-5M723.4,409.1l5,-5M726.0,410.0l5,-5M728.6,410.9l5,-5M731.2,411.8l5,-5M733.8,412.7l5,-5" stroke="#444" stroke-width="0.6"/>
<polygon points="722.3,331.6 796,321.5 796,403.7 751,421.8" fill="#fff" stroke="#111" stroke-width="1.3" stroke-linejoin="round"/>
<path d="M722.3,331.6 C714,352 700,380 687,406 L751,421.8" stroke="#111" stroke-width="1.3" fill="none"/>
<path d="M722.3,333 C716,350 712,362 706,372 C700,384 702,396 710,402" stroke="#111" stroke-width="1" fill="none"/>
<path d="M723,333 C730,352 735,362 737,372 C740,390 745,405 751,420" stroke="#111" stroke-width="1.1" fill="none"/>
<path d="M707,365 L700,392 M712,360 L705,380 M735,365 L742,400 M731,352 L736,372" stroke="#333" stroke-width="0.7"/>
<path d="M720,333 L720,420" stroke="#111" stroke-width="2.2"/>
<path d="M745,329 L748,342 M752,328 L754,338 M766,326 L766,340 M775,325 L778,336 M785,324 L788,332 M760,400 L770,410 M780,390 L790,398" stroke="#333" stroke-width="0.7"/>
<path d="M721,340 L655,428" stroke="#111" stroke-width="0.9"/>
<path d="M652,426 L658,430 L654,432Z" fill="#111"/>
<path d="M551,378 L585,415 M585,378 L553,421 M538,396 L548,418 M600,394 L596,405" stroke="#111" stroke-width="5"/>
<path d="M551,378 L585,415 M585,378 L553,421" stroke="#999" stroke-width="1"/>
<polygon points="530,369 594,370 597,376 594,379 530,380" fill="#777" stroke="#111" stroke-width="1.1"/>
<path d="M531,372 L592,373 M531,376 L594,376.5" stroke="#bbb" stroke-width="0.6"/>
<polygon points="530,385 604,387 606,392 603,395 530,398" fill="#777" stroke="#111" stroke-width="1.1"/>
<path d="M531,389 L602,390 M531,393 L603,393" stroke="#bbb" stroke-width="0.6"/>
<polygon points="530,400 545,399 545,404 530,406" fill="#333"/>
<rect x="530" y="353" width="22" height="17" fill="#fff" stroke="#111" stroke-width="1.1"/>
<path d="M530,357 L552,357 M541,360 L545,360" stroke="#111" stroke-width="1"/>
<rect x="552" y="362" width="24" height="8" fill="#fff" stroke="#111" stroke-width="1.1"/>
<path d="M552,365 L576,365" stroke="#111" stroke-width="0.8"/>
<path d="M531,286.8 L793,286.8 L792.2,450" stroke="#7fb6e6" stroke-width="1.4" fill="none"/>
</g>
<g clip-path="url(#c5)">
<circle cx="331" cy="601" r="63" fill="#fff"/>
<path d="M371.4,587.3l-3.1,4.9M323.3,650.9l-3.4,-2.7M363.7,550.8l0.1,3.4M300.6,597.4l3.3,-2.7M331.1,605.9l-3.4,-2.4M304.5,639.3l-0.2,-3.2M365.7,585.4l-0.4,5.5M335.4,585.7l1.4,4.4M356.4,603.8l-3.2,2.7M335.1,580.7l2.4,4.2M315.3,548.7l3.3,1.3M322.6,593.5l3.6,-0.7M332.5,608.5l-2.4,-1.2M279.3,603.1l2.7,-3.7M350.0,638.9l-2.4,-1.4M314.8,648.8l-3.7,-4.1M334.1,628.0l-2.3,-0.9M326.7,582.0l3.9,1.5M351.3,543.3l2.3,3.6M313.8,567.8l4.9,0.4M282.3,622.4l0.7,-6.2M321.1,603.3l2.4,-3.7M346.3,624.6l-3.1,-0.6M349.0,613.0l-2.4,1.1M363.3,636.7l-2.8,0.4M390.8,586.8l-1.8,3.5M358.9,570.1l0.4,4.0M322.9,610.1l-1.0,-3.1M283.0,585.7l5.9,-2.5M373.6,592.6l-1.4,3.8M319.1,588.9l3.3,-0.4M386.1,576.4l-1.9,5.6M300.9,591.9l2.4,-1.6M328.7,631.6l-2.1,-3.7M304.7,581.1l3.1,-1.2M290.2,633.9l0.0,-5.6M295.8,637.6l0.2,-5.5M335.5,628.5l-3.4,-1.7M299.4,640.4l-1.5,-6.0M373.6,607.1l-2.7,3.6M349.0,589.5l-0.7,4.5M375.2,605.6l-3.4,3.5M325.2,650.3l-4.0,-4.1M294.5,558.5l6.2,1.8M311.3,571.7l5.2,-0.1M357.6,549.1l1.4,5.6M331.6,645.7l-3.1,-3.7M370.1,618.5l-5.0,1.8M374.1,597.4l-1.3,2.9M301.3,612.6l1.1,-4.4M368.5,593.9l-1.8,2.9M326.7,606.1l-0.5,-2.4M331.0,587.3l2.4,2.1M366.5,580.6l-0.5,5.6M332.3,606.4l-2.7,-1.1M316.3,598.1l1.6,-1.3M364.2,583.3l-1.0,3.6M351.3,564.4l0.6,3.9M278.9,608.2l1.7,-2.8M358.8,572.4l-1.0,5.7M363.8,579.6l-0.9,2.4M318.3,600.1l1.8,-1.5M374.1,591.7l-1.9,3.6M340.4,586.4l0.0,3.2M357.2,573.8l-0.8,4.2M311.9,621.6l0.7,-3.8M353.0,602.3l-2.3,3.3M303.1,610.6l2.7,-4.2M331.1,608.2l-3.5,-2.5M293.7,631.3l-0.2,-3.3M389.8,589.3l-2.8,4.0M373.8,603.5l-2.4,1.8M307.9,642.2l-1.1,-3.8M353.3,606.5l-2.7,1.9M319.4,648.0l-2.6,-2.5M296.7,605.1l3.0,-2.8M331.0,610.0l-2.5,-2.2M349.3,643.9l-5.6,-2.0M325.0,627.3l-1.2,-2.7M355.4,606.8l-3.2,3.4M357.6,636.7l-5.4,-0.0M331.3,546.5l3.7,3.4M304.3,582.0l4.0,-1.6M283.1,608.6l2.6,-5.2M286.0,626.1l0.0,-5.4M352.1,637.5l-3.2,-1.3M376.3,604.3l-2.5,1.8M356.1,605.1l-2.7,3.0M313.2,621.2l-0.1,-2.5M319.6,600.1l1.2,-1.8M346.9,564.3l0.7,2.9M306.1,615.9l1.0,-3.8M358.3,550.2l3.0,4.8M320.5,589.6l4.5,0.0M332.9,563.0l3.4,2.7M350.3,590.2l-0.6,2.5M343.1,587.1l-0.0,2.7M345.5,645.8l-4.9,-1.2M322.6,602.9l1.4,-2.2M300.6,555.2l5.9,0.4M328.5,610.1l-1.6,-1.6M371.4,555.9l0.8,3.3M281.5,601.2l3.0,-2.8M343.1,587.4l0.1,3.1M325.3,625.5l-1.8,-3.9M282.4,615.3l2.8,-3.8M357.0,570.9l-0.0,3.9M322.7,602.0l1.0,-1.9M310.8,549.1l2.5,1.4M296.2,596.2l3.1,-2.2M301.7,599.3l1.7,-2.3M330.1,627.3l-1.6,-2.3M347.4,591.8l-0.2,3.0M343.8,586.7l1.5,4.5M333.0,630.8l-3.1,-3.1M295.8,595.2l3.0,-3.4M354.4,604.3l-2.3,1.4M332.8,587.0l1.7,1.6M315.8,629.0l-1.3,-3.1M300.4,597.9l3.9,-2.7M324.2,589.3l4.4,1.4M372.6,604.1l-2.3,1.3M322.6,608.9l-0.1,-2.1M328.5,560.8l2.8,2.4M322.7,602.5l2.3,-2.4M354.8,551.1l1.5,2.7M320.4,624.0l-1.8,-3.1M349.5,608.8l-4.1,3.1M327.0,585.2l3.2,1.6M322.0,604.2l0.7,-3.3M342.1,543.8l1.6,3.4M330.6,608.4l-2.3,-2.4M329.1,629.0l-3.1,-4.1M351.9,610.6l-2.8,0.7M319.9,598.7l2.8,-3.0M280.4,602.2l1.6,-2.7M344.3,590.5l-0.2,3.8M344.3,590.7l-0.4,2.3M332.7,585.2l1.7,1.7M309.9,620.0l0.6,-4.1M316.8,545.5l4.1,3.0M300.0,612.5l2.5,-4.8M333.7,649.2l-4.7,-3.1M326.8,625.6l-2.2,-1.8M351.7,593.2l-0.7,2.3M304.4,642.4l-1.4,-2.6M319.8,595.5l4.5,-0.8M364.4,581.9l-0.7,3.7M345.4,616.6l-4.7,-0.2M334.3,644.8l-2.6,-2.1M347.9,643.1l-4.6,-3.1M319.8,598.2l3.0,-1.2M304.6,615.2l2.0,-4.9M317.9,564.0l2.5,1.2M280.3,606.8l2.6,-5.9M328.3,609.1l-2.0,-3.7M322.0,625.5l-1.6,-2.5M337.7,565.0l1.6,2.9M339.7,623.5l-3.9,-2.8M283.5,574.5l3.2,-1.2M279.4,591.0l2.2,-2.6M317.8,602.2l1.9,-1.6M285.8,621.0l2.5,-5.4M371.8,587.3l-0.9,2.4M308.1,574.1l3.7,-0.4M348.0,612.6l-3.2,1.1M297.8,592.8l4.5,-3.3M276.6,606.0l3.6,-3.9M320.9,564.1l4.1,1.8M365.9,628.3l-2.8,0.8M321.4,603.9l1.9,-3.5M343.9,643.8l-2.9,-2.3M342.3,642.7l-4.2,-2.9M363.4,634.9l-4.8,-0.5M335.7,583.7l1.0,2.6M386.0,574.8l-0.7,2.9M323.3,625.5l-2.2,-4.6M330.8,543.2l2.6,2.1M361.5,634.1l-3.9,-0.5M309.4,551.9l3.8,0.9M372.2,586.4l-1.1,4.6M303.7,639.3l-2.0,-4.4M276.6,591.9l3.7,-2.3M307.0,619.2l1.0,-3.2M353.6,600.0l-2.2,1.6M329.5,606.0l-1.7,-3.0M328.6,586.9l3.1,2.3M361.5,635.9l-4.3,0.8M276.7,587.5l4.7,-3.7M376.1,603.9l-3.1,3.9M281.2,582.9l2.8,-2.2M323.7,591.4l3.7,-0.3M317.1,600.8l3.2,-2.6M280.8,616.5l3.9,-5.0M373.5,588.4l-0.8,2.8M325.0,605.9l-0.0,-3.2M366.6,629.9l-3.8,1.4M325.7,565.7l4.1,1.8M330.2,629.4l-3.7,-3.7M362.9,555.1l0.5,5.7M350.5,605.4l-2.7,1.9M325.6,651.0l-2.6,-2.7M302.6,579.9l4.3,-0.2M352.0,605.8l-3.4,1.5M326.0,607.8l-1.2,-3.5M323.5,605.4l0.0,-3.2M390.2,584.7l-2.8,6.1M320.9,603.2l1.3,-1.5M303.6,640.3l-1.6,-3.3M300.1,603.2l1.6,-2.0M340.2,581.3l1.4,3.2M322.1,604.0l2.3,-3.0M309.0,578.5l5.0,-0.4M303.5,615.5l2.0,-3.9M369.2,597.1l-2.1,4.8M310.2,625.2l0.3,-5.2M327.9,631.7l-2.8,-4.2M319.3,589.5l4.7,-0.4M390.4,594.9l-2.3,3.3M300.3,597.0l2.3,-1.6M324.7,587.0l3.1,0.3M317.7,543.6l2.8,1.1M275.8,593.7l2.7,-2.0M346.3,584.7l-0.3,2.2M328.6,585.2l3.7,1.9M330.9,629.9l-3.3,-2.1M322.7,603.0l1.6,-2.5M332.9,627.5l-3.9,-3.5M345.9,587.4l0.4,3.7M330.8,645.4l-3.9,-3.6M331.9,609.5l-2.6,-1.8M367.2,579.1l0.1,4.3M327.9,607.9l-0.9,-1.8M352.7,606.7l-4.4,2.3M332.1,628.1l-3.5,-3.8M350.6,607.6l-2.4,0.7M299.0,608.8l1.8,-3.1M344.8,546.3l3.2,5.2M320.4,593.8l3.5,-0.8M335.2,584.1l1.7,1.6M342.7,620.6l-2.8,-1.3M354.4,597.9l-2.0,2.2M278.2,593.2l3.9,-3.4M345.5,589.9l-1.0,3.3M318.7,548.4l2.9,1.0M323.8,648.4l-2.3,-1.7M278.9,598.0l2.5,-1.6M352.9,572.0l0.3,4.6M364.4,582.0l-1.3,2.6M322.5,608.1l-0.3,-2.1M298.1,602.2l3.7,-2.9M321.9,607.3l0.7,-2.2M312.5,643.8l-1.3,-2.4M308.8,644.3l-0.6,-4.4M323.0,590.9l4.7,-0.2M334.0,586.5l1.5,1.8M306.5,619.7l0.5,-2.9M319.6,593.0l3.2,-0.4M346.0,562.8l2.0,2.8M302.0,583.2l4.2,-0.3M370.8,616.2l-5.3,1.7M350.5,604.6l-2.4,2.2M311.8,550.3l4.8,2.3M371.9,561.5l-0.5,4.2M318.1,601.2l2.8,-2.2M323.8,611.0l-0.9,-3.5M336.7,645.6l-3.2,-2.1M322.6,602.2l2.0,-2.3M297.2,561.9l3.5,-0.2M364.3,550.0l0.2,4.9M319.6,601.0l1.2,-1.7M339.2,565.7l3.0,3.0M354.9,544.4l1.4,3.0M302.6,637.7l-0.4,-3.0M304.7,613.3l1.8,-5.1M307.9,616.9l0.8,-5.2M326.5,629.1l-1.5,-3.0M280.1,609.9l1.2,-2.8M359.0,549.8l2.2,6.1M345.4,565.6l2.6,4.3M349.1,591.8l-1.6,3.6M321.0,595.1l3.9,-0.8M315.6,601.4l1.3,-2.1M320.5,603.7l2.3,-3.6M322.5,586.6l3.7,0.1M347.4,591.0l0.1,4.2M316.9,596.3l3.0,-2.0M372.7,599.2l-4.5,3.6M351.8,600.6l-2.1,1.6M309.6,620.6l0.7,-2.7M374.3,611.4l-2.3,1.2M362.7,553.0l0.3,5.5M307.1,622.3l0.4,-3.4M330.5,648.1l-3.2,-3.7M287.2,621.3l0.9,-2.6M285.8,627.2l1.1,-2.7M320.6,566.6l3.0,0.8M346.4,585.5l-0.1,3.3M371.2,603.2l-1.7,2.0M372.9,612.3l-4.0,1.8M305.2,614.5l1.3,-3.3M360.2,571.8l0.3,4.9M325.1,606.4l0.4,-2.3M327.0,605.4l0.1,-2.2M299.8,603.3l2.9,-2.7M314.8,573.4l4.7,1.8M372.2,587.5l-2.4,4.4M283.9,573.5l5.3,-3.1M389.3,590.2l-1.5,4.1M320.2,601.7l1.2,-2.3M332.1,606.8l-3.3,-1.6M323.9,625.6l-1.6,-4.8M359.6,632.6l-4.2,0.1M315.9,621.8l-1.0,-4.6M360.1,638.4l-5.3,-1.0M294.0,556.7l4.4,0.9M372.9,614.8l-4.9,1.6M303.8,610.4l1.0,-3.0M366.1,631.0l-4.4,1.2M281.9,583.5l4.0,-3.2M335.3,624.5l-2.1,-1.0M321.1,591.1l2.0,-0.5M329.6,560.9l2.3,2.8M344.4,547.8l2.0,2.2M323.9,608.3l0.3,-3.2M282.7,616.3l3.1,-4.0M322.2,568.3l3.5,1.7M280.8,599.2l3.7,-4.5M322.3,606.7l0.1,-3.7M355.7,574.1l-0.2,3.9M352.0,617.3l-3.2,0.1M364.3,625.5l-2.9,0.5M375.9,600.4l-2.0,1.9M309.2,574.1l2.9,0.1M352.3,599.2l-1.8,3.8M345.1,589.3l0.4,3.0M351.2,548.0l2.6,3.4M363.0,555.0l1.1,3.6M364.5,629.5l-5.4,1.8M349.2,619.3l-4.9,0.3M325.8,606.4l-0.4,-2.6M278.9,599.9l3.0,-3.6M282.2,578.1l4.9,-2.1M366.6,583.2l-0.7,2.9M300.4,614.2l0.9,-3.4M362.7,575.8l0.3,4.1M328.9,644.9l-4.5,-3.1M326.2,547.5l4.8,2.3M354.2,601.6l-1.8,3.0M323.6,589.1l3.3,1.0M283.7,570.6l5.9,-1.1M326.6,585.7l3.5,1.4M316.0,599.1l3.0,-2.8M321.8,630.1l-0.7,-2.6M317.1,648.5l-2.0,-3.2M325.7,586.7l2.6,1.8M349.8,591.0l-0.9,3.8M301.2,605.1l1.9,-4.6M370.3,613.4l-4.0,2.3M303.2,576.5l3.4,0.1M345.5,622.4l-5.1,0.1M326.5,608.5l-1.2,-3.0M327.4,606.8l-0.1,-4.0M339.4,584.8l1.3,2.1M330.4,580.7l2.3,1.6M325.5,605.5l1.2,-3.7M341.4,542.0l1.9,3.4M325.2,588.2l2.5,0.3M340.1,646.4l-3.6,-1.1M281.9,573.9l5.5,-1.1M332.4,543.5l3.9,3.4M349.7,600.8l-2.0,2.9M321.4,598.2l2.4,-1.9M374.5,560.3l-1.0,5.8M355.7,572.1l0.6,3.6M374.7,595.4l-2.5,2.6M323.3,593.0l2.7,0.1M331.8,606.1l-2.2,-1.1M371.4,618.1l-4.5,2.6M335.6,580.9l2.7,2.7M352.0,643.2l-5.5,-1.6M372.6,591.8l-1.0,3.1M298.6,599.1l2.7,-3.9M342.2,623.7l-4.6,-1.4M353.2,608.7l-3.8,1.8M350.3,611.8l-3.8,1.3M370.6,603.1l-3.2,3.2M331.3,586.7l1.2,1.8M304.8,581.6l3.0,-1.4M323.3,588.7l2.1,0.9M340.8,626.4l-2.1,-1.0M341.1,586.8l0.0,3.4M349.4,592.1l-0.8,2.5M371.6,620.4l-4.2,1.7M297.7,641.4l-0.2,-2.9M305.0,576.8l4.6,-0.7M333.4,628.4l-3.3,-2.9M346.5,543.8l2.5,5.1M343.0,585.2l0.3,2.3M312.7,643.6l-1.9,-4.2M338.6,648.8l-5.1,-3.3M301.4,611.4l2.1,-2.7M345.6,648.0l-5.3,-1.3M373.2,608.7l-4.9,2.7M320.5,591.3l4.0,-0.1M282.1,594.4l4.7,-4.1M366.6,551.7l1.6,5.7M318.1,566.3l4.8,2.4M345.5,648.2l-4.0,-1.9M372.7,612.9l-4.3,4.1M350.5,615.0l-2.6,1.2M348.8,547.4l3.4,5.0M346.5,587.1l-0.2,4.7M300.4,593.1l2.8,-2.3M331.9,604.4l-2.5,-0.9M299.3,642.5l-0.9,-3.5M354.1,605.1l-2.0,1.6M315.0,571.2l5.0,0.4M319.4,600.7l2.7,-2.1M298.7,558.1l2.9,1.0M316.4,547.3l3.8,0.9M325.7,650.2l-3.1,-2.2M296.0,598.9l2.4,-1.5M349.9,608.5l-3.3,1.7M301.2,605.7l2.8,-2.7M354.0,611.5l-3.0,1.7M320.8,601.0l3.1,-2.0M313.5,568.8l3.9,1.4M333.6,625.1l-2.4,-1.1M317.3,622.4l-0.6,-3.3M342.6,587.3l0.3,2.7M285.4,572.8l2.8,-1.5M311.5,548.0l5.4,1.6M324.9,610.8l-0.2,-3.6M326.0,607.8l-0.1,-3.5M335.3,585.6l2.5,2.6M327.6,585.4l3.4,3.1M300.0,583.4l4.9,-2.6M292.5,562.6l3.9,0.6M387.2,581.0l-3.7,5.1M355.6,546.3l2.3,3.3M375.3,612.2l-2.4,1.3M341.5,623.2l-2.9,-0.4M311.0,573.4l3.8,0.0M366.9,553.3l0.3,6.6M328.0,611.1l-1.6,-1.8M323.9,649.7l-2.6,-3.6M338.3,646.4l-3.1,-1.5M321.9,599.6l4.1,-1.9M341.3,623.8l-4.5,-1.0M303.9,585.2l5.4,-0.6M326.5,608.2l-1.4,-3.3M337.0,625.1l-3.8,-1.6M305.2,578.6l4.0,-0.1M366.0,554.0l0.2,6.6M370.0,586.8l-2.6,4.3M331.0,584.6l1.8,1.2M361.2,632.1l-2.7,0.4M329.8,609.6l-2.1,-2.2M369.6,627.5l-3.4,0.4M389.1,589.7l-3.1,4.6M355.9,602.9l-3.3,2.7M317.6,591.7l3.5,-1.2M326.3,646.8l-2.9,-2.6M298.5,595.9l2.7,-1.8M324.2,604.6l1.0,-3.4M282.7,570.4l4.3,-1.1M299.8,596.1l3.7,-2.2M315.6,595.8l3.6,-1.9M328.0,563.8l2.2,1.9M317.5,594.1l2.2,-1.0M277.8,606.0l3.0,-3.0M317.4,593.8l3.4,-1.8M355.9,636.7l-4.7,0.5M287.2,626.9l1.6,-3.2M331.1,647.5l-2.7,-2.7M342.7,585.5l0.6,4.7M362.5,576.6l-0.8,4.6M315.2,623.3l-0.4,-3.5M328.7,606.5l-1.7,-3.3M372.4,611.8l-3.4,1.5M341.2,626.6l-3.2,-1.6M312.1,552.0l5.7,2.4M303.3,555.7l4.6,1.7M355.1,549.1l1.6,5.2M390.5,591.0l-1.8,3.0M361.6,628.8l-3.1,-0.3M330.0,581.0l3.2,2.7M341.8,622.1l-5.1,-1.1M330.5,581.3l2.4,3.2M352.6,594.2l-2.4,3.1M339.6,583.8l0.5,3.8M322.3,592.1l2.2,0.1M332.2,606.3l-2.9,-1.2M321.8,606.5l0.8,-2.7M350.3,567.3l0.7,4.4M373.2,598.5l-2.2,1.9M316.1,598.4l1.8,-0.9M315.0,546.4l4.5,3.3M329.5,625.4l-2.6,-3.6M300.5,596.8l4.0,-3.7M301.0,600.5l4.7,-2.9M327.0,587.7l2.7,1.7M297.8,594.1l3.2,-2.9M333.9,585.6l1.9,2.7M316.3,549.4l3.0,2.4M342.3,620.6l-5.2,-0.7M336.4,629.2l-3.1,-3.2M328.4,585.2l2.5,1.1M344.9,618.8l-3.8,-0.7M351.5,603.8l-1.7,1.9M305.7,612.2l1.1,-3.0M299.6,636.9l0.5,-6.2M349.6,548.0l1.3,4.6M306.9,551.2l3.7,1.2M309.9,643.6l-0.9,-5.2M308.6,615.8l0.2,-3.7M332.2,628.4l-3.3,-1.7M312.8,544.7l4.8,2.8M364.7,573.8l-0.9,4.0M300.2,580.7l4.3,-0.9M353.3,611.2l-4.6,2.0M367.4,558.4l1.4,4.1M278.5,595.5l2.1,-2.4M345.7,591.4l0.0,4.3M330.9,586.4l1.7,1.8M278.5,589.2l5.1,-2.2M331.4,646.3l-3.1,-2.6M320.8,630.2l-2.4,-4.2M368.8,593.8l-1.9,4.2M289.8,626.3l0.3,-4.1M299.8,602.8l3.4,-2.7M351.6,599.2l-1.6,2.1M322.7,624.6l-2.0,-4.6M319.5,545.1l4.5,2.4M333.2,566.1l2.8,3.1M332.1,584.2l2.2,3.3M346.8,617.4l-3.9,-0.2M352.9,606.8l-3.3,2.3M302.1,555.0l4.9,1.0M368.5,619.1l-5.2,2.8M319.4,590.7l3.3,-0.7M302.0,606.7l2.1,-5.0M328.6,606.3l-0.8,-2.8M331.5,582.0l1.4,2.3M349.5,641.9l-4.0,-2.6M315.6,545.8l4.4,1.3M349.9,639.8l-6.2,-0.6M344.6,543.8l4.1,3.9M343.5,644.9l-5.1,-3.1M306.3,582.2l5.2,-1.9M349.1,646.4l-3.0,-0.6M363.7,630.2l-3.4,0.4M304.0,644.0l-0.6,-4.3M302.2,585.3l3.3,-1.2M295.6,596.9l2.4,-1.5M371.1,623.3l-5.3,2.2M358.9,552.8l1.0,4.3M298.5,598.7l3.7,-2.4M310.6,551.0l3.8,2.1M327.4,582.8l2.2,1.5M314.6,547.4l5.7,3.4M348.8,618.1l-3.1,0.1M318.9,563.7l2.9,1.7M364.5,631.2l-5.0,0.8M329.4,630.1l-3.5,-3.3M350.9,606.0l-2.0,1.6M296.9,553.5l3.8,0.3M303.3,550.2l4.0,0.5M305.4,582.9l3.5,-1.3M321.0,598.2l2.5,-1.3M336.3,540.7l2.4,3.2M308.3,642.7l-0.6,-4.2M360.6,636.9l-5.3,-0.9M342.6,620.7l-5.1,-0.8M328.4,607.2l-1.5,-2.6M297.3,560.7l2.9,-0.4M345.6,623.4l-4.2,-0.6M309.5,574.8l2.6,0.0M371.6,555.5l1.1,3.6M291.5,631.6l1.2,-5.4M318.6,590.0l2.4,-0.6M317.1,649.1l-2.4,-3.3M328.6,646.7l-4.5,-4.4M316.1,593.8l4.7,-0.8M345.0,590.0l-0.1,2.6M345.4,544.5l1.9,4.4M301.0,578.9l3.0,-1.2M286.7,569.1l6.6,-0.4M298.2,638.8l0.1,-4.7M338.4,585.5l0.6,3.6M328.2,609.5l-0.9,-3.4M302.1,584.4l4.3,-1.0M298.4,585.0l4.9,-0.8M335.9,649.0l-3.9,-2.1M349.2,595.6l-1.8,2.2M277.3,606.5l1.6,-2.4M326.2,584.6l2.6,1.7M358.6,575.9l-0.5,5.2M291.5,632.2l0.3,-2.7M350.5,595.1l-0.6,2.3M375.7,559.6l-0.2,5.7M294.0,559.5l4.3,-0.1M319.7,588.4l3.0,0.3M357.0,635.7l-4.5,-1.1M350.6,571.1l0.2,5.8M307.4,641.9l-0.6,-3.1M327.6,565.5l2.8,2.1M322.9,606.3l0.1,-2.4M345.6,617.5l-5.1,1.1M323.1,610.1l-0.3,-2.2M305.8,617.7l-0.2,-4.1M331.6,606.2l-3.0,-2.7M326.8,586.1l2.3,1.9M320.3,598.3l2.7,-1.1M373.4,619.9l-3.1,1.1M300.8,590.9l3.8,-2.1M305.6,574.4l3.1,-0.0M367.8,621.2l-3.6,1.8M303.3,589.5l4.9,-2.6M308.3,576.1l4.7,-0.0M305.5,579.1l3.3,-0.2M363.9,629.9l-3.9,-0.0M370.6,598.8l-2.7,3.3M330.9,605.4l-2.8,-2.6M277.8,609.8l4.3,-4.7M331.6,586.3l3.5,2.5M329.9,585.5l4.1,2.2M335.4,585.6l2.0,3.6M327.3,609.1l-1.3,-3.1M308.9,571.3l5.1,1.4M345.4,616.9l-2.3,-0.0M372.4,597.3l-3.9,3.9M329.8,649.4l-4.1,-3.4M370.9,599.5l-3.3,2.6M318.9,569.5l3.4,2.1M321.3,650.1l-2.8,-3.9M300.8,600.5l4.2,-3.3M329.3,605.6l-1.0,-1.9M304.0,613.0l1.0,-4.7M351.6,564.9l1.7,3.4M369.6,583.2l-0.9,3.1M324.7,628.5l-1.5,-4.0M280.1,578.5l4.3,-2.0M278.1,588.9l2.8,-2.1M330.6,646.6l-2.9,-2.2M363.0,633.4l-4.6,-0.9M297.6,588.0l3.5,-2.6M389.7,587.8l-1.2,3.2M328.9,610.1l-2.4,-3.2M283.1,588.5l3.0,-2.3M347.6,595.2l-0.9,3.0M299.8,606.4l2.0,-1.9M316.8,592.7l3.2,-1.4M355.1,610.8l-3.8,0.9M320.6,602.8l2.2,-2.7M352.1,599.9l-1.6,3.0M279.7,597.6l2.5,-2.4M345.5,644.0l-5.1,-2.0M350.2,605.7l-3.8,2.2M325.9,607.3l0.2,-3.3M316.1,622.7l-1.3,-4.0M335.7,542.8l2.2,3.9M323.7,606.1l0.1,-2.1M318.4,606.2l1.2,-2.0M317.9,606.3l0.6,-2.7M340.0,586.9l1.6,3.0M298.3,634.0l-0.1,-3.2M286.7,630.0l1.7,-4.4M318.7,591.4l3.9,-1.5M355.6,608.3l-3.5,2.6M304.2,583.5l3.7,-0.9M321.6,589.0l4.0,0.4M345.2,622.7l-3.8,-0.1M346.6,586.1l0.5,2.9M323.8,605.9l0.4,-2.5M316.0,596.4l2.1,-1.5M317.2,628.6l-1.2,-5.0M327.1,565.7l2.2,1.6M366.2,631.6l-5.5,-0.6M375.2,605.3l-3.1,3.4M321.7,585.2l2.5,0.6M337.6,581.6l1.6,3.5M301.8,555.7l5.0,0.3M334.2,582.3l1.6,2.1M320.9,597.2l4.1,-1.8M282.5,622.6l2.0,-5.4M347.0,618.5l-3.0,-0.6M370.4,588.0l-0.9,4.4M282.1,622.5l1.8,-5.8M326.5,611.2l-1.2,-3.8M300.2,609.0l1.9,-2.4M327.8,583.1l2.0,1.9M327.7,564.4l4.5,2.8M354.9,600.9l-1.7,2.0M376.2,565.5l0.4,3.1M339.5,621.8l-5.0,-1.0M350.2,590.4l-0.2,2.2M331.5,604.9l-2.0,-2.3M345.1,591.6l-0.7,3.0M327.4,585.6l2.5,1.8M336.7,566.1l1.6,2.1M344.0,541.7l2.6,4.0M318.5,628.4l-1.6,-4.3M302.5,611.0l1.5,-2.6M343.0,621.1l-4.9,-0.3M353.1,613.3l-4.3,2.6M297.1,597.2l2.7,-3.4M281.6,608.8l1.6,-3.9M299.5,641.0l-1.4,-3.7M336.0,545.4l5.1,3.7M279.4,601.9l4.1,-3.8M282.2,587.0l5.7,-2.6M288.4,627.8l0.9,-6.3M304.4,575.0l4.1,0.6M318.4,594.2l2.6,-1.4M341.9,564.7l2.3,4.7M366.8,555.6l-0.3,4.2M342.3,626.0l-3.2,-2.0M283.1,623.5l1.1,-4.9M357.0,552.3l3.1,5.5M340.1,564.9l1.7,3.6M320.5,593.6l3.8,-0.3M305.5,584.4l2.7,0.0M354.7,598.9l-3.2,2.7M326.3,629.9l-2.2,-3.4M290.0,630.3l0.6,-3.7M297.0,633.2l-1.1,-4.9M324.9,610.7l-1.3,-2.9M349.9,592.9l-1.1,2.5M325.3,561.5l2.9,1.3M331.4,586.7l4.1,2.4M376.3,566.8l-1.4,5.1M336.0,581.2l2.7,2.8M369.7,624.2l-2.9,1.3M370.3,593.6l-3.0,4.2M328.0,610.1l-0.8,-2.9M345.4,566.8l0.7,3.2M319.2,601.8l2.1,-2.8M334.7,580.8l1.9,2.6M318.6,643.9l-1.9,-5.4M349.1,592.0l-0.3,4.5M385.7,573.5l-2.4,4.2M292.5,558.9l4.5,1.0M309.4,578.3l2.7,0.6M350.2,566.7l1.7,3.3M349.7,606.7l-2.8,1.8M341.7,647.4l-4.3,-3.9M350.0,591.3l-1.6,4.1M320.7,593.4l2.9,-0.4M336.3,544.5l1.9,2.6M318.1,542.8l3.0,2.9M276.3,588.7l2.2,-2.2M374.0,619.2l-4.4,3.4M371.6,614.7l-3.4,2.7M305.3,582.1l4.8,0.1M323.4,586.6l4.4,1.4M325.4,607.6l-1.1,-3.7M318.8,605.8l1.5,-3.3M330.3,648.9l-3.2,-3.2M329.6,606.5l-1.4,-2.7M297.9,607.7l2.2,-4.1M279.9,616.5l1.6,-4.8M298.2,598.3l1.8,-2.4M348.3,587.6l-0.8,3.2M362.9,577.6l-0.5,3.4M344.9,626.0l-2.4,-1.1M316.1,597.0l3.1,-2.1M362.7,575.7l-0.8,3.0M290.8,567.2l3.8,-1.3M308.6,571.5l5.6,0.8M329.8,585.1l2.8,2.4M357.0,637.9l-5.4,0.3M288.5,622.2l1.2,-2.5M364.1,631.8l-2.9,0.5M350.3,591.7l-1.4,4.3M324.8,585.6l2.1,0.6M329.5,587.2l2.0,1.0M385.4,576.5l-2.0,4.2M309.3,576.2l3.0,0.8M293.4,565.7l5.2,0.9M349.0,566.4l2.1,5.4M319.7,592.3l2.5,-0.2M311.6,546.7l3.9,0.9M367.3,630.7l-3.6,-0.4M279.4,586.9l3.0,-2.2M322.2,600.7l1.6,-1.7M333.9,584.9l2.0,1.8M352.2,590.2l-0.9,3.8M323.3,562.2l4.2,3.7M295.5,557.0l4.0,1.1M363.3,579.3l-1.3,3.2M391.1,600.7l-3.7,4.7M343.3,567.1l3.3,4.3M335.2,583.7l1.4,3.2M269.2,610.1l1.7,-4.5M282.0,564.7l2.9,-1.3M316.2,540.9l2.5,0.6M293.4,648.7l-1.8,-4.2M270.2,595.6l2.7,-4.0M295.7,552.4l2.7,-0.4M373.3,557.4l1.1,3.5M278.8,566.7l1.8,-1.0M390.2,612.8l-2.0,2.5M281.5,564.2l4.2,-1.9M326.0,539.3l3.6,1.6M344.4,659.7l-2.4,-0.7M383.2,568.7l0.1,2.4M393.1,594.7l-1.6,3.7M327.1,663.5l-3.7,-2.3M377.6,562.6l0.8,3.9M291.9,552.2l4.9,-0.9M302.3,654.9l-1.1,-1.7M306.1,657.2l-2.1,-2.7M278.1,633.0l-0.1,-2.1M293.4,551.8l2.3,-0.4M289.7,645.9l-1.4,-4.0M276.9,632.7l-0.1,-3.9M281.2,564.8l4.4,-2.1M290.0,646.7l-0.7,-2.0M372.9,647.3l-2.5,0.6M359.6,656.8l-4.8,-0.1M278.5,568.9l3.2,-1.8M318.5,660.1l-3.2,-2.7M274.6,628.9l0.1,-2.0M390.3,614.4l-1.4,1.6M272.6,620.1l0.6,-3.1M313.4,658.5l-3.4,-3.5M332.9,539.6l4.2,2.5M312.5,541.5l2.4,0.5M369.2,650.7l-3.1,0.5M282.4,561.9l2.1,-0.9M299.0,653.7l-2.3,-4.0M377.9,562.8l0.5,2.7M358.6,545.3l2.2,3.1M270.2,587.6l2.4,-2.7M326.0,661.4l-2.3,-1.5M343.3,539.8l1.6,1.3M275.0,623.6l0.5,-3.9M330.1,662.5l-2.6,-1.5M298.5,548.0l2.5,-0.1M393.9,600.6l-1.1,2.1M304.9,657.2l-2.2,-2.9M268.5,603.0l2.0,-4.0M315.2,540.6l2.4,0.6M377.9,640.7l-3.6,1.4M319.3,539.8l4.4,1.4M381.2,565.4l0.3,2.3M359.0,655.0l-2.2,-0.0M287.8,558.1l2.0,-0.6M368.5,650.7l-3.3,0.5M366.8,552.1l1.3,2.9M392.2,605.6l-1.4,2.2M316.3,659.4l-2.1,-1.9M282.9,638.5l-0.8,-4.7M387.8,624.0l-3.1,2.5M375.0,645.7l-2.9,0.8M298.7,652.7l-2.4,-4.3M298.7,548.4l5.0,-0.2M387.5,576.2l-0.3,3.4M268.7,594.1l2.3,-3.2M316.6,541.1l3.6,1.0M382.3,567.8l0.3,4.1M376.2,560.3l0.8,3.3M389.0,584.9l-0.5,2.2M393.5,601.0l-2.2,4.1M293.0,553.7l3.0,-0.5M316.9,661.9l-1.8,-1.6M378.1,642.0l-4.2,1.5M272.3,586.7l3.3,-3.7M273.0,624.1l0.6,-4.7M377.6,641.0l-4.2,1.6M375.1,644.9l-3.8,1.1M380.5,635.7l-3.8,1.9M273.9,580.6l1.8,-1.6M366.2,550.7l1.4,2.8M355.2,544.3l1.3,1.7M311.0,541.4l3.6,0.6M343.5,661.5l-3.1,-1.0M311.6,543.1l3.0,0.5M338.9,661.1l-2.0,-0.8M278.4,570.5l3.3,-2.0M392.9,611.3l-2.4,3.1M344.9,541.5l3.7,3.3M312.0,542.3l4.8,0.9M335.9,663.5l-2.9,-1.3M391.4,611.7l-2.3,2.8M354.0,657.7l-3.4,-0.4M312.0,543.4l4.3,0.8M305.6,543.7l3.7,0.3M299.9,546.9l3.1,-0.1M269.4,592.8l1.3,-1.8M317.2,661.2l-3.2,-2.9M391.2,595.6l-1.9,4.3M392.1,594.5l-1.5,3.6M390.8,612.0l-2.8,3.5M296.4,651.5l-1.0,-2.0M388.0,577.3l-0.4,3.4M341.7,660.4l-4.6,-1.5M278.7,633.2l-0.1,-2.9M313.2,542.5l4.4,0.9M392.1,607.8l-2.8,4.0M391.4,610.3l-1.9,2.5M377.4,642.3l-4.6,1.6M344.6,661.0l-4.4,-1.3M379.6,640.9l-3.5,1.4M286.1,556.9l4.3,-1.3M337.7,540.2l2.2,1.6M386.2,572.1l-0.1,5.0M273.8,582.0l2.7,-2.5M283.6,563.9l3.0,-1.3M307.8,656.4l-3.1,-3.9M373.0,644.4l-4.1,1.1M346.4,661.4l-2.1,-0.5M363.6,547.4l2.3,3.9M347.9,543.4l1.7,1.7M354.2,542.7l1.5,1.8M366.5,549.5l1.9,3.8M392.3,595.7l-1.3,3.0M379.3,563.6l0.8,4.9M308.7,543.5l2.1,0.3M378.4,563.0l0.4,2.4M308.3,543.1l3.3,0.4M365.1,653.7l-3.4,0.3M317.5,541.6l4.4,1.2M382.8,569.2l0.1,2.7M340.4,540.9l1.9,1.4M391.0,606.6l-1.4,2.1M372.4,557.4l1.0,3.1M269.2,590.0l1.4,-1.7M367.1,551.7l1.2,2.5M353.5,659.6l-4.3,-0.6M322.3,663.2l-3.6,-2.7M306.5,658.5l-2.3,-2.9M289.8,646.6l-1.1,-3.2" stroke="#151515" stroke-width="0.95" fill="none" stroke-linecap="round"/>
<polygon points="381.0,624.0 462.0,628.0 462.0,645.0 455.0,660.0 440.0,667.0 380.0,667.0 385.0,650.0" fill="#111"/>
<path d="M424.8,638.0l0.0,4.9M402.4,642.6l-0.1,3.4M411.3,648.8l0.9,2.5M418.4,659.4l-1.0,4.1M413.0,645.2l0.5,2.8M392.5,649.2l1.0,3.4M451.6,645.4l0.4,4.0M440.2,649.5l0.4,4.1M405.1,656.5l0.2,3.5M430.9,640.3l-0.5,4.7M402.4,640.7l0.2,3.5M394.3,638.2l0.5,2.4M420.7,633.3l-0.8,4.9M417.9,644.0l-0.9,2.5M423.1,657.9l0.9,3.2M422.8,636.6l0.7,2.4M408.8,635.8l0.5,4.6M418.0,639.9l0.8,2.3M440.0,639.5l0.8,2.8M447.3,655.5l-0.4,2.6M431.0,632.3l0.2,2.9M433.4,633.2l0.4,2.8M427.1,651.7l-0.7,3.0M436.6,650.7l0.8,2.1M414.5,640.5l0.8,3.5M410.3,634.8l-0.1,3.0M389.4,648.9l0.8,3.2M418.7,656.4l0.9,4.9M438.7,635.5l-0.3,3.0M442.5,653.6l0.6,2.5M403.4,659.8l-0.3,3.8M417.1,651.5l-1.0,4.4M449.8,650.8l-0.3,4.1M402.3,653.1l0.6,3.8M439.1,650.8l0.5,4.7M439.6,657.3l0.4,2.3M401.6,657.3l-0.8,4.6M436.8,634.2l0.8,4.1M402.7,640.3l0.4,3.9M427.6,655.6l-0.4,4.6M453.6,655.5l-0.1,2.7M422.0,641.9l0.3,2.3M407.9,632.7l-0.8,2.9M424.8,653.7l-0.3,4.7M421.8,658.7l-0.3,3.0M399.0,653.7l0.2,4.8M421.8,652.9l-0.7,4.8M393.0,635.7l1.0,2.2M453.2,659.8l-0.9,3.3M441.9,659.1l0.1,4.7M416.9,652.4l-0.9,4.0M402.3,651.7l-0.4,2.1M418.5,636.9l0.0,2.0M417.4,636.6l-0.3,3.8M438.3,644.5l-0.1,2.9M429.4,652.2l-0.5,2.4M435.8,638.0l0.5,3.7M394.3,640.3l0.9,4.5M432.4,659.9l1.0,4.4M447.4,645.0l0.8,2.9" stroke="#ddd" stroke-width="0.7" fill="none"/>
<polygon points="260.5,631.0 261.0,604.0 266.0,581.0 279.0,559.0 300.0,543.5 332.0,534.5 364.0,536.0 397.8,541.5 426.4,549.5 447.2,568.0 457.6,591.7 461.5,617.7 462.8,629.4 430.0,627.0 387.4,624.2 390.0,604.7 387.4,584.0 377.0,565.8 358.9,548.5 336.0,540.5 314.7,542.0 296.0,550.0 283.0,566.0 275.0,590.0 273.0,612.0 278.0,629.0" fill="#a3b9e2" stroke="#2f6cc2" stroke-width="2" stroke-linejoin="round"/>
<path d="M400,560 L410,600 M415,555 L430,610 M440,580 L445,615 M370,555 L392,570 M420,600 L425,622" stroke="#5e88c4" stroke-width="0.6" fill="none"/>
<path d="M277,570 L383,570 M277,623 L388,623" stroke="#111" stroke-width="2.4" stroke-linecap="round"/>
<path d="M464.1,666.8l1.8,-7.7M400.0,663.8l0.9,-2.2M254.4,666.0l1.5,-10.9M414.3,659.8l-0.0,-5.0M447.8,663.0l0.9,-3.9M423.9,663.4l0.7,-3.7M372.8,658.1l-1.4,-3.9M358.5,658.1l0.4,-7.3M266.6,664.0l-1.9,-10.6M412.7,661.7l1.7,-6.6M384.4,665.0l1.0,-2.6M404.4,664.5l-1.1,-4.1M326.0,658.7l0.7,-6.6M385.1,664.9l0.4,-3.2M428.4,663.3l-0.9,-2.6M309.1,660.1l-0.5,-6.8M283.8,666.5l1.6,-8.4M338.5,658.2l1.6,-2.5M239.5,657.8l-0.4,-8.6M242.6,660.4l-1.3,-8.5M324.8,659.4l1.6,-5.5M377.3,664.6l-1.9,-7.7M257.3,665.2l-0.3,-7.4M444.5,659.5l1.2,-4.3M406.6,657.7l1.4,-3.1M383.3,661.0l0.1,-6.6M448.8,659.7l-0.5,-5.0M233.9,663.6l-0.7,-7.7M310.5,661.2l1.9,-6.4M411.2,666.4l-1.9,-3.3M270.9,665.4l1.0,-3.1M475.7,664.9l-1.2,-5.4M438.8,658.9l-0.1,-1.6M459.1,667.0l-1.8,-4.5M347.0,661.4l-0.5,-6.6M332.6,665.5l-1.0,-7.6M366.5,657.4l-1.9,-5.5M387.5,660.9l0.0,-6.8M273.8,664.6l0.2,-6.3M411.0,661.0l-1.8,-4.6M308.7,657.7l-0.1,-5.5M284.8,660.6l1.8,-2.1M445.5,660.1l0.9,-7.1M357.8,660.1l1.3,-6.9M426.4,661.5l-1.1,-6.5M427.1,666.8l-1.3,-1.8M398.8,663.8l-1.9,-2.4M460.5,666.9l-1.7,-8.4M415.8,661.4l-0.8,-3.7M407.0,661.0l-1.9,-2.5M245.1,661.2l0.3,-10.0M469.3,665.9l0.2,-8.3M359.3,663.9l-1.3,-6.4M367.1,661.6l-0.0,-5.5M357.4,663.1l-1.4,-4.2M477.1,664.5l1.3,-4.0M425.2,660.3l-1.2,-3.2M237.2,659.5l1.9,-12.0M387.7,666.7l0.2,-1.9M470.8,659.6l1.7,-2.2M382.1,666.4l1.3,-2.1M376.3,665.7l-1.9,-4.2M388.2,660.4l-1.4,-2.5M255.5,663.1l-1.6,-10.5M279.8,665.2l0.4,-4.7M278.9,665.2l-1.6,-8.4M315.6,663.7l-1.5,-3.7M330.2,657.2l-1.5,-2.4M306.4,665.2l-0.4,-8.3M414.3,665.2l-1.1,-7.1M404.6,666.0l-1.8,-5.8M437.3,664.7l-1.8,-4.9M252.8,657.1l0.4,-8.1M257.8,665.3l-1.4,-6.5M376.5,659.6l-1.2,-3.5M426.0,658.0l-1.4,-2.9M396.2,663.8l-1.4,-4.0M237.9,666.3l-1.8,-8.6M389.1,665.3l1.8,-2.7M274.3,661.4l1.9,-6.8M350.7,664.4l-0.9,-7.1M345.8,661.6l-1.2,-4.3M273.2,666.9l-1.4,-12.2M476.5,660.4l-0.1,-7.3M348.7,661.3l0.1,-2.2M295.1,666.2l-0.9,-8.9M438.1,662.8l0.9,-5.2M411.9,659.2l1.0,-6.5M419.0,664.4l1.9,-2.9M411.1,666.2l-0.8,-3.2M448.8,667.0l-1.4,-5.5M303.6,662.4l-0.6,-2.1M371.8,666.3l1.6,-6.8M283.5,665.7l-1.0,-4.4M394.2,659.4l0.8,-1.7M248.8,663.4l0.0,-3.1M453.2,661.2l1.6,-2.7M457.7,661.7l-1.0,-5.7M237.8,659.2l1.1,-8.6M268.5,658.4l-1.0,-5.3M319.0,664.5l1.0,-4.6M393.1,666.1l1.9,-4.9M324.4,662.5l-1.2,-3.4M319.1,665.5l-0.2,-8.3M319.3,660.3l-0.2,-6.0M476.3,663.9l0.3,-4.5M346.9,666.6l1.2,-3.3M302.4,660.9l-1.0,-2.3M311.1,659.6l-1.5,-6.4M307.9,662.4l0.3,-5.7M275.5,659.6l2.0,-10.5M274.3,657.9l2.0,-11.7M331.6,666.6l1.6,-6.2M243.4,657.2l-0.1,-11.2M259.4,664.7l-1.2,-2.0M414.8,664.4l0.4,-4.5M378.8,659.6l0.5,-4.5M290.3,664.9l0.5,-12.1M273.5,659.8l-0.2,-8.5M329.5,657.2l-0.5,-4.7M260.9,666.9l1.9,-10.5M293.6,663.8l-1.0,-9.9M378.7,664.2l0.2,-6.1M295.0,659.6l0.0,-5.5M335.3,659.1l2.0,-2.4M320.4,665.9l-1.3,-8.3M278.9,659.3l-1.1,-2.0M383.7,664.0l0.1,-2.6M390.5,664.2l1.0,-5.4M254.3,658.3l-0.2,-10.0M406.5,664.3l0.8,-5.9M337.1,666.0l-0.1,-6.7M435.0,660.4l0.4,-3.5M473.2,658.9l-1.6,-4.0M392.3,661.8l-0.6,-4.3M322.9,662.8l-0.1,-3.1M269.0,662.1l-0.4,-7.5M310.2,665.0l0.1,-3.6M469.5,660.7l0.7,-4.9M354.8,664.8l-1.1,-8.2M356.1,661.7l0.5,-5.2M280.0,659.8l-0.3,-4.7M310.1,660.0l0.5,-8.6M310.4,658.0l0.4,-6.4M372.9,657.5l1.2,-6.2M371.5,663.7l-0.5,-4.5M296.7,664.6l0.2,-10.2M358.0,659.9l-1.8,-8.8M371.4,660.1l1.9,-7.6M376.3,664.2l2.0,-3.4M343.6,665.7l-0.7,-2.2M404.0,658.7l-0.7,-1.7M403.6,665.6l0.4,-2.7M446.0,664.6l-0.0,-5.2M288.8,659.8l-0.8,-8.2M405.0,659.5l-1.2,-5.1M401.1,665.8l-0.3,-6.6M460.1,658.4l-0.9,-4.7M328.4,657.6l0.4,-4.5M416.8,661.4l0.7,-6.8M414.5,665.4l1.1,-3.6M351.1,659.9l0.8,-6.7M245.0,664.1l-1.9,-12.5M464.7,661.3l-0.4,-8.5M344.5,663.6l-1.1,-4.1M393.9,660.4l-0.8,-1.7M452.6,664.4l0.0,-2.3M380.0,658.7l1.9,-7.8M394.2,664.9l-1.0,-3.9M398.7,665.7l-1.4,-5.7M477.4,666.1l-1.1,-6.8M275.2,658.2l0.2,-10.6M475.2,658.7l-0.9,-4.5M441.4,664.7l-0.0,-5.7M299.0,661.0l0.8,-3.3M381.2,662.4l-1.5,-6.5M387.1,658.1l0.6,-3.0M358.5,665.7l-0.6,-3.6M325.6,660.0l-0.7,-6.7M331.0,664.9l0.6,-2.5M354.4,661.1l-1.3,-5.1M264.7,664.2l-1.0,-5.6M282.5,663.3l0.4,-9.7M239.0,661.4l-1.3,-6.6M415.4,661.0l-0.0,-6.3M292.1,665.7l-0.6,-2.6M321.9,658.1l-0.8,-6.5M463.9,666.1l-1.2,-2.3M396.4,664.1l-0.7,-2.9M474.5,666.4l0.8,-4.5M470.8,663.6l1.7,-4.9M375.7,663.8l-1.8,-8.3M259.6,657.7l1.9,-5.0M408.5,660.6l-0.2,-5.0M352.3,660.5l1.0,-8.5M247.3,663.1l-0.5,-12.3M264.4,657.5l-0.5,-7.9M367.4,663.8l0.4,-5.0M379.1,662.7l-1.2,-5.6M299.6,663.7l-1.6,-12.3M245.8,661.5l1.5,-12.4M287.2,663.1l1.2,-2.8M249.7,666.4l-0.8,-5.9M316.9,658.1l-1.2,-4.5M241.0,661.7l1.0,-11.2M366.0,658.2l-1.0,-5.2M346.1,665.8l0.1,-3.4M347.8,661.4l1.7,-2.5M452.0,659.2l-0.2,-6.4M443.4,660.1l1.9,-1.9M321.5,657.4l-0.7,-3.5M436.9,666.7l-1.5,-3.1M261.8,666.9l-1.5,-7.2M308.8,662.1l0.1,-6.4M422.6,661.5l0.7,-6.3M381.4,658.0l-0.9,-3.4M447.1,665.7l0.7,-5.5M266.5,657.2l-0.2,-2.9M303.9,666.9l0.5,-2.7M308.6,658.8l1.3,-7.7M350.1,661.8l0.4,-2.8M416.2,665.9l1.2,-6.2M280.5,666.2l-1.1,-3.0M366.6,664.1l0.5,-6.5M408.0,661.0l-0.9,-1.8M374.8,664.2l0.2,-4.8M441.8,663.2l-0.4,-4.3M258.3,660.7l0.0,-12.7M346.2,663.6l-0.2,-3.6M292.9,662.3l1.2,-7.6M418.9,660.6l0.3,-7.1M328.2,658.6l-0.6,-2.1M383.2,659.7l-0.1,-2.3M264.5,659.2l0.9,-7.5M316.1,663.9l-1.4,-4.2M427.8,663.5l1.0,-5.3M358.5,657.7l0.2,-3.0M394.0,657.4l1.7,-5.7M380.6,665.8l1.0,-4.3M239.3,662.3l1.2,-10.2M458.9,661.1l1.0,-1.9M474.5,666.4l-1.9,-8.0M400.2,666.2l0.5,-3.3M378.3,660.8l-1.6,-8.4M275.1,664.5l-0.1,-10.4M446.0,658.9l-1.8,-3.0M438.1,660.0l-0.1,-5.0M366.0,659.7l1.2,-2.9M341.9,660.5l-1.8,-5.8M415.6,660.4l-0.9,-3.4M243.7,664.3l1.2,-9.3M348.7,665.6l0.1,-4.8M432.6,660.0l-0.6,-4.2M246.6,666.7l1.1,-11.3M236.0,666.1l1.6,-3.4M323.7,657.2l-1.9,-7.3M434.9,658.3l-1.8,-6.2M263.7,663.9l0.9,-8.7M263.8,662.6l1.2,-11.4M441.3,664.0l0.0,-6.2M349.1,663.0l-1.3,-7.7M300.1,665.3l-1.5,-3.7M428.5,666.8l-1.8,-2.3M357.7,662.7l0.5,-6.6M351.9,658.0l-0.1,-4.5M475.0,662.0l0.6,-6.5M384.8,663.7l-1.1,-2.2M282.5,661.3l1.6,-5.3M256.0,657.6l-1.7,-10.2M245.2,659.6l0.0,-6.3M377.3,664.5l-1.0,-8.5M343.7,660.8l0.2,-3.3M441.3,659.2l-1.7,-2.5M331.4,667.0l-1.5,-6.5M470.5,659.1l0.4,-5.1M471.2,665.7l1.8,-4.4M378.4,665.2l0.5,-4.2M410.6,666.9l0.4,-6.3M252.6,664.2l1.7,-3.4M466.3,665.7l0.4,-2.7M388.6,664.8l-1.5,-6.4M281.5,657.0l-0.1,-12.8M379.1,665.7l-0.7,-3.3M392.6,660.4l-0.4,-5.8M375.8,662.5l1.9,-4.7M434.8,659.8l0.4,-4.7M289.9,658.6l0.4,-6.6M437.8,662.5l-0.2,-4.4M242.6,660.1l0.6,-10.5M253.6,665.9l1.4,-11.7M418.1,660.3l-0.5,-3.1M335.2,657.5l0.7,-3.4M440.3,657.7l-1.0,-2.6M435.5,661.8l0.5,-3.2M412.1,662.8l1.2,-4.9M367.9,663.4l1.5,-5.0M461.1,662.6l1.5,-6.3M261.5,660.5l0.3,-5.7M423.5,662.9l1.1,-4.7M321.0,663.7l-0.1,-7.4" stroke="#111" stroke-width="0.9" fill="none"/>
<path d="M429.1,668.3l0.4,-3.2M430.4,668.3l0.2,-2.5M479.7,669.9l-0.1,-1.0M480.9,669.9l0.3,-1.6M339.6,679.2l0.4,-1.5M340.9,679.2l-0.3,-3.7M342.6,679.2l0.3,-3.9M461.5,675.0l1.1,-3.2M434.4,680.0l0.6,-1.7M435.9,680.0l-0.2,-1.5M460.6,681.7l-0.7,-3.1M462.2,681.7l0.1,-2.3M470.3,684.4l0.6,-3.4M471.6,684.4l0.7,-3.8M472.0,684.4l0.2,-2.6M474.8,684.4l-0.8,-2.7M259.1,672.8l-0.3,-1.4M476.8,684.6l-0.3,-1.4M350.6,671.2l-0.4,-1.2M351.5,671.2l-0.4,-3.1M352.7,671.2l-0.0,-1.2M354.1,671.2l0.2,-3.4M278.0,668.0l-0.4,-2.1M279.2,668.0l0.3,-2.7M279.9,668.0l-0.6,-1.9M458.6,674.5l-0.3,-1.5M490.3,672.5l-0.2,-1.9M491.7,672.5l-0.4,-2.6M492.9,672.5l-0.4,-3.0M493.2,672.5l-0.9,-3.3M488.8,677.6l0.6,-3.2M490.3,677.6l0.5,-2.8M384.4,680.7l0.6,-1.6M385.3,680.7l-0.2,-1.3M368.8,670.5l-0.1,-3.1M369.8,670.5l0.1,-1.0M371.1,670.5l0.6,-2.9M373.6,670.5l-0.5,-3.6M379.5,676.9l1.2,-3.4M380.8,676.9l-0.8,-2.6M382.1,676.9l0.8,-3.3M382.9,676.9l-0.5,-1.9M394.7,668.7l0.2,-2.0M396.3,668.7l0.8,-3.4M397.3,668.7l0.1,-2.5M464.1,683.2l0.0,-2.9M465.4,683.2l0.2,-1.2M355.9,683.9l0.0,-2.7M357.1,683.9l-0.6,-1.9M357.6,683.9l0.7,-3.5M360.5,683.9l-0.3,-2.7M443.5,674.6l-0.3,-1.2M444.3,674.6l0.0,-2.4M446.1,674.6l-0.5,-2.6M392.0,673.1l0.2,-1.6M393.3,673.1l-0.1,-2.0M394.1,673.1l0.0,-3.2M460.1,677.2l-0.0,-1.9M461.0,677.2l0.1,-2.7M461.8,677.2l0.6,-2.6M295.6,683.9l0.2,-1.1M323.6,679.8l0.4,-3.6M263.8,682.0l0.9,-2.8M264.6,682.0l1.0,-2.8M266.6,682.0l0.0,-2.3M266.2,675.7l0.6,-2.8M267.7,675.7l-0.9,-3.8M383.2,681.2l0.9,-3.4M384.4,681.2l-0.1,-1.6M386.3,681.2l0.3,-2.6M386.1,681.2l-0.3,-1.1M327.5,674.0l0.3,-3.8M264.3,676.3l0.4,-2.4M300.2,675.1l-0.4,-1.5M409.6,681.1l0.1,-3.9M410.7,681.1l0.8,-3.0M412.0,681.1l0.8,-3.5M413.5,681.1l0.1,-2.0M489.2,668.5l-0.4,-3.6M490.1,668.5l-0.6,-3.4M492.4,668.5l0.2,-1.1M493.3,668.5l0.2,-3.1M428.1,684.9l0.5,-1.4M429.6,684.9l0.6,-2.1M334.0,675.1l-0.3,-3.5M335.0,675.1l0.2,-3.6M319.7,681.2l0.1,-1.3M321.3,681.2l-0.1,-2.3M322.2,681.2l-0.8,-3.1M323.5,681.2l-0.5,-2.9M244.3,680.5l1.1,-3.6M245.3,679.2l-0.4,-3.2M246.3,679.2l0.2,-3.4M247.4,679.2l0.2,-1.3M248.8,679.2l0.9,-3.7M287.2,668.4l-0.9,-3.0M328.8,676.0l-0.7,-2.6M330.2,676.0l-0.3,-3.1M331.1,676.0l0.6,-3.5M332.5,676.0l0.7,-2.0M353.3,669.1l0.9,-2.4M354.7,669.1l-0.3,-1.1M355.6,669.1l-1.1,-3.4M356.6,669.1l0.3,-3.8M451.4,670.5l-0.1,-2.4M402.0,674.1l-0.9,-3.4M393.0,682.8l-0.4,-1.7M393.9,682.8l-0.4,-1.2M394.8,682.8l0.4,-2.3M396.4,682.8l-0.7,-3.2M281.9,670.6l-1.0,-3.0M289.5,676.9l-0.2,-3.2M290.5,676.9l0.6,-1.8M292.6,676.9l-0.2,-1.5M412.4,673.5l0.1,-3.2M388.2,671.4l0.9,-2.7M389.6,671.4l0.0,-1.5M390.0,671.4l-0.5,-4.0M449.4,680.1l0.6,-2.2M450.9,680.1l-0.3,-1.9M393.2,677.7l-0.6,-1.7M394.7,677.7l-0.1,-1.3M396.2,677.7l-0.5,-3.8M373.1,677.4l0.3,-2.7M374.0,677.4l0.9,-3.4M375.3,677.4l-0.8,-3.2M429.8,668.5l0.4,-1.6M430.9,668.5l0.8,-2.5M481.7,680.6l-0.3,-2.9M482.8,680.6l0.5,-2.9M484.6,680.6l0.2,-2.3M486.4,680.6l0.3,-2.0M247.8,681.9l0.5,-2.6M396.8,673.8l-0.1,-2.8M398.3,673.8l0.5,-1.5M265.4,671.1l-0.4,-3.9M266.4,671.1l0.3,-1.5M267.3,671.1l0.5,-1.6M318.3,682.6l-0.3,-4.0M319.3,682.6l0.7,-2.8M320.0,682.6l-0.5,-2.0M382.3,672.4l-0.2,-1.7M310.5,668.1l-0.1,-1.9M312.0,668.1l-0.5,-1.4M250.0,680.3l0.1,-3.7M250.9,680.3l0.4,-2.7" stroke="#1a1a1a" stroke-width="0.9" fill="none" stroke-linecap="round"/>
<path d="M298.3,678.8a0.5,0.5 0 1,0 1.0,0a0.5,0.5 0 1,0 -1.0,0M362.8,674.7a0.6,0.6 0 1,0 1.1,0a0.6,0.6 0 1,0 -1.1,0M267.5,668.2a0.5,0.5 0 1,0 1.0,0a0.5,0.5 0 1,0 -1.0,0M436.6,672.6a0.6,0.6 0 1,0 1.2,0a0.6,0.6 0 1,0 -1.2,0M307.8,671.1a0.5,0.5 0 1,0 1.0,0a0.5,0.5 0 1,0 -1.0,0M379.4,666.6a0.3,0.3 0 1,0 0.6,0a0.3,0.3 0 1,0 -0.6,0M259.9,673.0a0.3,0.3 0 1,0 0.6,0a0.3,0.3 0 1,0 -0.6,0M427.6,678.8a0.5,0.5 0 1,0 0.9,0a0.5,0.5 0 1,0 -0.9,0M299.7,669.1a0.6,0.6 0 1,0 1.2,0a0.6,0.6 0 1,0 -1.2,0M349.6,671.9a0.4,0.4 0 1,0 0.9,0a0.4,0.4 0 1,0 -0.9,0M373.0,683.9a0.5,0.5 0 1,0 0.9,0a0.5,0.5 0 1,0 -0.9,0M300.2,667.6a0.6,0.6 0 1,0 1.1,0a0.6,0.6 0 1,0 -1.1,0M442.8,680.1a0.4,0.4 0 1,0 0.7,0a0.4,0.4 0 1,0 -0.7,0M462.8,675.8a0.5,0.5 0 1,0 1.0,0a0.5,0.5 0 1,0 -1.0,0M239.1,676.2a0.5,0.5 0 1,0 1.1,0a0.5,0.5 0 1,0 -1.1,0M442.1,681.9a0.4,0.4 0 1,0 0.9,0a0.4,0.4 0 1,0 -0.9,0M295.7,683.3a0.6,0.6 0 1,0 1.1,0a0.6,0.6 0 1,0 -1.1,0M473.9,676.5a0.6,0.6 0 1,0 1.1,0a0.6,0.6 0 1,0 -1.1,0M234.0,683.9a0.4,0.4 0 1,0 0.7,0a0.4,0.4 0 1,0 -0.7,0M282.0,674.6a0.5,0.5 0 1,0 1.0,0a0.5,0.5 0 1,0 -1.0,0M299.7,669.9a0.6,0.6 0 1,0 1.1,0a0.6,0.6 0 1,0 -1.1,0M380.8,674.8a0.5,0.5 0 1,0 1.1,0a0.5,0.5 0 1,0 -1.1,0M401.8,684.3a0.4,0.4 0 1,0 0.8,0a0.4,0.4 0 1,0 -0.8,0M270.3,667.4a0.5,0.5 0 1,0 1.0,0a0.5,0.5 0 1,0 -1.0,0M314.8,667.0a0.5,0.5 0 1,0 0.9,0a0.5,0.5 0 1,0 -0.9,0M388.9,684.3a0.4,0.4 0 1,0 0.8,0a0.4,0.4 0 1,0 -0.8,0M321.9,684.3a0.5,0.5 0 1,0 1.0,0a0.5,0.5 0 1,0 -1.0,0M269.5,673.5a0.4,0.4 0 1,0 0.7,0a0.4,0.4 0 1,0 -0.7,0M416.7,679.5a0.4,0.4 0 1,0 0.9,0a0.4,0.4 0 1,0 -0.9,0M242.3,676.2a0.4,0.4 0 1,0 0.7,0a0.4,0.4 0 1,0 -0.7,0M365.2,670.5a0.3,0.3 0 1,0 0.6,0a0.3,0.3 0 1,0 -0.6,0M463.1,678.5a0.5,0.5 0 1,0 1.1,0a0.5,0.5 0 1,0 -1.1,0M394.8,666.7a0.6,0.6 0 1,0 1.2,0a0.6,0.6 0 1,0 -1.2,0M295.2,666.6a0.4,0.4 0 1,0 0.8,0a0.4,0.4 0 1,0 -0.8,0M253.1,674.0a0.5,0.5 0 1,0 1.0,0a0.5,0.5 0 1,0 -1.0,0M363.6,675.6a0.6,0.6 0 1,0 1.2,0a0.6,0.6 0 1,0 -1.2,0M354.4,685.0a0.5,0.5 0 1,0 1.0,0a0.5,0.5 0 1,0 -1.0,0M339.3,683.1a0.4,0.4 0 1,0 0.7,0a0.4,0.4 0 1,0 -0.7,0M283.3,684.1a0.4,0.4 0 1,0 0.8,0a0.4,0.4 0 1,0 -0.8,0M351.3,679.3a0.6,0.6 0 1,0 1.2,0a0.6,0.6 0 1,0 -1.2,0M375.6,685.2a0.5,0.5 0 1,0 1.0,0a0.5,0.5 0 1,0 -1.0,0M395.8,678.4a0.4,0.4 0 1,0 0.8,0a0.4,0.4 0 1,0 -0.8,0M460.4,670.5a0.6,0.6 0 1,0 1.1,0a0.6,0.6 0 1,0 -1.1,0M421.7,673.0a0.3,0.3 0 1,0 0.7,0a0.3,0.3 0 1,0 -0.7,0M437.0,679.5a0.6,0.6 0 1,0 1.1,0a0.6,0.6 0 1,0 -1.1,0M278.7,669.4a0.4,0.4 0 1,0 0.7,0a0.4,0.4 0 1,0 -0.7,0M364.1,681.1a0.4,0.4 0 1,0 0.8,0a0.4,0.4 0 1,0 -0.8,0M258.2,675.7a0.4,0.4 0 1,0 0.9,0a0.4,0.4 0 1,0 -0.9,0M445.6,685.8a0.5,0.5 0 1,0 0.9,0a0.5,0.5 0 1,0 -0.9,0M303.1,669.9a0.3,0.3 0 1,0 0.6,0a0.3,0.3 0 1,0 -0.6,0M237.1,669.6a0.4,0.4 0 1,0 0.7,0a0.4,0.4 0 1,0 -0.7,0M335.2,682.6a0.6,0.6 0 1,0 1.1,0a0.6,0.6 0 1,0 -1.1,0M452.9,678.8a0.6,0.6 0 1,0 1.2,0a0.6,0.6 0 1,0 -1.2,0M479.3,671.5a0.4,0.4 0 1,0 0.8,0a0.4,0.4 0 1,0 -0.8,0M487.6,685.8a0.4,0.4 0 1,0 0.8,0a0.4,0.4 0 1,0 -0.8,0M296.4,682.0a0.3,0.3 0 1,0 0.6,0a0.3,0.3 0 1,0 -0.6,0M486.1,670.2a0.5,0.5 0 1,0 1.1,0a0.5,0.5 0 1,0 -1.1,0M390.7,675.3a0.6,0.6 0 1,0 1.1,0a0.6,0.6 0 1,0 -1.1,0M294.8,680.2a0.4,0.4 0 1,0 0.7,0a0.4,0.4 0 1,0 -0.7,0M431.9,678.4a0.5,0.5 0 1,0 1.0,0a0.5,0.5 0 1,0 -1.0,0M438.8,675.2a0.5,0.5 0 1,0 1.0,0a0.5,0.5 0 1,0 -1.0,0M444.5,684.2a0.5,0.5 0 1,0 1.0,0a0.5,0.5 0 1,0 -1.0,0M245.4,675.5a0.6,0.6 0 1,0 1.1,0a0.6,0.6 0 1,0 -1.1,0M413.3,669.3a0.5,0.5 0 1,0 1.1,0a0.5,0.5 0 1,0 -1.1,0M426.4,668.3a0.3,0.3 0 1,0 0.7,0a0.3,0.3 0 1,0 -0.7,0M379.5,670.5a0.3,0.3 0 1,0 0.6,0a0.3,0.3 0 1,0 -0.6,0M453.3,684.5a0.6,0.6 0 1,0 1.2,0a0.6,0.6 0 1,0 -1.2,0M295.5,685.2a0.3,0.3 0 1,0 0.6,0a0.3,0.3 0 1,0 -0.6,0M430.8,673.0a0.5,0.5 0 1,0 0.9,0a0.5,0.5 0 1,0 -0.9,0M487.2,680.6a0.4,0.4 0 1,0 0.8,0a0.4,0.4 0 1,0 -0.8,0M425.1,674.1a0.5,0.5 0 1,0 0.9,0a0.5,0.5 0 1,0 -0.9,0M245.7,685.7a0.3,0.3 0 1,0 0.6,0a0.3,0.3 0 1,0 -0.6,0M231.7,670.9a0.5,0.5 0 1,0 1.0,0a0.5,0.5 0 1,0 -1.0,0M425.5,668.3a0.4,0.4 0 1,0 0.8,0a0.4,0.4 0 1,0 -0.8,0M364.7,684.5a0.4,0.4 0 1,0 0.7,0a0.4,0.4 0 1,0 -0.7,0M272.2,672.7a0.4,0.4 0 1,0 0.7,0a0.4,0.4 0 1,0 -0.7,0M478.8,684.4a0.3,0.3 0 1,0 0.6,0a0.3,0.3 0 1,0 -0.6,0M405.4,673.1a0.3,0.3 0 1,0 0.7,0a0.3,0.3 0 1,0 -0.7,0M450.3,671.7a0.3,0.3 0 1,0 0.6,0a0.3,0.3 0 1,0 -0.6,0M295.6,682.2a0.3,0.3 0 1,0 0.7,0a0.3,0.3 0 1,0 -0.7,0M491.3,677.5a0.5,0.5 0 1,0 1.1,0a0.5,0.5 0 1,0 -1.1,0M441.9,681.2a0.5,0.5 0 1,0 1.0,0a0.5,0.5 0 1,0 -1.0,0M269.2,683.4a0.3,0.3 0 1,0 0.6,0a0.3,0.3 0 1,0 -0.6,0M324.4,684.8a0.5,0.5 0 1,0 1.1,0a0.5,0.5 0 1,0 -1.1,0M300.4,685.4a0.5,0.5 0 1,0 1.0,0a0.5,0.5 0 1,0 -1.0,0M249.6,677.0a0.4,0.4 0 1,0 0.8,0a0.4,0.4 0 1,0 -0.8,0M468.0,667.7a0.5,0.5 0 1,0 0.9,0a0.5,0.5 0 1,0 -0.9,0M288.8,678.7a0.3,0.3 0 1,0 0.7,0a0.3,0.3 0 1,0 -0.7,0M276.6,682.5a0.5,0.5 0 1,0 0.9,0a0.5,0.5 0 1,0 -0.9,0M345.7,667.0a0.3,0.3 0 1,0 0.6,0a0.3,0.3 0 1,0 -0.6,0" fill="#222"/>
</g>
<g clip-path="url(#c6)">
<polygon points="531.6,552.8 669.3,532.0 800.0,590.5 800.0,690.0 529.0,690.0 529.0,553.0" fill="#a9c1e6"/>
<path d="M529,553 L669.3,532 L800,590.5" stroke="#2f68b8" stroke-width="1.8" fill="none"/>
<path d="M529,557 L668,536.5 L800,595" stroke="#5d8ccc" stroke-width="0.7" fill="none"/>
<path d="M669.3,520 L669.3,532" stroke="#2f68b8" stroke-width="1" fill="none"/>
<path d="M645,610 L685,600 M710,620 L760,605 M715,628 L770,612 M718,636 L775,620 M720,645 L770,630 M545,640 L560,636 M545,646 L562,642" stroke="#6e91c6" stroke-width="0.6" fill="none"/>
<path fill="#f4f6fa" stroke="#222" stroke-width="0.9" d="M599,563 C603,558 612,559 618,560 C624,561 623,565 616,565.5 C608,566 598,567 599,563Z"/>
<path fill="#f4f6fa" stroke="#222" stroke-width="0.9" d="M531,612 C536,606 548,607 552,607 C556,611 560,612 557,616 C550,619 540,619 531,619Z"/>
<path fill="#f4f6fa" stroke="#222" stroke-width="0.9" d="M574,611 C580,607 592,607 598,609 C600,612 590,614 582,613 C577,614 572,613 574,611Z"/>
<path fill="#f4f6fa" stroke="#222" stroke-width="0.9" d="M635,633 C638,628 645,630 650,627 C655,624 662,626 668,625 C672,625 671,629 668,630 C672,631 677,633 674,635 C665,636 655,635 645,637 C639,638 633,637 635,633Z"/>
<path fill="#f4f6fa" stroke="#222" stroke-width="0.9" d="M624,630 C627,628 634,628 637,630 C636,633 628,633 624,630Z"/>
<path fill="#f4f6fa" stroke="#222" stroke-width="0.9" d="M652,639 C656,636 665,636 668,638 C665,641 656,641 652,639Z"/>
<path d="M550.5,570 L552,604 C553,610 590,610 591,604 L592.5,570Z" fill="#fff" stroke="#111" stroke-width="1.2"/>
<ellipse cx="571.5" cy="569" rx="21" ry="6" fill="#fff" stroke="#111" stroke-width="1.3"/>
<ellipse cx="571.5" cy="569" rx="17" ry="4" fill="#d8d8d8" stroke="#222" stroke-width="0.8"/>
<path d="M551,583 C560,592 585,592 592,583" stroke="#111" stroke-width="1.4" fill="none"/>
<path d="M556,572 L557,580 M581,573 L583,590 M587,572 L587,578 M566,574 L567,582" stroke="#444" stroke-width="1.3"/>
<path d="M552,598 C560,604 585,604 591,598" stroke="#444" stroke-width="0.7" fill="none"/>
<path d="M553,622 L597,613 Q600,612.5 602,615 L640,655 Q642,659 638,661 L597,675 Q593,676.5 591,674 L551,628 Q549,624 553,622Z" fill="#fff" stroke="#111" stroke-width="1.8" stroke-linejoin="round"/>
<polygon points="556,627 597,618 600,622 561,631" fill="#555"/>
<polygon points="556,627 561,631 597,668 594,672" fill="#444"/>
<polygon points="597,618 600,622 634,656 637,657" fill="#777"/>
<path d="M558.0,626.0l1,4M562.0,625.1l1,4M566.0,624.2l1,4M570.0,623.3l1,4M574.0,622.4l1,4M578.0,621.5l1,4M582.0,620.6l1,4M586.0,619.7l1,4M590.0,618.8l1,4M594.0,617.9l1,4M558.0,630.0l4,-1M561.6,634.1l4,-1M565.2,638.2l4,-1M568.8,642.3l4,-1M572.4,646.4l4,-1M576.0,650.5l4,-1M579.6,654.6l4,-1M583.2,658.7l4,-1M586.8,662.8l4,-1M590.4,666.9l4,-1" stroke="#eee" stroke-width="0.6"/>
<polygon points="561,631 600,622 614,638 576,649" fill="#f4f4f4" stroke="#222" stroke-width="0.8"/>
<path d="M572,636 L580,628 M584,636 L592,628" stroke="#888" stroke-width="0.6"/>
<path d="M579.0,655.0L614.0,645.0M581.3,656.8L616.3,646.7M583.6,658.6L618.6,648.4M585.9,660.4L620.9,650.1M588.2,662.2L623.2,651.8M590.5,664.0L625.5,653.5M592.8,665.8L627.8,655.2M595.1,667.6L630.1,656.9" stroke="#222" stroke-width="1"/>
<polygon points="594,672 597,668 636,658 638,661" fill="#333"/>
<path d="M575,652 L616,641 Q620,641 620,645 L621,648 Q621,651 617,652 L578,662 Q574,662 574,658Z" fill="#fff" stroke="#111" stroke-width="1.3"/>
<path d="M579,654 l3,4 M585,652 l4,5 M592,651 l3,4 M598,649 l4,5 M605,647 l3,4 M610,646 l3,4" stroke="#111" stroke-width="1.3"/>
<path d="M620,648 L623,652 L611,660" stroke="#111" stroke-width="2.6" fill="none"/>
<path d="M620,648 L623,652 L611,660" stroke="#fff" stroke-width="0.9" fill="none"/>
<path d="M611,661 L629,681" stroke="#111" stroke-width="6.5" stroke-linecap="round"/>
<path d="M611,661 L629,681" stroke="#d0d0d0" stroke-width="3.6" stroke-linecap="round"/>
<polygon points="699,521 707,521 711,577 703,577" fill="#ddd" stroke="#111" stroke-width="1.1"/>
<path d="M701,525 L706,575 M704,523 L709,572" stroke="#333" stroke-width="0.6"/>
<polygon points="706,600 722,600 713,634 708,633" fill="#eee" stroke="#111" stroke-width="1.1"/>
<polygon points="758,590 768,589 789,620 780,624" fill="#e4e4e4" stroke="#111" stroke-width="1.1"/>
<path d="M764,592 L784,620 M768,592 L786,616" stroke="#333" stroke-width="0.6"/>
<polygon points="638,520 688,520 689,529 639,529" fill="#fff" stroke="#111" stroke-width="1.3" stroke-linejoin="round"/>
<path d="M640,525 L688,525" stroke="#111" stroke-width="0.8"/>
<polygon points="634,563 688,555 688,565 634,573.5" fill="#fff" stroke="#111" stroke-width="1.3" stroke-linejoin="round"/>
<path d="M636,567 L687,559 M640,566 L640,572 M680,558 L680,564" stroke="#111" stroke-width="0.8"/>
<polygon points="700,534 761,526.5 762,537 702,545.5" fill="#fff" stroke="#111" stroke-width="1.3" stroke-linejoin="round"/>
<path d="M702,538 L761,530.5 M704,536 L704,544 M708,535 L708,543" stroke="#111" stroke-width="0.7"/>
<polygon points="705,585.5 773,576 777,589.5 707,599" fill="#fff" stroke="#111" stroke-width="1.3" stroke-linejoin="round"/>
<path d="M706,589 L774,580 M706,592 L775,583 M710,590 L710,598 M714,589 L714,597" stroke="#111" stroke-width="0.8"/>
<polygon points="759,520 769,520 792,627 781,626" fill="#fff" stroke="#111" stroke-width="1.3" stroke-linejoin="round"/>
<path d="M763,530 L785,622 M766,535 L770,555 M768,545 L773,565" stroke="#222" stroke-width="0.7"/>
<polygon points="775,622 788,621 793,628 792,634 778,633" fill="#fff" stroke="#111" stroke-width="1.3" stroke-linejoin="round"/>
<polygon points="632,520 641.5,520 629,602 619.5,601" fill="#fff" stroke="#111" stroke-width="1.3" stroke-linejoin="round"/>
<polygon points="615,600 629,599 632,606 630,610 617,609" fill="#fff" stroke="#111" stroke-width="1.3" stroke-linejoin="round"/>
<polygon points="685.5,520 696,520 709.5,643 699,643" fill="#fff" stroke="#111" stroke-width="1.3" stroke-linejoin="round"/>
<path d="M690,525 L702,640" stroke="#222" stroke-width="0.6"/>
<polygon points="692,641 709,640 714,648 713,652.5 696,652.5" fill="#fff" stroke="#111" stroke-width="1.3" stroke-linejoin="round"/>
<circle cx="690.5" cy="542" r="1" fill="#111"/><circle cx="696" cy="597" r="1" fill="#111"/><circle cx="634" cy="525.5" r="0.9" fill="#111"/><circle cx="628" cy="567" r="0.9" fill="#111"/>
</g>
<g clip-path="url(#c7)">
<path d="M422.6,907.1l0.3,-2.9M440.8,891.9l0.1,-1.2M442.0,891.9l0.2,-1.2M446.8,888.3l-0.1,-2.6M447.7,888.3l-0.3,-1.7M448.8,888.3l-0.7,-2.5M450.2,888.3l-0.2,-2.0M412.4,913.2l0.1,-1.1M413.5,913.2l0.6,-2.1M414.9,913.2l0.2,-2.4M417.1,913.2l0.5,-1.9M428.8,897.9l-0.3,-2.4M454.5,885.4l-0.3,-2.8M455.7,885.4l0.1,-1.7M457.3,885.4l-0.2,-1.4M458.1,885.4l0.5,-1.7M457.6,916.2l-0.7,-2.8M458.8,916.2l-0.3,-1.4M459.2,916.2l-0.4,-2.1M461.4,916.2l-0.2,-1.8M488.2,899.4l0.5,-1.8M454.4,891.9l-0.5,-1.7M455.4,891.9l-0.3,-1.1M456.1,891.9l-0.1,-1.3M457.0,891.9l-0.2,-1.0M478.4,895.0l0.7,-2.2M479.6,895.0l-0.5,-1.9M491.3,887.4l-0.3,-1.1M492.2,887.4l0.3,-1.5M493.7,887.4l0.3,-1.0M491.3,909.2l0.6,-2.0M492.5,909.2l0.0,-1.4M494.2,909.2l0.2,-2.3M431.1,901.7l-0.1,-2.6M470.3,901.2l-0.3,-2.9M471.2,901.2l-0.3,-1.4M473.2,901.2l0.6,-2.2M429.5,897.2l-0.7,-2.6M480.2,884.7l0.4,-1.1M481.1,884.7l0.3,-1.9M481.9,884.7l0.4,-1.2M443.3,886.5l0.1,-2.2M444.5,886.5l-0.7,-2.8M464.7,878.6l-0.8,-2.5M466.1,878.6l0.3,-2.8M467.7,878.6l0.5,-2.0M468.3,878.6l-0.3,-1.2M478.2,904.3l-0.6,-2.5M466.3,910.3l-0.2,-1.5M433.0,892.0l0.1,-1.9M433.5,899.5l0.4,-2.0M435.0,899.5l0.0,-1.5M436.5,899.5l0.8,-2.7M436.9,899.5l-0.1,-1.4M453.2,884.4l0.5,-2.3M454.6,884.4l0.2,-1.3M490.0,872.5l-0.0,-1.8M409.5,901.2l-0.0,-1.7M406.6,914.8l0.6,-2.9M422.4,912.0l0.0,-1.8M423.4,912.0l-0.2,-2.0M425.4,912.0l-0.6,-2.5M421.8,912.2l0.2,-1.1M422.7,912.2l-0.5,-2.9M485.6,895.8l0.0,-1.6M486.6,895.8l-0.6,-1.6M428.9,913.3l0.2,-2.3M437.7,910.7l0.8,-2.2M439.0,910.7l0.4,-2.6M439.4,910.7l-0.2,-1.8M474.3,909.6l0.3,-2.2M475.1,909.6l-0.2,-1.4M477.5,909.6l-0.2,-1.7M479.4,872.4l-0.1,-1.0M480.6,872.4l-0.4,-2.0M442.6,890.2l0.3,-2.3M444.2,890.2l-0.2,-1.8M473.6,910.8l0.5,-2.4M475.0,910.8l0.0,-2.0M476.1,910.8l0.6,-2.5M477.6,910.8l0.4,-2.8M439.3,895.8l-0.7,-1.9M440.5,895.8l0.0,-2.5M461.7,915.6l-0.8,-2.6M463.0,915.6l-0.5,-1.5M463.9,915.6l0.1,-1.4M465.6,915.6l0.3,-2.3M430.2,915.4l0.3,-2.4M480.8,871.4l-1.0,-2.7M471.7,915.2l-0.2,-3.0M472.5,915.2l-0.8,-2.7M473.8,915.2l-0.4,-2.5M474.7,915.2l0.2,-2.2M431.7,909.9l-0.4,-1.0M432.7,909.9l-0.3,-1.9M434.7,909.9l-0.2,-1.7M436.2,909.9l0.2,-1.0M384.9,912.8l-0.4,-2.8M418.7,916.9l-0.1,-1.7M473.5,876.3l-0.2,-1.5M475.1,876.3l-0.1,-1.4M479.6,906.3l0.9,-2.7M481.0,906.3l-0.8,-2.3M482.3,906.3l0.3,-1.9M484.3,906.3l-0.5,-1.5M461.6,915.6l-0.3,-1.8M463.0,915.6l-0.6,-2.3M464.5,915.6l0.0,-1.2M411.3,903.3l-0.3,-1.2M412.3,903.3l-0.5,-1.6M414.3,903.3l0.1,-1.5M414.7,903.3l-0.2,-2.5M404.4,915.2l0.0,-2.4M405.9,915.2l-0.8,-2.6M417.7,896.8l0.7,-2.8M419.1,896.8l-0.3,-1.0M420.2,896.8l-0.1,-2.8M422.3,896.8l-0.1,-1.0M472.4,908.8l-0.4,-1.4M473.9,908.8l0.3,-2.0M475.2,908.8l0.3,-2.4M474.9,908.8l0.1,-1.9M467.0,873.3l-0.3,-2.3M427.1,914.7l-0.4,-1.9M428.2,914.7l0.4,-2.9M453.6,883.9l-0.1,-1.5M455.0,883.9l0.3,-2.0M455.2,883.9l-0.1,-1.7M406.2,908.2l0.5,-1.3M471.7,873.2l0.4,-1.5M473.2,873.2l0.2,-2.2M430.1,911.9l-0.7,-2.8M396.4,915.5l0.3,-1.8M397.5,915.5l0.3,-1.9M450.9,889.9l0.1,-1.1M451.8,889.9l-0.2,-1.7M453.1,889.9l-0.2,-1.0M455.6,889.9l-0.8,-2.8M471.9,906.9l0.2,-1.2M472.9,906.9l-0.1,-2.1M474.5,906.9l-0.0,-2.5M475.2,906.9l0.1,-1.5M411.5,914.4l0.2,-1.5M463.7,912.2l-0.2,-1.0M488.6,914.4l0.7,-2.5M489.4,914.4l-0.0,-1.3M491.3,914.4l-0.4,-2.8M493.1,914.4l-0.2,-1.3M427.1,904.7l-0.2,-2.0M420.6,897.0l-0.3,-2.1M421.6,897.0l0.9,-2.6M423.0,897.0l-0.3,-1.1M423.5,897.0l-0.1,-2.4M421.7,895.4l0.6,-2.4M422.7,895.4l0.3,-1.2M389.0,910.4l-0.1,-1.6M390.5,910.4l-0.4,-2.0M451.0,916.5l0.3,-1.0M478.7,873.3l0.4,-1.3M485.3,881.2l-0.3,-1.9M486.6,881.2l-0.8,-2.8M444.3,897.1l0.6,-2.6M445.2,897.1l0.1,-1.7M468.7,897.8l-0.6,-2.2M469.7,897.8l-0.2,-2.4M408.1,914.3l0.7,-2.4M409.6,914.3l0.2,-1.0M410.4,914.3l-0.2,-2.3M486.8,884.7l0.4,-1.8M487.7,884.7l-0.1,-2.8M449.4,911.9l0.6,-2.1M463.4,905.2l0.4,-1.6M464.7,905.2l-0.4,-2.8M458.3,899.2l0.6,-2.2M459.5,899.2l-0.5,-2.2M486.4,868.9l-0.2,-1.2M487.6,868.9l-0.9,-2.7M489.3,868.9l-0.8,-2.4M438.2,895.7l-0.3,-2.3M439.4,895.7l-0.2,-1.8M441.4,895.7l-0.5,-1.3M446.7,906.7l-0.2,-2.6M448.1,906.7l-0.2,-1.7M432.5,897.5l-0.7,-2.2M466.4,889.2l0.7,-2.4M405.7,906.2l0.4,-2.3M406.7,906.2l0.2,-2.7M482.2,886.0l0.6,-1.9M483.3,886.0l0.0,-1.5M484.1,886.0l-0.2,-1.0M486.1,898.7l0.3,-1.3M487.2,898.7l0.2,-2.1M488.6,898.7l0.1,-2.7M490.9,898.7l-0.8,-2.7M448.1,882.5l0.5,-1.4M449.2,882.5l0.3,-1.7M449.8,882.5l0.2,-1.3M471.7,874.5l0.4,-2.4M472.8,874.5l0.1,-1.6M474.0,874.5l-0.5,-1.6M415.4,907.2l0.4,-1.2M416.7,907.2l-0.4,-1.2M478.0,904.6l0.8,-2.5M479.3,904.6l0.7,-2.5M480.5,904.6l0.2,-2.2M480.4,904.6l-0.5,-1.9M446.0,897.4l-0.3,-1.3M447.4,897.4l0.2,-2.0M480.3,904.6l-0.1,-1.7M391.7,916.8l-0.5,-1.4M393.2,916.8l0.3,-2.5M394.2,916.8l-0.4,-2.4M424.1,904.9l0.5,-1.5M425.0,904.9l0.0,-1.2M426.0,904.9l0.7,-2.7M389.7,912.2l-0.3,-2.7M391.1,912.2l0.3,-2.8M452.5,915.8l0.0,-1.9M453.5,915.8l0.3,-1.0M454.7,915.8l0.6,-2.7M455.3,915.8l0.1,-2.2M491.2,899.9l0.1,-1.1M456.4,902.0l0.5,-2.7M488.4,890.4l0.5,-2.7M487.7,911.9l0.2,-2.6M489.5,888.7l-0.7,-2.1M490.6,888.7l0.4,-1.8M491.5,888.7l0.1,-2.4M464.5,915.7l-0.5,-1.6" stroke="#1a1a1a" stroke-width="0.9" fill="none" stroke-linecap="round"/>
<path d="M471.8,915.1a0.5,0.5 0 1,0 1.0,0a0.5,0.5 0 1,0 -1.0,0M488.2,889.4a0.5,0.5 0 1,0 1.0,0a0.5,0.5 0 1,0 -1.0,0M486.0,873.2a0.4,0.4 0 1,0 0.7,0a0.4,0.4 0 1,0 -0.7,0M485.9,903.7a0.5,0.5 0 1,0 0.9,0a0.5,0.5 0 1,0 -0.9,0M480.1,902.5a0.4,0.4 0 1,0 0.9,0a0.4,0.4 0 1,0 -0.9,0M449.7,881.2a0.4,0.4 0 1,0 0.8,0a0.4,0.4 0 1,0 -0.8,0M390.7,916.0a0.5,0.5 0 1,0 1.0,0a0.5,0.5 0 1,0 -1.0,0M486.5,867.2a0.5,0.5 0 1,0 1.0,0a0.5,0.5 0 1,0 -1.0,0M455.2,894.5a0.3,0.3 0 1,0 0.6,0a0.3,0.3 0 1,0 -0.6,0M441.5,889.7a0.6,0.6 0 1,0 1.2,0a0.6,0.6 0 1,0 -1.2,0M449.2,899.7a0.5,0.5 0 1,0 1.0,0a0.5,0.5 0 1,0 -1.0,0M471.9,895.2a0.6,0.6 0 1,0 1.1,0a0.6,0.6 0 1,0 -1.1,0M490.4,901.2a0.5,0.5 0 1,0 1.0,0a0.5,0.5 0 1,0 -1.0,0M487.9,874.7a0.6,0.6 0 1,0 1.3,0a0.6,0.6 0 1,0 -1.3,0M482.4,876.0a0.6,0.6 0 1,0 1.2,0a0.6,0.6 0 1,0 -1.2,0M475.6,884.9a0.4,0.4 0 1,0 0.8,0a0.4,0.4 0 1,0 -0.8,0M399.5,908.6a0.5,0.5 0 1,0 1.1,0a0.5,0.5 0 1,0 -1.1,0M442.2,896.9a0.6,0.6 0 1,0 1.2,0a0.6,0.6 0 1,0 -1.2,0M452.2,897.2a0.6,0.6 0 1,0 1.2,0a0.6,0.6 0 1,0 -1.2,0M449.2,893.3a0.4,0.4 0 1,0 0.8,0a0.4,0.4 0 1,0 -0.8,0M456.5,911.0a0.4,0.4 0 1,0 0.8,0a0.4,0.4 0 1,0 -0.8,0M419.3,900.6a0.4,0.4 0 1,0 0.7,0a0.4,0.4 0 1,0 -0.7,0M475.0,887.5a0.3,0.3 0 1,0 0.6,0a0.3,0.3 0 1,0 -0.6,0M475.9,889.5a0.5,0.5 0 1,0 1.1,0a0.5,0.5 0 1,0 -1.1,0M477.8,911.0a0.4,0.4 0 1,0 0.8,0a0.4,0.4 0 1,0 -0.8,0M482.2,866.1a0.4,0.4 0 1,0 0.8,0a0.4,0.4 0 1,0 -0.8,0M487.5,871.4a0.4,0.4 0 1,0 0.8,0a0.4,0.4 0 1,0 -0.8,0M474.7,886.0a0.4,0.4 0 1,0 0.7,0a0.4,0.4 0 1,0 -0.7,0M467.9,881.1a0.4,0.4 0 1,0 0.8,0a0.4,0.4 0 1,0 -0.8,0M461.4,886.0a0.6,0.6 0 1,0 1.3,0a0.6,0.6 0 1,0 -1.3,0M485.1,901.6a0.5,0.5 0 1,0 1.0,0a0.5,0.5 0 1,0 -1.0,0M447.4,898.5a0.5,0.5 0 1,0 1.0,0a0.5,0.5 0 1,0 -1.0,0M419.0,914.4a0.6,0.6 0 1,0 1.3,0a0.6,0.6 0 1,0 -1.3,0M492.8,914.8a0.5,0.5 0 1,0 0.9,0a0.5,0.5 0 1,0 -0.9,0M390.1,913.0a0.3,0.3 0 1,0 0.6,0a0.3,0.3 0 1,0 -0.6,0M449.0,901.1a0.6,0.6 0 1,0 1.2,0a0.6,0.6 0 1,0 -1.2,0M472.6,905.3a0.4,0.4 0 1,0 0.9,0a0.4,0.4 0 1,0 -0.9,0M493.0,903.3a0.5,0.5 0 1,0 1.1,0a0.5,0.5 0 1,0 -1.1,0M466.1,886.8a0.6,0.6 0 1,0 1.1,0a0.6,0.6 0 1,0 -1.1,0M454.7,916.0a0.5,0.5 0 1,0 1.1,0a0.5,0.5 0 1,0 -1.1,0M429.1,905.9a0.6,0.6 0 1,0 1.2,0a0.6,0.6 0 1,0 -1.2,0M480.8,868.7a0.4,0.4 0 1,0 0.8,0a0.4,0.4 0 1,0 -0.8,0M486.5,890.2a0.4,0.4 0 1,0 0.8,0a0.4,0.4 0 1,0 -0.8,0M441.9,897.5a0.4,0.4 0 1,0 0.7,0a0.4,0.4 0 1,0 -0.7,0M444.8,893.0a0.6,0.6 0 1,0 1.2,0a0.6,0.6 0 1,0 -1.2,0M444.9,899.2a0.6,0.6 0 1,0 1.3,0a0.6,0.6 0 1,0 -1.3,0M437.6,896.3a0.4,0.4 0 1,0 0.8,0a0.4,0.4 0 1,0 -0.8,0M472.1,887.0a0.5,0.5 0 1,0 1.0,0a0.5,0.5 0 1,0 -1.0,0M429.5,911.6a0.5,0.5 0 1,0 1.1,0a0.5,0.5 0 1,0 -1.1,0M444.0,901.9a0.4,0.4 0 1,0 0.7,0a0.4,0.4 0 1,0 -0.7,0M465.9,891.6a0.6,0.6 0 1,0 1.2,0a0.6,0.6 0 1,0 -1.2,0M491.6,909.8a0.4,0.4 0 1,0 0.8,0a0.4,0.4 0 1,0 -0.8,0M471.4,887.1a0.6,0.6 0 1,0 1.1,0a0.6,0.6 0 1,0 -1.1,0M455.1,910.0a0.3,0.3 0 1,0 0.7,0a0.3,0.3 0 1,0 -0.7,0M451.8,909.5a0.4,0.4 0 1,0 0.9,0a0.4,0.4 0 1,0 -0.9,0M457.7,909.2a0.4,0.4 0 1,0 0.7,0a0.4,0.4 0 1,0 -0.7,0M439.6,893.0a0.6,0.6 0 1,0 1.2,0a0.6,0.6 0 1,0 -1.2,0M471.8,904.1a0.4,0.4 0 1,0 0.9,0a0.4,0.4 0 1,0 -0.9,0M455.9,883.1a0.3,0.3 0 1,0 0.6,0a0.3,0.3 0 1,0 -0.6,0M453.7,893.9a0.6,0.6 0 1,0 1.3,0a0.6,0.6 0 1,0 -1.3,0M465.1,891.3a0.3,0.3 0 1,0 0.7,0a0.3,0.3 0 1,0 -0.7,0M428.0,911.1a0.5,0.5 0 1,0 1.0,0a0.5,0.5 0 1,0 -1.0,0M452.4,916.2a0.6,0.6 0 1,0 1.2,0a0.6,0.6 0 1,0 -1.2,0M440.0,885.7a0.6,0.6 0 1,0 1.1,0a0.6,0.6 0 1,0 -1.1,0M483.9,880.9a0.6,0.6 0 1,0 1.1,0a0.6,0.6 0 1,0 -1.1,0M463.7,876.7a0.5,0.5 0 1,0 1.0,0a0.5,0.5 0 1,0 -1.0,0M431.2,898.2a0.6,0.6 0 1,0 1.2,0a0.6,0.6 0 1,0 -1.2,0M479.0,899.1a0.5,0.5 0 1,0 1.0,0a0.5,0.5 0 1,0 -1.0,0M443.8,914.6a0.6,0.6 0 1,0 1.2,0a0.6,0.6 0 1,0 -1.2,0M487.2,901.5a0.5,0.5 0 1,0 0.9,0a0.5,0.5 0 1,0 -0.9,0" fill="#222"/>
<path d="M374,913 C410,896 450,880 481,867" stroke="#222" stroke-width="0.9" fill="none" stroke-dasharray="3 1.5"/>
<path d="M300,889 L330,886 M305,893 L335,889 M340,883 L360,880 M402,870 L440,860 M405,875 L445,864 M410,880 L430,874 M442,862 L460,858" stroke="#333" stroke-width="0.8"/>
<path d="M404.0,866.0l8,-2M408.0,865.2l8,-2M412.0,864.4l8,-2M416.0,863.6l8,-2M420.0,862.8l8,-2M424.0,862.0l8,-2M428.0,861.2l8,-2M432.0,860.4l8,-2M436.0,859.6l8,-2M440.0,858.8l8,-2M444.0,858.0l8,-2M448.0,857.2l8,-2M452.0,856.4l8,-2M456.0,855.6l8,-2" stroke="#222" stroke-width="0.8"/>
<ellipse cx="293" cy="884" rx="13" ry="5" fill="#222"/>
<polygon points="344.6,825.0 384.6,784.5 441.0,790.2 456.8,812.0 475.6,816.2 480.0,822.0 481.0,839.4 464.0,842.3 402.0,856.7 346.0,867.0" fill="#fff" stroke="#111" stroke-width="1.2" stroke-linejoin="round"/>
<polygon points="391.8,790 408,791 411,816 396,817" fill="#bbb" stroke="#111" stroke-width="1.1"/>
<path d="M395,795 L407,795 M395,800 L408,800 M396,806 L409,806 M396,811 L410,811" stroke="#444" stroke-width="0.8"/>
<polygon points="416,792 427,793 432,819 418,820" fill="#888" stroke="#111" stroke-width="1.1"/>
<path d="M418,808 L431,808 M418,813 L432,813 M419,798 L427,800" stroke="#eee" stroke-width="0.8"/>
<polygon points="431,792 441,793 455,815 434,817" fill="#999" stroke="#111" stroke-width="1.1"/>
<path d="M435,806 L450,806 M436,811 L453,811 M434,798 L444,799" stroke="#eee" stroke-width="0.8"/>
<path d="M410,790 L414,850 M437,820 L440,845 M344.6,830 L470,815 M402,852 L464,838 M402,856 L464,842" stroke="#111" stroke-width="0.9" fill="none"/>
<rect x="456.8" y="804.7" width="10" height="8.5" fill="#fff" stroke="#111" stroke-width="1.1"/>
<path d="M364,866 C366,848 380,842 392,845 C400,848 403,856 402,862 Z" fill="#333" stroke="#111" stroke-width="1.2"/>
<path d="M366,863 C370,852 382,848 392,850 C397,853 398,858 398,862" stroke="#bbb" stroke-width="0.8" fill="none"/>
<path d="M463,843 C464,832 472,826 480,828 L484,840 Z" fill="#333"/>
<ellipse cx="469" cy="852.4" rx="10" ry="14.5" fill="#111"/>
<ellipse cx="472" cy="852.4" rx="8" ry="13.5" fill="#fff" stroke="#111" stroke-width="1.2"/>
<ellipse cx="473" cy="852.4" rx="4" ry="7" fill="#fff" stroke="#111" stroke-width="1.6"/>
<polygon points="249.3,820.0 330.6,826.3 332.0,866.9 247.8,857.5" fill="#fff" stroke="#111" stroke-width="1.2" stroke-linejoin="round"/>
<path d="M250,830 L331,836 M249,838 L331,844 M249,846 L332,854 M250,852 L332,860" stroke="#222" stroke-width="0.8"/>
<rect x="280" y="832" width="7" height="3" rx="1.5" fill="#fff" stroke="#111" stroke-width="0.9"/>
<path d="M249.3,822 C245,826 244,850 247.8,857" stroke="#111" stroke-width="1.5" fill="none"/>
<polygon points="331,826 342,826 345,831 345,857 333,858" fill="#555" stroke="#111" stroke-width="1"/>
<path d="M335,829 L335,856 M338,828 L338,856 M341,829 L341,856" stroke="#ccc" stroke-width="0.7"/>
<polygon points="238.4,859.0 338.0,871.6 360.0,866.0 368.0,862.0 366.0,870.0 335.0,882.0 329.0,885.6 241.5,874.0" fill="#fff" stroke="#111" stroke-width="1.2" stroke-linejoin="round"/>
<path d="M240,864 L336,876 M240,869 L333,880" stroke="#222" stroke-width="0.7"/>
<rect x="266.5" y="865" width="29" height="13" fill="#fff" stroke="#111" stroke-width="1.1"/>
<rect x="268" y="866" width="8" height="10" fill="#333"/>
<circle cx="283" cy="874" r="2" fill="none" stroke="#111" stroke-width="1.1"/>
<ellipse cx="379.5" cy="884.2" rx="17.5" ry="20" fill="#111"/>
<ellipse cx="383" cy="884.2" rx="14.5" ry="18.5" fill="#fff" stroke="#111" stroke-width="1.2"/>
<ellipse cx="384" cy="884.2" rx="7" ry="9" fill="#fff" stroke="#111" stroke-width="2.2"/>
<ellipse cx="384.5" cy="884.2" rx="2.5" ry="3.5" fill="#111"/>
<path d="M365.0,868.0l3,0M365.5,870.6l3,0M365.0,873.2l3,0M365.5,875.8l3,0M365.0,878.4l3,0M365.5,881.0l3,0M365.0,883.6l3,0M365.5,886.2l3,0M365.0,888.8l3,0M365.5,891.4l3,0M365.0,894.0l3,0M365.5,896.6l3,0M365.0,899.2l3,0" stroke="#fff" stroke-width="0.7"/>
<polygon points="257,815 389,817 399,806 395,820 330,826 260,820" fill="#333"/>
<polygon points="266.5,784.8 330.0,781.0 389.0,787.3 399.0,806.0 395.0,815.0 377.4,817.0 354.0,820.0 330.6,824.0 301.0,820.0 272.8,817.0 257.0,815.3" fill="#97b3e0" stroke="#2e63b3" stroke-width="1.5" stroke-linejoin="round"/>
<path d="M257,815 Q264.9,810.0 272.8,817 Q286.9,812.0 301,820 Q315.8,815.0 330.6,824 Q342.3,815.0 354,820 Q365.7,812.0 377.4,817 Q386.2,810.0 395,815 " stroke="#2e63b3" stroke-width="1.6" fill="none"/>
<path d="M329,782 L331,823 M270,803 L273,816 L278,805 M298,805 L301,819 L306,806 M348,806 L354,819 L360,806 M372,804 L377,816 L383,805" stroke="#2e63b3" stroke-width="1" fill="none"/>
<g fill="#1f55a8"><circle cx="272.8" cy="817" r="1.3"/><circle cx="301" cy="820" r="1.3"/><circle cx="330.6" cy="824" r="1.3"/><circle cx="354" cy="820" r="1.3"/><circle cx="377.4" cy="817" r="1.3"/></g>
</g>
<g clip-path="url(#c8)">
<g stroke="#5a5a5a" stroke-width="0.9" fill="none">
<line x1="530" y1="777" x2="613" y2="777"/>
<line x1="530" y1="808.4" x2="613.5" y2="808.4"/>
<line x1="614" y1="750" x2="556" y2="808.4"/>
<line x1="613" y1="777" x2="582" y2="808.4"/>
<line x1="613.5" y1="808.4" x2="581" y2="841"/>
</g>
<rect x="529" y="841" width="84.5" height="87" fill="#0b2e7c"/>
<rect x="530" y="851.4" width="72.5" height="75.6" fill="#d0d0d0"/>
<rect x="530" y="926.6" width="72.5" height="1.2" fill="#8d96aa"/>
<g stroke="#e0909c" stroke-width="1.1">
<line x1="607" y1="765" x2="637" y2="765"/>
<line x1="607" y1="796.8" x2="637" y2="796.8"/>
<line x1="607" y1="829.6" x2="637" y2="829.6"/>
<line x1="607" y1="861.4" x2="637" y2="861.4"/>
<line x1="607" y1="893.4" x2="637" y2="893.4"/>
<line x1="613" y1="921.6" x2="637" y2="921.6"/>
</g>

</g>
<g fill="none" stroke="#161616" stroke-width="2">
<rect x="230" y="50" width="264" height="167"/>
<rect x="530" y="50" width="264" height="167"/>
<rect x="230" y="285" width="264" height="166"/>
<rect x="530" y="285" width="264" height="166"/>
<rect x="230" y="520" width="264" height="166"/>
<rect x="530" y="520" width="264" height="166"/>
<rect x="230" y="751" width="264" height="166"/>
<rect x="530" y="751" width="264" height="192"/>
</g>
</svg>
<div class="lbl" style="left:267.1px;top:224.2px;transform:scaleX(1.0724)">Lona de polietileno</div>
<div class="lbl" style="left:633.0px;top:225.4px;transform:scaleX(1.0175)">Jardín</div>
<div class="lbl" style="left:318.6px;top:458.7px;transform:scaleX(1.0537)">Industria</div>
<div class="lbl" style="left:594.5px;top:459.6px;transform:scaleX(1.0677)">Campamento</div>
<div class="lbl" style="left:309.8px;top:692.6px;transform:scaleX(1.0520)">Agricultura</div>
<div class="lbl" style="left:632.4px;top:692.7px;transform:scaleX(1.0214)">Hogar</div>
<div class="lbl" style="left:302.8px;top:927.7px;transform:scaleX(1.0591)">Camionetas</div>
<div class="lbl" style="left:545.3px;top:953.7px;transform:scaleX(1.0601)">Construcción de la lona</div>
<div class="dt" style="left:642.3px;top:755.9px">Laminación superior</div>
<div class="dt" style="left:642.3px;top:767.1px">impermeable</div>
<div class="dt" style="left:642.3px;top:789.4px">Tela de polietileno</div>
<div class="dt" style="left:642.3px;top:800.7px">de alta densidad</div>
<div class="dt" style="left:642.3px;top:822.2px">Laminación inferior</div>
<div class="dt" style="left:642.3px;top:833.5px">impermeable</div>
<div class="dt" style="left:642.3px;top:854.3px">Refuerzo para evitar</div>
<div class="dt" style="left:642.3px;top:863.4px">desgarramiento</div>
<div class="dt" style="left:642.3px;top:882.7px">Refuerzo de rafia de</div>
<div class="dt" style="left:642.3px;top:893.9px">polietileno en el perímetro</div>
<div class="dt" style="left:642.3px;top:916.5px">Sellado por calor</div>

</body></html>
